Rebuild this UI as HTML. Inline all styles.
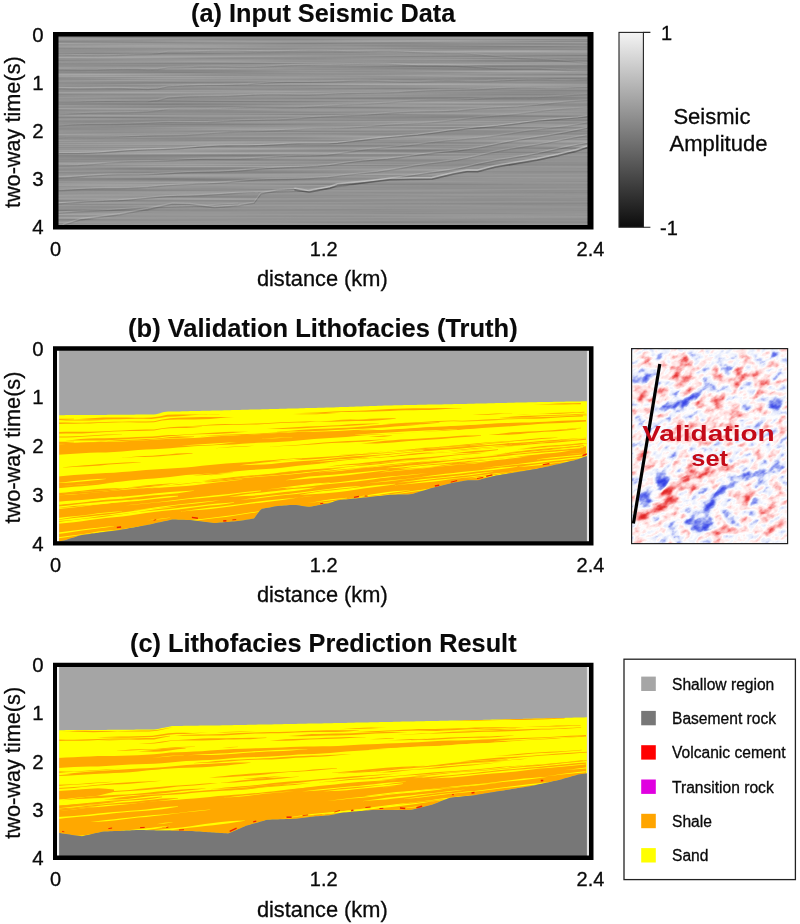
<!DOCTYPE html>
<html lang="en"><head><meta charset="utf-8"><title>Lithofacies prediction figure</title>
<style>html,body{margin:0;padding:0;background:#fff}svg{display:block}text{font-family:"Liberation Sans", Arial, Helvetica, sans-serif;fill:#0a0a0a;stroke:#0a0a0a;stroke-width:0.3px}</style></head><body>
<svg width="800" height="924" viewBox="0 0 800 924">
<rect width="800" height="924" fill="#fff"/>
<defs>
<filter id="seis" x="0" y="0" width="100%" height="100%" color-interpolation-filters="sRGB"><feTurbulence type="fractalNoise" baseFrequency="0.003 0.42" numOctaves="3" seed="7" result="n"/><feColorMatrix in="n" type="matrix" values="0.26 0 0 0 0.445  0.26 0 0 0 0.445  0.26 0 0 0 0.445  0 0 0 0 1"/></filter>
<linearGradient id="cb" x1="0" y1="0" x2="0" y2="1"><stop offset="0" stop-color="#f4f4f4"/><stop offset="1" stop-color="#0c0c0c"/></linearGradient>
<filter id="vmap" x="0" y="0" width="100%" height="100%" color-interpolation-filters="sRGB"><feGaussianBlur in="SourceGraphic" stdDeviation="2" result="sig"/><feTurbulence type="fractalNoise" baseFrequency="0.09 0.15" numOctaves="3" seed="4" result="n"/><feColorMatrix in="n" type="matrix" values="0.85 0 0 0 0.075  0.85 0 0 0 0.075  0.85 0 0 0 0.075  0 0 0 0 1" result="ng"/><feComposite in="sig" in2="ng" operator="arithmetic" k1="0" k2="1" k3="1" k4="-0.5" result="sum"/><feComponentTransfer in="sum"><feFuncR type="table" tableValues="0.2 0.35 0.6 0.9 1 1 0.98 0.93 0.88"/><feFuncG type="table" tableValues="0.25 0.4 0.65 0.92 1 0.87 0.62 0.32 0.15"/><feFuncB type="table" tableValues="0.9 0.92 0.95 0.99 1 0.87 0.62 0.32 0.15"/><feFuncA type="linear" slope="0" intercept="1"/></feComponentTransfer></filter>
<filter id="blur4" x="-30%" y="-30%" width="160%" height="160%"><feGaussianBlur stdDeviation="2.6"/></filter>
</defs>
<rect x="58.5" y="36.5" width="529.0" height="188.5" fill="#949494"/>
<rect x="58.5" y="36.5" width="529.0" height="188.5" fill="#949494" filter="url(#seis)"/>
<clipPath id="clipa"><rect x="58.5" y="36.5" width="529" height="188.5"/></clipPath>
<g clip-path="url(#clipa)" fill="none" stroke-linecap="round" stroke-linejoin="round">
<polygon points="58.0,233.7 64.0,226.3 81.5,220.9 120.0,215.9 148.0,210.8 172.5,205.5 190.0,206.0 214.5,209.0 239.0,207.0 254.0,204.6 261.0,195.2 277.5,192.2 295.0,191.0 309.0,193.2 330.0,189.2 337.5,186.6 362.0,184.1 390.0,181.1 411.0,180.6 432.0,180.3 453.0,175.2 467.0,172.7 477.5,172.7 495.0,168.3 516.0,164.8 537.0,161.3 558.0,156.8 575.5,152.6 588.0,148.5 588,226 58,226" fill="#929292" opacity="0.55"/>
<path d="M58.0 54.0 L68.0 54.1 L78.0 54.4 L88.0 54.6 L98.0 54.8 L108.0 54.6 L118.0 54.3 L128.0 53.9 L138.0 53.5 L148.0 53.4 L158.0 52.8 L168.0 51.0 L178.0 51.0 L188.0 50.9 L198.0 50.6 L208.0 50.2 L218.0 49.9 L228.0 49.9 L238.0 50.0 L248.0 50.3 L258.0 50.6 L268.0 50.7 L278.0 50.5 L288.0 50.2 L298.0 49.9 L308.0 49.8 L318.0 49.8 L328.0 49.9 L338.0 50.3 L348.0 50.6 L358.0 50.6 L368.0 50.4 L378.0 50.2 L388.0 50.2 L398.0 50.5 L408.0 51.1 L418.0 51.6 L428.0 52.0 L438.0 52.3 L448.0 52.4 L458.0 52.5 L468.0 53.0 L478.0 53.7 L488.0 54.7 L498.0 55.7 L508.0 56.6 L518.0 57.3 L528.0 57.8 L538.0 58.3 L548.0 58.8 L558.0 59.6 L568.0 60.5 L578.0 61.5 L588.0 62.3" stroke="#e2e2e2" stroke-width="1.1" opacity="0.1"/>
<path d="M58.0 55.3 L68.0 55.4 L78.0 55.7 L88.0 55.9 L98.0 56.1 L108.0 55.9 L118.0 55.6 L128.0 55.2 L138.0 54.8 L148.0 54.7 L158.0 54.1 L168.0 52.3 L178.0 52.3 L188.0 52.2 L198.0 51.9 L208.0 51.5 L218.0 51.2 L228.0 51.2 L238.0 51.3 L248.0 51.6 L258.0 51.9 L268.0 52.0 L278.0 51.8 L288.0 51.5 L298.0 51.2 L308.0 51.1 L318.0 51.1 L328.0 51.2 L338.0 51.6 L348.0 51.9 L358.0 51.9 L368.0 51.7 L378.0 51.5 L388.0 51.5 L398.0 51.8 L408.0 52.4 L418.0 52.9 L428.0 53.3 L438.0 53.6 L448.0 53.7 L458.0 53.8 L468.0 54.3 L478.0 55.0 L488.0 56.0 L498.0 57.0 L508.0 57.9 L518.0 58.6 L528.0 59.1 L538.0 59.6 L548.0 60.1 L558.0 60.9 L568.0 61.8 L578.0 62.8 L588.0 63.6" stroke="#383838" stroke-width="1.1" opacity="0.1"/>
<path d="M58.0 69.0 L68.0 69.1 L78.0 69.3 L88.0 69.2 L98.0 69.1 L108.0 68.7 L118.0 68.4 L128.0 68.2 L138.0 68.3 L148.0 68.7 L158.0 68.3 L168.0 66.7 L178.0 66.6 L188.0 66.4 L198.0 66.1 L208.0 65.9 L218.0 65.9 L228.0 66.1 L238.0 66.3 L248.0 66.3 L258.0 66.1 L268.0 65.7 L278.0 65.1 L288.0 64.6 L298.0 64.2 L308.0 64.1 L318.0 64.0 L328.0 63.9 L338.0 63.8 L348.0 63.5 L358.0 63.2 L368.0 62.9 L378.0 62.9 L388.0 63.1 L398.0 63.6 L408.0 64.2 L418.0 64.6 L428.0 64.7 L438.0 64.8 L448.0 64.9 L458.0 65.2 L468.0 65.8 L478.0 66.5 L488.0 67.2 L498.0 67.7 L508.0 67.9 L518.0 67.9 L528.0 67.9 L538.0 68.0 L548.0 68.4 L558.0 68.9 L568.0 69.3 L578.0 69.7 L588.0 69.8" stroke="#e2e2e2" stroke-width="1.1" opacity="0.12"/>
<path d="M58.0 70.3 L68.0 70.4 L78.0 70.6 L88.0 70.5 L98.0 70.4 L108.0 70.0 L118.0 69.7 L128.0 69.5 L138.0 69.6 L148.0 70.0 L158.0 69.6 L168.0 68.0 L178.0 67.9 L188.0 67.7 L198.0 67.4 L208.0 67.2 L218.0 67.2 L228.0 67.4 L238.0 67.6 L248.0 67.6 L258.0 67.4 L268.0 67.0 L278.0 66.4 L288.0 65.9 L298.0 65.5 L308.0 65.4 L318.0 65.3 L328.0 65.2 L338.0 65.1 L348.0 64.8 L358.0 64.5 L368.0 64.2 L378.0 64.2 L388.0 64.4 L398.0 64.9 L408.0 65.5 L418.0 65.9 L428.0 66.0 L438.0 66.1 L448.0 66.2 L458.0 66.5 L468.0 67.1 L478.0 67.8 L488.0 68.5 L498.0 69.0 L508.0 69.2 L518.0 69.2 L528.0 69.2 L538.0 69.3 L548.0 69.7 L558.0 70.2 L568.0 70.6 L578.0 71.0 L588.0 71.1" stroke="#383838" stroke-width="1.1" opacity="0.12"/>
<path d="M58.0 87.3 L68.0 87.6 L78.0 87.7 L88.0 87.6 L98.0 87.4 L108.0 87.3 L118.0 87.3 L128.0 87.6 L138.0 88.0 L148.0 88.3 L158.0 87.7 L168.0 85.7 L178.0 85.2 L188.0 84.8 L198.0 84.4 L208.0 84.2 L218.0 84.2 L228.0 84.1 L238.0 83.8 L248.0 83.4 L258.0 82.7 L268.0 82.0 L278.0 81.5 L288.0 81.2 L298.0 81.2 L308.0 81.2 L318.0 81.1 L328.0 80.9 L338.0 80.6 L348.0 80.2 L358.0 80.0 L368.0 80.0 L378.0 80.2 L388.0 80.4 L398.0 80.7 L408.0 80.8 L418.0 80.7 L428.0 80.4 L438.0 80.2 L448.0 80.1 L458.0 80.2 L468.0 80.4 L478.0 80.5 L488.0 80.4 L498.0 80.0 L508.0 79.5 L518.0 79.1 L528.0 78.9 L538.0 78.9 L548.0 79.1 L558.0 79.4 L568.0 79.4 L578.0 79.3 L588.0 79.1" stroke="#e2e2e2" stroke-width="1.1" opacity="0.16"/>
<path d="M58.0 88.6 L68.0 88.9 L78.0 89.0 L88.0 88.9 L98.0 88.7 L108.0 88.6 L118.0 88.6 L128.0 88.9 L138.0 89.3 L148.0 89.6 L158.0 89.0 L168.0 87.0 L178.0 86.5 L188.0 86.1 L198.0 85.7 L208.0 85.5 L218.0 85.5 L228.0 85.4 L238.0 85.1 L248.0 84.7 L258.0 84.0 L268.0 83.3 L278.0 82.8 L288.0 82.5 L298.0 82.5 L308.0 82.5 L318.0 82.4 L328.0 82.2 L338.0 81.9 L348.0 81.5 L358.0 81.3 L368.0 81.3 L378.0 81.5 L388.0 81.7 L398.0 82.0 L408.0 82.1 L418.0 82.0 L428.0 81.7 L438.0 81.5 L448.0 81.4 L458.0 81.5 L468.0 81.7 L478.0 81.8 L488.0 81.7 L498.0 81.3 L508.0 80.8 L518.0 80.4 L528.0 80.2 L538.0 80.2 L548.0 80.4 L558.0 80.7 L568.0 80.7 L578.0 80.6 L588.0 80.4" stroke="#383838" stroke-width="1.1" opacity="0.16"/>
<path d="M58.0 100.9 L68.0 101.0 L78.0 100.9 L88.0 100.6 L98.0 100.4 L108.0 100.3 L118.0 100.5 L128.0 100.6 L138.0 100.7 L148.0 100.6 L158.0 99.4 L168.0 96.9 L178.0 96.3 L188.0 95.8 L198.0 95.6 L208.0 95.5 L218.0 95.4 L228.0 95.2 L238.0 94.8 L248.0 94.2 L258.0 93.7 L268.0 93.5 L278.0 93.4 L288.0 93.6 L298.0 93.8 L308.0 93.8 L318.0 93.6 L328.0 93.2 L338.0 92.7 L348.0 92.3 L358.0 92.2 L368.0 92.1 L378.0 92.0 L388.0 91.8 L398.0 91.4 L408.0 90.8 L418.0 90.2 L428.0 89.7 L438.0 89.4 L448.0 89.2 L458.0 89.2 L468.0 89.0 L478.0 88.6 L488.0 88.1 L498.0 87.5 L508.0 87.1 L518.0 86.9 L528.0 87.0 L538.0 87.2 L548.0 87.4 L558.0 87.4 L568.0 87.2 L578.0 86.8 L588.0 86.6" stroke="#e2e2e2" stroke-width="1.1" opacity="0.14"/>
<path d="M58.0 102.2 L68.0 102.3 L78.0 102.2 L88.0 101.9 L98.0 101.7 L108.0 101.6 L118.0 101.8 L128.0 101.9 L138.0 102.0 L148.0 101.9 L158.0 100.7 L168.0 98.2 L178.0 97.6 L188.0 97.1 L198.0 96.9 L208.0 96.8 L218.0 96.7 L228.0 96.5 L238.0 96.1 L248.0 95.5 L258.0 95.0 L268.0 94.8 L278.0 94.7 L288.0 94.9 L298.0 95.1 L308.0 95.1 L318.0 94.9 L328.0 94.5 L338.0 94.0 L348.0 93.6 L358.0 93.5 L368.0 93.4 L378.0 93.3 L388.0 93.1 L398.0 92.7 L408.0 92.1 L418.0 91.5 L428.0 91.0 L438.0 90.7 L448.0 90.5 L458.0 90.5 L468.0 90.3 L478.0 89.9 L488.0 89.4 L498.0 88.8 L508.0 88.4 L518.0 88.2 L528.0 88.3 L538.0 88.5 L548.0 88.7 L558.0 88.7 L568.0 88.5 L578.0 88.1 L588.0 87.9" stroke="#383838" stroke-width="1.1" opacity="0.14"/>
<path d="M58.0 113.8 L68.0 113.3 L78.0 112.7 L88.0 112.2 L98.0 111.9 L108.0 111.8 L118.0 111.8 L128.0 111.6 L138.0 111.3 L148.0 110.8 L158.0 109.8 L168.0 108.2 L178.0 107.9 L188.0 107.9 L198.0 108.0 L208.0 108.1 L218.0 107.9 L228.0 107.6 L238.0 107.2 L248.0 106.8 L258.0 106.7 L268.0 106.7 L278.0 106.8 L288.0 106.8 L298.0 106.6 L308.0 106.1 L318.0 105.5 L328.0 104.9 L338.0 104.3 L348.0 103.8 L358.0 103.5 L368.0 103.1 L378.0 102.5 L388.0 101.8 L398.0 100.9 L408.0 100.2 L418.0 99.6 L428.0 99.3 L438.0 99.2 L448.0 99.2 L458.0 99.0 L468.0 98.6 L478.0 98.0 L488.0 97.4 L498.0 97.0 L508.0 96.8 L518.0 96.7 L528.0 96.7 L538.0 96.5 L548.0 96.0 L558.0 95.4 L568.0 94.6 L578.0 93.9 L588.0 93.5" stroke="#e2e2e2" stroke-width="1.1" opacity="0.1"/>
<path d="M58.0 115.1 L68.0 114.6 L78.0 114.0 L88.0 113.5 L98.0 113.2 L108.0 113.1 L118.0 113.1 L128.0 112.9 L138.0 112.6 L148.0 112.1 L158.0 111.1 L168.0 109.5 L178.0 109.2 L188.0 109.2 L198.0 109.3 L208.0 109.4 L218.0 109.2 L228.0 108.9 L238.0 108.5 L248.0 108.1 L258.0 108.0 L268.0 108.0 L278.0 108.1 L288.0 108.1 L298.0 107.9 L308.0 107.4 L318.0 106.8 L328.0 106.2 L338.0 105.6 L348.0 105.1 L358.0 104.8 L368.0 104.4 L378.0 103.8 L388.0 103.1 L398.0 102.2 L408.0 101.5 L418.0 100.9 L428.0 100.6 L438.0 100.5 L448.0 100.5 L458.0 100.3 L468.0 99.9 L478.0 99.3 L488.0 98.7 L498.0 98.3 L508.0 98.1 L518.0 98.0 L528.0 98.0 L538.0 97.8 L548.0 97.3 L558.0 96.7 L568.0 95.9 L578.0 95.2 L588.0 94.8" stroke="#383838" stroke-width="1.1" opacity="0.1"/>
<path d="M58.0 124.9 L68.0 124.2 L78.0 123.7 L88.0 123.5 L98.0 123.4 L108.0 123.4 L118.0 123.3 L128.0 123.0 L138.0 122.6 L148.0 122.2 L158.0 121.7 L168.0 121.3 L178.0 121.4 L188.0 121.5 L198.0 121.5 L208.0 121.3 L218.0 120.8 L228.0 120.2 L238.0 119.7 L248.0 119.4 L258.0 119.2 L268.0 119.0 L278.0 118.8 L288.0 118.3 L298.0 117.6 L308.0 116.8 L318.0 116.1 L328.0 115.6 L338.0 115.2 L348.0 114.8 L358.0 114.4 L368.0 113.9 L378.0 113.1 L388.0 112.3 L398.0 111.6 L408.0 111.2 L418.0 110.9 L428.0 110.8 L438.0 110.7 L448.0 110.3 L458.0 109.7 L468.0 108.8 L478.0 108.0 L488.0 107.2 L498.0 106.6 L508.0 106.2 L518.0 105.7 L528.0 104.9 L538.0 104.0 L548.0 102.8 L558.0 101.7 L568.0 100.8 L578.0 100.0 L588.0 99.5" stroke="#e2e2e2" stroke-width="1.1" opacity="0.14"/>
<path d="M58.0 126.2 L68.0 125.5 L78.0 125.0 L88.0 124.8 L98.0 124.7 L108.0 124.7 L118.0 124.6 L128.0 124.3 L138.0 123.9 L148.0 123.5 L158.0 123.0 L168.0 122.6 L178.0 122.7 L188.0 122.8 L198.0 122.8 L208.0 122.6 L218.0 122.1 L228.0 121.5 L238.0 121.0 L248.0 120.7 L258.0 120.5 L268.0 120.3 L278.0 120.1 L288.0 119.6 L298.0 118.9 L308.0 118.1 L318.0 117.4 L328.0 116.9 L338.0 116.5 L348.0 116.1 L358.0 115.7 L368.0 115.2 L378.0 114.4 L388.0 113.6 L398.0 112.9 L408.0 112.5 L418.0 112.2 L428.0 112.1 L438.0 112.0 L448.0 111.6 L458.0 111.0 L468.0 110.1 L478.0 109.3 L488.0 108.5 L498.0 107.9 L508.0 107.5 L518.0 107.0 L528.0 106.2 L538.0 105.3 L548.0 104.1 L558.0 103.0 L568.0 102.1 L578.0 101.3 L588.0 100.8" stroke="#383838" stroke-width="1.1" opacity="0.14"/>
<path d="M58.0 136.8 L68.0 136.5 L78.0 136.5 L88.0 136.6 L98.0 136.6 L108.0 136.5 L118.0 136.2 L128.0 135.7 L138.0 135.2 L148.0 134.8 L158.0 134.6 L168.0 134.6 L178.0 134.4 L188.0 134.1 L198.0 133.5 L208.0 132.7 L218.0 131.9 L228.0 131.3 L238.0 130.9 L248.0 130.7 L258.0 130.5 L268.0 130.1 L278.0 129.6 L288.0 129.0 L298.0 128.4 L308.0 127.9 L318.0 127.7 L328.0 127.7 L338.0 127.5 L348.0 127.1 L358.0 126.5 L368.0 125.7 L378.0 124.8 L388.0 124.0 L398.0 123.4 L408.0 122.9 L418.0 122.5 L428.0 121.9 L438.0 121.1 L448.0 120.1 L458.0 118.9 L468.0 117.7 L478.0 116.6 L488.0 115.7 L498.0 114.9 L508.0 114.1 L518.0 113.1 L528.0 111.9 L538.0 110.6 L548.0 109.4 L558.0 108.5 L568.0 107.8 L578.0 107.2 L588.0 106.7" stroke="#e2e2e2" stroke-width="1.1" opacity="0.12"/>
<path d="M58.0 138.1 L68.0 137.8 L78.0 137.8 L88.0 137.9 L98.0 137.9 L108.0 137.8 L118.0 137.5 L128.0 137.0 L138.0 136.5 L148.0 136.1 L158.0 135.9 L168.0 135.9 L178.0 135.7 L188.0 135.4 L198.0 134.8 L208.0 134.0 L218.0 133.2 L228.0 132.6 L238.0 132.2 L248.0 132.0 L258.0 131.8 L268.0 131.4 L278.0 130.9 L288.0 130.3 L298.0 129.7 L308.0 129.2 L318.0 129.0 L328.0 129.0 L338.0 128.8 L348.0 128.4 L358.0 127.8 L368.0 127.0 L378.0 126.1 L388.0 125.3 L398.0 124.7 L408.0 124.2 L418.0 123.8 L428.0 123.2 L438.0 122.4 L448.0 121.4 L458.0 120.2 L468.0 119.0 L478.0 117.9 L488.0 117.0 L498.0 116.2 L508.0 115.4 L518.0 114.4 L528.0 113.2 L538.0 111.9 L548.0 110.7 L558.0 109.8 L568.0 109.1 L578.0 108.5 L588.0 108.0" stroke="#383838" stroke-width="1.1" opacity="0.12"/>
<path d="M58.0 152.3 L68.0 152.3 L78.0 152.3 L88.0 152.1 L98.0 151.7 L108.0 151.1 L118.0 150.3 L128.0 149.6 L138.0 149.1 L148.0 148.7 L158.0 148.4 L168.0 148.1 L178.0 147.6 L188.0 146.9 L198.0 146.1 L208.0 145.4 L218.0 145.0 L228.0 144.8 L238.0 144.7 L248.0 144.7 L258.0 144.5 L268.0 144.1 L278.0 143.6 L288.0 143.1 L298.0 142.8 L308.0 142.7 L318.0 142.7 L328.0 142.7 L338.0 142.1 L348.0 141.0 L358.0 139.8 L368.0 138.6 L378.0 137.4 L388.0 136.5 L398.0 135.6 L408.0 134.8 L418.0 133.9 L428.0 132.7 L438.0 131.4 L448.0 130.0 L458.0 128.8 L468.0 127.7 L478.0 126.8 L488.0 125.9 L498.0 125.0 L508.0 123.8 L518.0 122.6 L528.0 121.2 L538.0 120.0 L548.0 119.1 L558.0 118.3 L568.0 117.5 L578.0 116.7 L588.0 115.6" stroke="#e2e2e2" stroke-width="1.1" opacity="0.3"/>
<path d="M58.0 153.6 L68.0 153.6 L78.0 153.6 L88.0 153.4 L98.0 153.0 L108.0 152.4 L118.0 151.6 L128.0 150.9 L138.0 150.4 L148.0 150.0 L158.0 149.7 L168.0 149.4 L178.0 148.9 L188.0 148.2 L198.0 147.4 L208.0 146.7 L218.0 146.3 L228.0 146.1 L238.0 146.0 L248.0 146.0 L258.0 145.8 L268.0 145.4 L278.0 144.9 L288.0 144.4 L298.0 144.1 L308.0 144.0 L318.0 144.0 L328.0 144.0 L338.0 143.4 L348.0 142.3 L358.0 141.1 L368.0 139.9 L378.0 138.7 L388.0 137.8 L398.0 136.9 L408.0 136.1 L418.0 135.2 L428.0 134.0 L438.0 132.7 L448.0 131.3 L458.0 130.1 L468.0 129.0 L478.0 128.1 L488.0 127.2 L498.0 126.3 L508.0 125.1 L518.0 123.9 L528.0 122.5 L538.0 121.3 L548.0 120.4 L558.0 119.6 L568.0 118.8 L578.0 118.0 L588.0 116.9" stroke="#383838" stroke-width="1.1" opacity="0.3"/>
<path d="M58.0 165.0 L68.0 164.8 L78.0 164.4 L88.0 163.7 L98.0 162.9 L108.0 162.0 L118.0 161.3 L128.0 160.8 L138.0 160.6 L148.0 160.4 L158.0 160.2 L168.0 159.8 L178.0 159.2 L188.0 158.6 L198.0 158.2 L208.0 157.9 L218.0 157.9 L228.0 158.0 L238.0 157.9 L248.0 157.6 L258.0 157.1 L268.0 156.5 L278.0 155.9 L288.0 155.4 L298.0 155.1 L308.0 154.9 L318.0 154.6 L328.0 154.1 L338.0 152.8 L348.0 151.3 L358.0 149.8 L368.0 148.5 L378.0 147.4 L388.0 146.5 L398.0 145.6 L408.0 144.6 L418.0 143.4 L428.0 142.0 L438.0 140.8 L448.0 139.7 L458.0 138.9 L468.0 138.0 L478.0 137.1 L488.0 135.9 L498.0 134.6 L508.0 133.1 L518.0 131.5 L528.0 130.0 L538.0 128.7 L548.0 127.6 L558.0 126.4 L568.0 125.1 L578.0 123.5 L588.0 121.7" stroke="#e2e2e2" stroke-width="1.1" opacity="0.14"/>
<path d="M58.0 166.3 L68.0 166.1 L78.0 165.7 L88.0 165.0 L98.0 164.2 L108.0 163.3 L118.0 162.6 L128.0 162.1 L138.0 161.9 L148.0 161.7 L158.0 161.5 L168.0 161.1 L178.0 160.5 L188.0 159.9 L198.0 159.5 L208.0 159.2 L218.0 159.2 L228.0 159.3 L238.0 159.2 L248.0 158.9 L258.0 158.4 L268.0 157.8 L278.0 157.2 L288.0 156.7 L298.0 156.4 L308.0 156.2 L318.0 155.9 L328.0 155.4 L338.0 154.1 L348.0 152.6 L358.0 151.1 L368.0 149.8 L378.0 148.7 L388.0 147.8 L398.0 146.9 L408.0 145.9 L418.0 144.7 L428.0 143.3 L438.0 142.1 L448.0 141.0 L458.0 140.2 L468.0 139.3 L478.0 138.4 L488.0 137.2 L498.0 135.9 L508.0 134.4 L518.0 132.8 L528.0 131.3 L538.0 130.0 L548.0 128.9 L558.0 127.7 L568.0 126.4 L578.0 124.8 L588.0 123.0" stroke="#383838" stroke-width="1.1" opacity="0.14"/>
<path d="M58.0 176.8 L68.0 176.4 L78.0 175.8 L88.0 175.0 L98.0 174.4 L108.0 173.9 L118.0 173.7 L128.0 173.7 L138.0 173.7 L148.0 173.5 L158.0 173.1 L168.0 172.6 L178.0 172.0 L188.0 171.5 L198.0 171.2 L208.0 171.1 L218.0 170.9 L228.0 170.5 L238.0 169.9 L248.0 169.1 L258.0 168.2 L268.0 167.5 L278.0 166.9 L288.0 166.5 L298.0 166.2 L308.0 165.8 L318.0 165.3 L328.0 164.5 L338.0 163.1 L348.0 161.7 L358.0 160.5 L368.0 159.6 L378.0 158.7 L388.0 157.9 L398.0 156.8 L408.0 155.5 L418.0 154.1 L428.0 152.8 L438.0 151.6 L448.0 150.7 L458.0 149.8 L468.0 148.5 L478.0 146.9 L488.0 145.1 L498.0 143.1 L508.0 141.1 L518.0 139.2 L528.0 137.6 L538.0 136.1 L548.0 134.6 L558.0 132.9 L568.0 131.1 L578.0 129.1 L588.0 127.1" stroke="#e2e2e2" stroke-width="1.1" opacity="0.22"/>
<path d="M58.0 178.1 L68.0 177.7 L78.0 177.1 L88.0 176.3 L98.0 175.7 L108.0 175.2 L118.0 175.0 L128.0 175.0 L138.0 175.0 L148.0 174.8 L158.0 174.4 L168.0 173.9 L178.0 173.3 L188.0 172.8 L198.0 172.5 L208.0 172.4 L218.0 172.2 L228.0 171.8 L238.0 171.2 L248.0 170.4 L258.0 169.5 L268.0 168.8 L278.0 168.2 L288.0 167.8 L298.0 167.5 L308.0 167.1 L318.0 166.6 L328.0 165.8 L338.0 164.4 L348.0 163.0 L358.0 161.8 L368.0 160.9 L378.0 160.0 L388.0 159.2 L398.0 158.1 L408.0 156.8 L418.0 155.4 L428.0 154.1 L438.0 152.9 L448.0 152.0 L458.0 151.1 L468.0 149.8 L478.0 148.2 L488.0 146.4 L498.0 144.4 L508.0 142.4 L518.0 140.5 L528.0 138.9 L538.0 137.4 L548.0 135.9 L558.0 134.2 L568.0 132.4 L578.0 130.4 L588.0 128.4" stroke="#383838" stroke-width="1.1" opacity="0.22"/>
<path d="M58.0 189.6 L68.0 189.1 L78.0 188.5 L88.0 188.0 L98.0 187.6 L108.0 187.4 L118.0 187.4 L128.0 187.2 L138.0 186.8 L148.0 186.2 L158.0 185.3 L168.0 184.5 L178.0 183.9 L188.0 183.4 L198.0 183.0 L208.0 182.7 L218.0 182.1 L228.0 181.4 L238.0 180.5 L248.0 179.6 L258.0 179.0 L268.0 178.6 L278.0 178.4 L288.0 178.3 L298.0 178.0 L308.0 177.6 L318.0 177.0 L328.0 176.4 L338.0 175.2 L348.0 174.0 L358.0 173.0 L368.0 172.0 L378.0 170.9 L388.0 169.4 L398.0 167.8 L408.0 166.1 L418.0 164.4 L428.0 163.0 L438.0 161.7 L448.0 160.4 L458.0 159.0 L468.0 157.1 L478.0 154.9 L488.0 152.6 L498.0 150.4 L508.0 148.5 L518.0 146.8 L528.0 145.3 L538.0 143.7 L548.0 142.0 L558.0 140.0 L568.0 138.0 L578.0 136.1 L588.0 134.4" stroke="#e2e2e2" stroke-width="1.1" opacity="0.18"/>
<path d="M58.0 190.9 L68.0 190.4 L78.0 189.8 L88.0 189.3 L98.0 188.9 L108.0 188.7 L118.0 188.7 L128.0 188.5 L138.0 188.1 L148.0 187.5 L158.0 186.6 L168.0 185.8 L178.0 185.2 L188.0 184.7 L198.0 184.3 L208.0 184.0 L218.0 183.4 L228.0 182.7 L238.0 181.8 L248.0 180.9 L258.0 180.3 L268.0 179.9 L278.0 179.7 L288.0 179.6 L298.0 179.3 L308.0 178.9 L318.0 178.3 L328.0 177.7 L338.0 176.5 L348.0 175.3 L358.0 174.3 L368.0 173.3 L378.0 172.2 L388.0 170.7 L398.0 169.1 L408.0 167.4 L418.0 165.7 L428.0 164.3 L438.0 163.0 L448.0 161.7 L458.0 160.3 L468.0 158.4 L478.0 156.2 L488.0 153.9 L498.0 151.7 L508.0 149.8 L518.0 148.1 L528.0 146.6 L538.0 145.0 L548.0 143.3 L558.0 141.3 L568.0 139.3 L578.0 137.4 L588.0 135.7" stroke="#383838" stroke-width="1.1" opacity="0.18"/>
<path d="M58.0 202.7 L68.0 202.0 L78.0 201.3 L88.0 200.7 L98.0 200.4 L108.0 200.0 L118.0 199.6 L128.0 198.9 L138.0 198.0 L148.0 197.1 L158.0 196.2 L168.0 195.5 L178.0 195.1 L188.0 194.9 L198.0 194.6 L208.0 194.1 L218.0 193.5 L228.0 192.8 L238.0 192.1 L248.0 191.7 L258.0 191.6 L308.0 189.9 L408.0 175.3 L418.0 173.7 L428.0 172.3 L438.0 170.9 L448.0 169.4 L458.0 167.8 L468.0 165.6 L478.0 163.3 L488.0 161.2 L498.0 159.3 L508.0 157.7 L518.0 156.1 L528.0 154.4 L538.0 152.5 L548.0 150.3 L558.0 148.1 L568.0 145.9 L578.0 144.0 L588.0 142.2" stroke="#e2e2e2" stroke-width="1.1" opacity="0.22"/>
<path d="M58.0 204.0 L68.0 203.3 L78.0 202.6 L88.0 202.0 L98.0 201.7 L108.0 201.3 L118.0 200.9 L128.0 200.2 L138.0 199.3 L148.0 198.4 L158.0 197.5 L168.0 196.8 L178.0 196.4 L188.0 196.2 L198.0 195.9 L208.0 195.4 L218.0 194.8 L228.0 194.1 L238.0 193.4 L248.0 193.0 L258.0 192.9 L308.0 191.2 L408.0 176.6 L418.0 175.0 L428.0 173.6 L438.0 172.2 L448.0 170.7 L458.0 169.1 L468.0 166.9 L478.0 164.6 L488.0 162.5 L498.0 160.6 L508.0 159.0 L518.0 157.4 L528.0 155.7 L538.0 153.8 L548.0 151.6 L558.0 149.4 L568.0 147.2 L578.0 145.3 L588.0 143.5" stroke="#383838" stroke-width="1.1" opacity="0.22"/>
<path d="M58.0 212.2 L68.0 211.4 L78.0 210.8 L88.0 210.3 L98.0 210.0 L108.0 209.5 L118.0 208.8 L128.0 208.0 L138.0 207.2 L208.0 204.7 L218.0 204.1 L228.0 203.5 L238.0 203.1" stroke="#e2e2e2" stroke-width="1.1" opacity="0.16"/>
<path d="M58.0 213.5 L68.0 212.7 L78.0 212.1 L88.0 211.6 L98.0 211.3 L108.0 210.8 L118.0 210.1 L128.0 209.3 L138.0 208.5 L208.0 206.0 L218.0 205.4 L228.0 204.8 L238.0 204.4" stroke="#383838" stroke-width="1.1" opacity="0.16"/>
<path d="M58.0 231.1 L64.0 223.7 L81.5 218.3 L120.0 213.3 L148.0 208.2 L172.5 202.9 L190.0 203.4 L214.5 206.4 L239.0 204.4 L254.0 202.0 L261.0 192.6 L277.5 189.6 L295.0 188.4" stroke="#e6e6e6" stroke-width="1.2" opacity="0.2"/>
<path d="M58.0 232.6 L64.0 225.2 L81.5 219.8 L120.0 214.8 L148.0 209.7 L172.5 204.4 L190.0 204.9 L214.5 207.9 L239.0 205.9 L254.0 203.5 L261.0 194.1 L277.5 191.1 L295.0 189.9" stroke="#303030" stroke-width="1.2" opacity="0.2"/>
<path d="M295.0 188.2 L309.0 190.4 L330.0 186.4 L337.5 183.8 L362.0 181.3 L390.0 178.3 L411.0 177.8 L432.0 177.5 L453.0 172.4 L467.0 169.9 L477.5 169.9 L495.0 165.5 L516.0 162.0 L537.0 158.5 L558.0 154.0 L575.5 149.8 L588.0 145.7" stroke="#ececec" stroke-width="1.5" opacity="0.4"/>
<path d="M295.0 190.0 L309.0 192.2 L330.0 188.2 L337.5 185.6 L362.0 183.1 L390.0 180.1 L411.0 179.6 L432.0 179.3 L453.0 174.2 L467.0 171.7 L477.5 171.7 L495.0 167.3 L516.0 163.8 L537.0 160.3 L558.0 155.8 L575.5 151.6 L588.0 147.5" stroke="#262626" stroke-width="1.5" opacity="0.42"/>
</g>
<path fill="#000" fill-rule="evenodd" d="M53.0 32.0H593.5V229.5H53.0Z M58.5 36.5V225.0H587.5V36.5Z"/>
<text x="43.6" y="41.5" font-size="20.4" text-anchor="end">0</text>
<text x="43.6" y="89.7" font-size="20.4" text-anchor="end">1</text>
<text x="43.6" y="137.9" font-size="20.4" text-anchor="end">2</text>
<text x="43.6" y="186.2" font-size="20.4" text-anchor="end">3</text>
<text x="43.6" y="234.4" font-size="20.4" text-anchor="end">4</text>
<text x="55.6" y="255.5" font-size="20" text-anchor="middle">0</text>
<text x="323.7" y="255.5" font-size="20" text-anchor="middle">1.2</text>
<text x="590.5" y="255.5" font-size="20" text-anchor="middle">2.4</text>
<text x="322.3" y="285.5" font-size="21.8" text-anchor="middle">distance (km)</text>
<text transform="translate(19.6 132.2) rotate(-90)" font-size="21.7" text-anchor="middle">two-way time(s)</text>
<text x="323.2" y="22.1" font-size="25.3" font-weight="bold" text-anchor="middle" style="stroke-width:0.12px">(a) Input Seismic Data</text>
<rect x="619" y="32.4" width="24.4" height="194.8" fill="url(#cb)" stroke="#222" stroke-width="1.1"/>
<path d="M643.4 32.4H650.4M643.4 227.2H650.4" stroke="#222" stroke-width="1.1" fill="none"/>
<text x="661" y="40.2" font-size="20">1</text>
<text x="660" y="235.2" font-size="20">-1</text>
<text x="673.4" y="124.2" font-size="22">Seismic</text>
<text x="669.6" y="150.6" font-size="22">Amplitude</text>
<g>
<rect x="56.5" y="350.2" width="533.0" height="191.50000000000006" fill="#a5a5a5"/>
<clipPath id="sedb"><polygon points="58.0,415.2 60.0,415.2 62.0,415.2 64.0,415.2 66.0,415.1 68.0,415.1 70.0,415.1 72.0,415.1 74.0,415.1 76.0,415.1 78.0,415.1 80.0,415.0 82.0,415.0 84.0,415.0 86.0,415.0 88.0,415.0 90.0,415.0 92.0,415.0 94.0,414.9 96.0,414.9 98.0,414.9 100.0,414.9 102.0,414.9 104.0,414.9 106.0,414.9 108.0,414.8 110.0,414.8 112.0,414.8 114.0,414.8 116.0,414.8 118.0,414.8 120.0,414.8 122.0,414.7 124.0,414.7 126.0,414.7 128.0,414.7 130.0,414.7 132.0,414.7 134.0,414.7 136.0,414.6 138.0,414.6 140.0,414.6 142.0,414.6 144.0,414.6 146.0,414.6 148.0,414.6 150.0,414.5 152.0,414.5 154.0,414.5 156.0,414.2 158.0,413.7 160.0,413.2 162.0,412.6 164.0,412.1 166.0,411.7 168.0,411.6 170.0,411.6 172.0,411.5 174.0,411.5 176.0,411.5 178.0,411.4 180.0,411.4 182.0,411.3 184.0,411.3 186.0,411.2 188.0,411.2 190.0,411.1 192.0,411.1 194.0,411.0 196.0,411.0 198.0,410.9 200.0,410.9 202.0,410.8 204.0,410.8 206.0,410.7 208.0,410.7 210.0,410.7 212.0,410.6 214.0,410.6 216.0,410.5 218.0,410.5 220.0,410.4 222.0,410.4 224.0,410.3 226.0,410.3 228.0,410.2 230.0,410.2 232.0,410.1 234.0,410.1 236.0,410.0 238.0,410.0 240.0,409.9 242.0,409.8 244.0,409.8 246.0,409.7 248.0,409.7 250.0,409.6 252.0,409.6 254.0,409.5 256.0,409.5 258.0,409.4 260.0,409.4 262.0,409.3 264.0,409.3 266.0,409.2 268.0,409.2 270.0,409.1 272.0,409.0 274.0,409.0 276.0,408.9 278.0,408.9 280.0,408.8 282.0,408.8 284.0,408.7 286.0,408.7 288.0,408.6 290.0,408.6 292.0,408.5 294.0,408.5 296.0,408.4 298.0,408.4 300.0,408.3 302.0,408.2 304.0,408.2 306.0,408.1 308.0,408.1 310.0,408.0 312.0,408.0 314.0,407.9 316.0,407.9 318.0,407.8 320.0,407.8 322.0,407.7 324.0,407.7 326.0,407.6 328.0,407.6 330.0,407.5 332.0,407.4 334.0,407.4 336.0,407.3 338.0,407.2 340.0,407.1 342.0,407.1 344.0,407.0 346.0,406.9 348.0,406.9 350.0,406.8 352.0,406.7 354.0,406.7 356.0,406.6 358.0,406.5 360.0,406.4 362.0,406.4 364.0,406.3 366.0,406.2 368.0,406.2 370.0,406.1 372.0,406.0 374.0,406.0 376.0,405.9 378.0,405.8 380.0,405.8 382.0,405.7 384.0,405.6 386.0,405.5 388.0,405.5 390.0,405.4 392.0,405.4 394.0,405.3 396.0,405.3 398.0,405.2 400.0,405.2 402.0,405.2 404.0,405.1 406.0,405.1 408.0,405.0 410.0,405.0 412.0,405.0 414.0,404.9 416.0,404.9 418.0,404.8 420.0,404.8 422.0,404.8 424.0,404.7 426.0,404.7 428.0,404.6 430.0,404.6 432.0,404.6 434.0,404.5 436.0,404.5 438.0,404.4 440.0,404.4 442.0,404.4 444.0,404.3 446.0,404.3 448.0,404.2 450.0,404.2 452.0,404.2 454.0,404.1 456.0,404.1 458.0,404.0 460.0,404.0 462.0,404.0 464.0,403.9 466.0,403.9 468.0,403.8 470.0,403.8 472.0,403.7 474.0,403.7 476.0,403.6 478.0,403.6 480.0,403.5 482.0,403.5 484.0,403.4 486.0,403.4 488.0,403.3 490.0,403.3 492.0,403.2 494.0,403.2 496.0,403.1 498.0,403.1 500.0,403.0 502.0,403.0 504.0,402.9 506.0,402.9 508.0,402.8 510.0,402.8 512.0,402.7 514.0,402.7 516.0,402.6 518.0,402.6 520.0,402.5 522.0,402.5 524.0,402.4 526.0,402.4 528.0,402.3 530.0,402.3 532.0,402.3 534.0,402.2 536.0,402.2 538.0,402.1 540.0,402.1 542.0,402.1 544.0,402.0 546.0,402.0 548.0,402.0 550.0,401.9 552.0,401.9 554.0,401.8 556.0,401.8 558.0,401.8 560.0,401.7 562.0,401.7 564.0,401.7 566.0,401.6 568.0,401.6 570.0,401.5 572.0,401.5 574.0,401.5 576.0,401.4 578.0,401.4 580.0,401.4 582.0,401.3 584.0,401.3 586.0,401.2 588.0,401.2 588.0,455.8 586.0,456.5 584.0,457.1 582.0,457.8 580.0,458.5 578.0,459.2 576.0,459.8 574.0,460.4 572.0,460.8 570.0,461.3 568.0,461.8 566.0,462.3 564.0,462.8 562.0,463.2 560.0,463.7 558.0,464.2 556.0,464.6 554.0,465.1 552.0,465.5 550.0,466.0 548.0,466.4 546.0,466.8 544.0,467.3 542.0,467.7 540.0,468.1 538.0,468.6 536.0,469.0 534.0,469.3 532.0,469.6 530.0,470.0 528.0,470.3 526.0,470.6 524.0,471.0 522.0,471.3 520.0,471.6 518.0,472.0 516.0,472.3 514.0,472.6 512.0,473.0 510.0,473.3 508.0,473.6 506.0,474.0 504.0,474.3 502.0,474.6 500.0,475.0 498.0,475.3 496.0,475.6 494.0,476.1 492.0,476.6 490.0,477.1 488.0,477.6 486.0,478.1 484.0,478.6 482.0,479.1 480.0,479.7 478.0,480.2 476.0,480.3 474.0,480.3 472.0,480.3 470.0,480.3 468.0,480.3 466.0,480.5 464.0,480.8 462.0,481.2 460.0,481.6 458.0,481.9 456.0,482.3 454.0,482.6 452.0,483.0 450.0,483.5 448.0,484.0 446.0,484.5 444.0,485.0 442.0,485.5 440.0,486.0 438.0,486.5 436.0,487.0 434.0,487.5 432.0,488.0 430.0,488.6 428.0,489.2 426.0,489.8 424.0,490.4 422.0,491.0 420.0,491.6 418.0,492.2 416.0,492.8 414.0,493.4 412.0,494.0 410.0,494.3 408.0,494.4 406.0,494.4 404.0,494.5 402.0,494.5 400.0,494.6 398.0,494.6 396.0,494.7 394.0,494.7 392.0,494.8 390.0,494.8 388.0,495.0 386.0,495.2 384.0,495.4 382.0,495.7 380.0,495.9 378.0,496.1 376.0,496.3 374.0,496.5 372.0,496.7 370.0,496.9 368.0,497.2 366.0,497.4 364.0,497.6 362.0,497.8 360.0,498.0 358.0,498.2 356.0,498.4 354.0,498.6 352.0,498.8 350.0,499.0 348.0,499.2 346.0,499.4 344.0,499.6 342.0,499.8 340.0,500.0 338.0,500.2 336.0,500.8 334.0,501.6 332.0,502.3 330.0,503.0 328.0,503.4 326.0,503.8 324.0,504.1 322.0,504.5 320.0,504.9 318.0,505.3 316.0,505.7 314.0,506.0 312.0,506.4 310.0,506.8 308.0,506.8 306.0,506.5 304.0,506.2 302.0,505.9 300.0,505.6 298.0,505.3 296.0,505.0 294.0,504.9 292.0,505.0 290.0,505.1 288.0,505.3 286.0,505.4 284.0,505.6 282.0,505.7 280.0,505.8 278.0,506.0 276.0,506.3 274.0,506.6 272.0,507.0 270.0,507.4 268.0,507.7 266.0,508.1 264.0,508.5 262.0,508.8 260.0,510.4 258.0,513.1 256.0,515.8 254.0,518.5 252.0,518.8 250.0,519.2 248.0,519.5 246.0,519.8 244.0,520.2 242.0,520.5 240.0,520.8 238.0,521.1 236.0,521.2 234.0,521.4 232.0,521.6 230.0,521.7 228.0,521.9 226.0,522.1 224.0,522.2 222.0,522.4 220.0,522.6 218.0,522.7 216.0,522.9 214.0,522.9 212.0,522.7 210.0,522.4 208.0,522.2 206.0,522.0 204.0,521.7 202.0,521.5 200.0,521.2 198.0,521.0 196.0,520.7 194.0,520.5 192.0,520.2 190.0,520.0 188.0,519.9 186.0,519.9 184.0,519.8 182.0,519.8 180.0,519.7 178.0,519.7 176.0,519.6 174.0,519.5 172.0,519.6 170.0,520.0 168.0,520.5 166.0,520.9 164.0,521.3 162.0,521.8 160.0,522.2 158.0,522.6 156.0,523.1 154.0,523.5 152.0,523.9 150.0,524.4 148.0,524.8 146.0,525.2 144.0,525.5 142.0,525.9 140.0,526.3 138.0,526.7 136.0,527.0 134.0,527.4 132.0,527.8 130.0,528.1 128.0,528.5 126.0,528.9 124.0,529.3 122.0,529.6 120.0,530.0 118.0,530.3 116.0,530.5 114.0,530.8 112.0,531.0 110.0,531.3 108.0,531.6 106.0,531.8 104.0,532.1 102.0,532.3 100.0,532.6 98.0,532.9 96.0,533.1 94.0,533.4 92.0,533.6 90.0,533.9 88.0,534.2 86.0,534.4 84.0,534.7 82.0,534.9 80.0,535.5 78.0,536.1 76.0,536.7 74.0,537.4 72.0,538.0 70.0,538.6 68.0,539.2 66.0,539.9 64.0,540.5 62.0,540.8 60.0,541.2 58.0,541.5"/></clipPath>
<polygon points="58.0,415.2 60.0,415.2 62.0,415.2 64.0,415.2 66.0,415.1 68.0,415.1 70.0,415.1 72.0,415.1 74.0,415.1 76.0,415.1 78.0,415.1 80.0,415.0 82.0,415.0 84.0,415.0 86.0,415.0 88.0,415.0 90.0,415.0 92.0,415.0 94.0,414.9 96.0,414.9 98.0,414.9 100.0,414.9 102.0,414.9 104.0,414.9 106.0,414.9 108.0,414.8 110.0,414.8 112.0,414.8 114.0,414.8 116.0,414.8 118.0,414.8 120.0,414.8 122.0,414.7 124.0,414.7 126.0,414.7 128.0,414.7 130.0,414.7 132.0,414.7 134.0,414.7 136.0,414.6 138.0,414.6 140.0,414.6 142.0,414.6 144.0,414.6 146.0,414.6 148.0,414.6 150.0,414.5 152.0,414.5 154.0,414.5 156.0,414.2 158.0,413.7 160.0,413.2 162.0,412.6 164.0,412.1 166.0,411.7 168.0,411.6 170.0,411.6 172.0,411.5 174.0,411.5 176.0,411.5 178.0,411.4 180.0,411.4 182.0,411.3 184.0,411.3 186.0,411.2 188.0,411.2 190.0,411.1 192.0,411.1 194.0,411.0 196.0,411.0 198.0,410.9 200.0,410.9 202.0,410.8 204.0,410.8 206.0,410.7 208.0,410.7 210.0,410.7 212.0,410.6 214.0,410.6 216.0,410.5 218.0,410.5 220.0,410.4 222.0,410.4 224.0,410.3 226.0,410.3 228.0,410.2 230.0,410.2 232.0,410.1 234.0,410.1 236.0,410.0 238.0,410.0 240.0,409.9 242.0,409.8 244.0,409.8 246.0,409.7 248.0,409.7 250.0,409.6 252.0,409.6 254.0,409.5 256.0,409.5 258.0,409.4 260.0,409.4 262.0,409.3 264.0,409.3 266.0,409.2 268.0,409.2 270.0,409.1 272.0,409.0 274.0,409.0 276.0,408.9 278.0,408.9 280.0,408.8 282.0,408.8 284.0,408.7 286.0,408.7 288.0,408.6 290.0,408.6 292.0,408.5 294.0,408.5 296.0,408.4 298.0,408.4 300.0,408.3 302.0,408.2 304.0,408.2 306.0,408.1 308.0,408.1 310.0,408.0 312.0,408.0 314.0,407.9 316.0,407.9 318.0,407.8 320.0,407.8 322.0,407.7 324.0,407.7 326.0,407.6 328.0,407.6 330.0,407.5 332.0,407.4 334.0,407.4 336.0,407.3 338.0,407.2 340.0,407.1 342.0,407.1 344.0,407.0 346.0,406.9 348.0,406.9 350.0,406.8 352.0,406.7 354.0,406.7 356.0,406.6 358.0,406.5 360.0,406.4 362.0,406.4 364.0,406.3 366.0,406.2 368.0,406.2 370.0,406.1 372.0,406.0 374.0,406.0 376.0,405.9 378.0,405.8 380.0,405.8 382.0,405.7 384.0,405.6 386.0,405.5 388.0,405.5 390.0,405.4 392.0,405.4 394.0,405.3 396.0,405.3 398.0,405.2 400.0,405.2 402.0,405.2 404.0,405.1 406.0,405.1 408.0,405.0 410.0,405.0 412.0,405.0 414.0,404.9 416.0,404.9 418.0,404.8 420.0,404.8 422.0,404.8 424.0,404.7 426.0,404.7 428.0,404.6 430.0,404.6 432.0,404.6 434.0,404.5 436.0,404.5 438.0,404.4 440.0,404.4 442.0,404.4 444.0,404.3 446.0,404.3 448.0,404.2 450.0,404.2 452.0,404.2 454.0,404.1 456.0,404.1 458.0,404.0 460.0,404.0 462.0,404.0 464.0,403.9 466.0,403.9 468.0,403.8 470.0,403.8 472.0,403.7 474.0,403.7 476.0,403.6 478.0,403.6 480.0,403.5 482.0,403.5 484.0,403.4 486.0,403.4 488.0,403.3 490.0,403.3 492.0,403.2 494.0,403.2 496.0,403.1 498.0,403.1 500.0,403.0 502.0,403.0 504.0,402.9 506.0,402.9 508.0,402.8 510.0,402.8 512.0,402.7 514.0,402.7 516.0,402.6 518.0,402.6 520.0,402.5 522.0,402.5 524.0,402.4 526.0,402.4 528.0,402.3 530.0,402.3 532.0,402.3 534.0,402.2 536.0,402.2 538.0,402.1 540.0,402.1 542.0,402.1 544.0,402.0 546.0,402.0 548.0,402.0 550.0,401.9 552.0,401.9 554.0,401.8 556.0,401.8 558.0,401.8 560.0,401.7 562.0,401.7 564.0,401.7 566.0,401.6 568.0,401.6 570.0,401.5 572.0,401.5 574.0,401.5 576.0,401.4 578.0,401.4 580.0,401.4 582.0,401.3 584.0,401.3 586.0,401.2 588.0,401.2 588.0,455.8 586.0,456.5 584.0,457.1 582.0,457.8 580.0,458.5 578.0,459.2 576.0,459.8 574.0,460.4 572.0,460.8 570.0,461.3 568.0,461.8 566.0,462.3 564.0,462.8 562.0,463.2 560.0,463.7 558.0,464.2 556.0,464.6 554.0,465.1 552.0,465.5 550.0,466.0 548.0,466.4 546.0,466.8 544.0,467.3 542.0,467.7 540.0,468.1 538.0,468.6 536.0,469.0 534.0,469.3 532.0,469.6 530.0,470.0 528.0,470.3 526.0,470.6 524.0,471.0 522.0,471.3 520.0,471.6 518.0,472.0 516.0,472.3 514.0,472.6 512.0,473.0 510.0,473.3 508.0,473.6 506.0,474.0 504.0,474.3 502.0,474.6 500.0,475.0 498.0,475.3 496.0,475.6 494.0,476.1 492.0,476.6 490.0,477.1 488.0,477.6 486.0,478.1 484.0,478.6 482.0,479.1 480.0,479.7 478.0,480.2 476.0,480.3 474.0,480.3 472.0,480.3 470.0,480.3 468.0,480.3 466.0,480.5 464.0,480.8 462.0,481.2 460.0,481.6 458.0,481.9 456.0,482.3 454.0,482.6 452.0,483.0 450.0,483.5 448.0,484.0 446.0,484.5 444.0,485.0 442.0,485.5 440.0,486.0 438.0,486.5 436.0,487.0 434.0,487.5 432.0,488.0 430.0,488.6 428.0,489.2 426.0,489.8 424.0,490.4 422.0,491.0 420.0,491.6 418.0,492.2 416.0,492.8 414.0,493.4 412.0,494.0 410.0,494.3 408.0,494.4 406.0,494.4 404.0,494.5 402.0,494.5 400.0,494.6 398.0,494.6 396.0,494.7 394.0,494.7 392.0,494.8 390.0,494.8 388.0,495.0 386.0,495.2 384.0,495.4 382.0,495.7 380.0,495.9 378.0,496.1 376.0,496.3 374.0,496.5 372.0,496.7 370.0,496.9 368.0,497.2 366.0,497.4 364.0,497.6 362.0,497.8 360.0,498.0 358.0,498.2 356.0,498.4 354.0,498.6 352.0,498.8 350.0,499.0 348.0,499.2 346.0,499.4 344.0,499.6 342.0,499.8 340.0,500.0 338.0,500.2 336.0,500.8 334.0,501.6 332.0,502.3 330.0,503.0 328.0,503.4 326.0,503.8 324.0,504.1 322.0,504.5 320.0,504.9 318.0,505.3 316.0,505.7 314.0,506.0 312.0,506.4 310.0,506.8 308.0,506.8 306.0,506.5 304.0,506.2 302.0,505.9 300.0,505.6 298.0,505.3 296.0,505.0 294.0,504.9 292.0,505.0 290.0,505.1 288.0,505.3 286.0,505.4 284.0,505.6 282.0,505.7 280.0,505.8 278.0,506.0 276.0,506.3 274.0,506.6 272.0,507.0 270.0,507.4 268.0,507.7 266.0,508.1 264.0,508.5 262.0,508.8 260.0,510.4 258.0,513.1 256.0,515.8 254.0,518.5 252.0,518.8 250.0,519.2 248.0,519.5 246.0,519.8 244.0,520.2 242.0,520.5 240.0,520.8 238.0,521.1 236.0,521.2 234.0,521.4 232.0,521.6 230.0,521.7 228.0,521.9 226.0,522.1 224.0,522.2 222.0,522.4 220.0,522.6 218.0,522.7 216.0,522.9 214.0,522.9 212.0,522.7 210.0,522.4 208.0,522.2 206.0,522.0 204.0,521.7 202.0,521.5 200.0,521.2 198.0,521.0 196.0,520.7 194.0,520.5 192.0,520.2 190.0,520.0 188.0,519.9 186.0,519.9 184.0,519.8 182.0,519.8 180.0,519.7 178.0,519.7 176.0,519.6 174.0,519.5 172.0,519.6 170.0,520.0 168.0,520.5 166.0,520.9 164.0,521.3 162.0,521.8 160.0,522.2 158.0,522.6 156.0,523.1 154.0,523.5 152.0,523.9 150.0,524.4 148.0,524.8 146.0,525.2 144.0,525.5 142.0,525.9 140.0,526.3 138.0,526.7 136.0,527.0 134.0,527.4 132.0,527.8 130.0,528.1 128.0,528.5 126.0,528.9 124.0,529.3 122.0,529.6 120.0,530.0 118.0,530.3 116.0,530.5 114.0,530.8 112.0,531.0 110.0,531.3 108.0,531.6 106.0,531.8 104.0,532.1 102.0,532.3 100.0,532.6 98.0,532.9 96.0,533.1 94.0,533.4 92.0,533.6 90.0,533.9 88.0,534.2 86.0,534.4 84.0,534.7 82.0,534.9 80.0,535.5 78.0,536.1 76.0,536.7 74.0,537.4 72.0,538.0 70.0,538.6 68.0,539.2 66.0,539.9 64.0,540.5 62.0,540.8 60.0,541.2 58.0,541.5" fill="#ffff00"/>
<g clip-path="url(#sedb)">
<polygon points="58.0,444.5 66.0,443.9 74.0,443.2 82.0,442.7 90.0,442.4 98.0,442.1 106.0,442.0 114.0,441.7 122.0,441.4 130.0,441.0 138.0,440.6 146.0,440.2 154.0,439.8 162.0,439.2 170.0,438.8 178.0,438.6 186.0,438.3 194.0,437.9 202.0,437.4 210.0,436.8 218.0,436.2 226.0,435.8 234.0,435.4 242.0,435.1 250.0,434.7 258.0,434.3 266.0,433.8 274.0,433.3 282.0,432.8 290.0,432.4 298.0,432.1 306.0,431.9 314.0,431.7 322.0,431.5 330.0,431.2 338.0,430.9 346.0,430.4 354.0,430.0 362.0,429.7 370.0,429.5 378.0,429.3 386.0,429.1 394.0,428.8 402.0,428.4 410.0,427.9 418.0,427.4 426.0,426.9 434.0,426.5 442.0,426.2 450.0,425.9 458.0,425.6 466.0,425.2 474.0,424.7 482.0,424.2 490.0,423.7 498.0,423.3 506.0,423.0 514.0,422.8 522.0,422.6 530.0,422.4 538.0,422.1 546.0,421.7 554.0,421.2 562.0,420.8 570.0,420.5 578.0,420.2 586.0,420.0 586.0,421.4 578.0,422.0 570.0,422.5 562.0,422.9 554.0,423.3 546.0,423.6 538.0,424.1 530.0,424.7 522.0,425.3 514.0,426.0 506.0,426.6 498.0,427.1 490.0,427.5 482.0,428.0 474.0,428.7 466.0,429.3 458.0,430.0 450.0,430.5 442.0,430.9 434.0,431.2 426.0,431.6 418.0,432.1 410.0,432.6 402.0,433.2 394.0,433.7 386.0,434.1 378.0,434.4 370.0,434.9 362.0,435.5 354.0,436.2 346.0,436.9 338.0,437.6 330.0,438.1 322.0,438.6 314.0,439.1 306.0,439.7 298.0,440.4 290.0,441.2 282.0,441.8 274.0,442.2 266.0,442.5 258.0,442.8 250.0,443.3 242.0,443.8 234.0,444.4 226.0,444.8 218.0,445.1 210.0,445.4 202.0,445.7 194.0,446.2 186.0,446.9 178.0,447.6 170.0,448.3 162.0,448.8 154.0,449.2 146.0,449.6 138.0,450.1 130.0,450.8 122.0,451.5 114.0,452.1 106.0,452.4 98.0,452.6 90.0,452.8 82.0,453.2 74.0,453.7 66.0,454.3 58.0,454.8" fill="#ffa800"/>
<polygon points="58.0,476.6 66.0,475.8 74.0,475.0 82.0,474.4 90.0,473.9 98.0,473.5 106.0,473.1 114.0,472.7 122.0,472.1 130.0,471.4 138.0,470.7 146.0,470.0 154.0,469.5 162.0,469.1 170.0,468.6 178.0,468.1 186.0,467.5 194.0,466.7 202.0,465.8 210.0,465.0 218.0,464.3 226.0,463.6 234.0,463.1 242.0,462.5 250.0,461.9 258.0,461.3 266.0,460.6 274.0,459.9 282.0,459.2 290.0,458.7 298.0,458.3 306.0,457.9 314.0,457.5 322.0,457.1 330.0,456.5 338.0,455.9 346.0,455.2 354.0,454.6 362.0,454.1 370.0,453.6 378.0,453.1 386.0,452.6 394.0,452.0 402.0,451.3 410.0,450.5 418.0,449.7 426.0,449.0 434.0,448.4 442.0,447.9 450.0,447.4 458.0,446.9 466.0,446.3 474.0,445.6 482.0,444.9 490.0,444.3 498.0,443.7 506.0,443.3 514.0,442.9 522.0,442.4 530.0,441.9 538.0,441.3 546.0,440.6 554.0,440.0 562.0,439.3 570.0,438.7 578.0,438.2 586.0,437.7 586.0,439.8 578.0,440.6 570.0,441.3 562.0,442.1 554.0,442.7 546.0,443.3 538.0,443.8 530.0,444.5 522.0,445.2 514.0,446.1 506.0,447.0 498.0,447.8 490.0,448.5 482.0,449.1 474.0,449.8 466.0,450.6 458.0,451.5 450.0,452.4 442.0,453.1 434.0,453.7 426.0,454.2 418.0,454.8 410.0,455.5 402.0,456.3 394.0,457.1 386.0,457.7 378.0,458.3 370.0,458.8 362.0,459.4 354.0,460.2 346.0,461.2 338.0,462.1 330.0,462.9 322.0,463.6 314.0,464.3 306.0,465.0 298.0,465.8 290.0,466.8 282.0,467.7 274.0,468.5 266.0,469.1 258.0,469.6 250.0,470.1 242.0,470.7 234.0,471.5 226.0,472.2 218.0,472.9 210.0,473.4 202.0,473.9 194.0,474.4 186.0,475.1 178.0,476.0 170.0,477.0 162.0,477.8 154.0,478.5 146.0,479.1 138.0,479.7 130.0,480.5 122.0,481.4 114.0,482.3 106.0,483.1 98.0,483.7 90.0,484.1 82.0,484.5 74.0,485.1 66.0,485.8 58.0,486.6" fill="#ffa800"/>
<polygon points="58.0,495.3 66.0,494.9 74.0,494.4 82.0,493.8 90.0,493.1 98.0,492.3 106.0,491.4 114.0,490.6 122.0,489.9 130.0,489.2 138.0,488.6 146.0,488.0 154.0,487.1 162.0,486.2 170.0,485.2 178.0,484.2 186.0,483.4 194.0,482.6 202.0,482.0 210.0,481.3 218.0,480.7 226.0,479.9 234.0,479.1 242.0,478.2 250.0,477.4 258.0,476.8 266.0,476.2 274.0,475.7 282.0,475.1 290.0,474.5 298.0,473.7 306.0,472.9 314.0,472.0 322.0,471.2 330.0,470.5 338.0,469.8 346.0,469.1 354.0,468.4 362.0,467.6 370.0,466.7 378.0,465.7 386.0,464.8 394.0,464.0 402.0,463.3 410.0,462.6 418.0,462.0 426.0,461.3 434.0,460.6 442.0,459.8 450.0,459.0 458.0,458.2 466.0,457.6 474.0,457.0 482.0,456.4 490.0,455.8 498.0,455.1 506.0,454.3 514.0,453.5 522.0,452.6 530.0,451.8 538.0,451.0 546.0,450.3 554.0,449.6 562.0,448.9 570.0,448.1 578.0,447.2 586.0,446.3 586.0,496.1 578.0,497.4 570.0,498.8 562.0,500.3 554.0,501.8 546.0,503.2 538.0,504.5 530.0,505.7 522.0,506.9 514.0,508.1 506.0,509.5 498.0,510.9 490.0,512.2 482.0,513.5 474.0,514.6 466.0,515.8 458.0,517.0 450.0,518.4 442.0,519.9 434.0,521.4 426.0,522.8 418.0,524.1 410.0,525.3 402.0,526.7 394.0,528.2 386.0,529.7 378.0,531.2 370.0,532.5 362.0,533.7 354.0,534.8 346.0,536.1 338.0,537.4 330.0,538.8 322.0,540.2 314.0,541.4 306.0,542.5 298.0,543.6 290.0,544.9 282.0,546.3 274.0,547.8 266.0,549.3 258.0,550.7 250.0,552.0 242.0,553.2 234.0,554.6 226.0,556.1 218.0,557.6 210.0,559.2 202.0,560.6 194.0,561.7 186.0,562.8 178.0,564.0 170.0,565.3 162.0,566.7 154.0,568.1 146.0,569.4 138.0,570.5 130.0,571.5 122.0,572.7 114.0,574.1 106.0,575.6 98.0,577.2 90.0,578.7 82.0,580.0 74.0,581.2 66.0,582.5 58.0,583.9" fill="#ffa800"/>
<polygon points="58.0,418.7 66.0,418.7 74.0,418.8 74.0,419.2 66.0,419.7 58.0,420.1" fill="#ffa800"/>
<polygon points="79.3,419.0 87.3,418.5 95.3,417.9 103.3,417.4 111.3,417.4 119.3,417.5 127.3,417.6 135.3,417.8 143.3,417.7 151.3,417.6 159.3,416.4 167.3,414.8 175.3,414.6 183.3,414.5 191.3,414.5 199.3,414.5 207.3,414.3 207.3,414.4 199.3,414.8 191.3,415.3 183.3,416.0 175.3,416.4 167.3,416.7 159.3,418.1 151.3,418.9 143.3,418.8 135.3,418.8 127.3,419.0 119.3,419.2 111.3,419.3 103.3,419.2 95.3,419.0 87.3,418.9 79.3,419.0" fill="#ffa800"/>
<polygon points="532.9,404.8 540.9,404.4 548.9,404.0 556.9,403.6 564.9,403.3 572.9,403.2 580.9,403.1 580.9,404.2 572.9,404.3 564.9,404.4 556.9,404.4 548.9,404.6 540.9,404.8 532.9,404.8" fill="#ffa800"/>
<polygon points="58.0,420.2 66.0,420.0 74.0,419.7 82.0,419.5 90.0,419.3 98.0,419.3 106.0,419.4 114.0,419.4 114.0,419.5 106.0,419.8 98.0,420.2 90.0,420.4 82.0,420.6 74.0,420.5 66.0,420.4 58.0,420.2" fill="#ffa800"/>
<polygon points="203.5,415.1 211.5,414.7 219.5,414.5 219.5,414.8 211.5,415.1 203.5,415.1" fill="#ffa800"/>
<polygon points="293.6,413.5 301.6,413.1 309.6,412.8 317.6,412.4 325.6,412.0 333.6,411.5 341.6,411.2 349.6,410.9 357.6,410.7 365.6,410.4 373.6,410.1 381.6,409.6 389.6,409.1 397.6,408.8 405.6,408.5 413.6,408.3 421.6,408.2 429.6,408.2 437.6,408.1 445.6,408.0 453.6,407.9 461.6,407.9 461.6,408.2 453.6,408.6 445.6,409.1 437.6,409.6 429.6,409.9 421.6,410.1 413.6,410.2 405.6,410.3 397.6,410.5 389.6,410.9 381.6,411.3 373.6,411.6 365.6,411.7 357.6,411.8 349.6,411.9 341.6,412.1 333.6,412.5 325.6,412.9 317.6,413.3 309.6,413.3 301.6,413.3 293.6,413.5" fill="#ffa800"/>
<polygon points="292.6,414.4 300.6,414.0 308.6,413.7 316.6,413.4 324.6,413.1 332.6,412.9 340.6,412.7 340.6,412.8 332.6,413.3 324.6,413.8 316.6,414.2 308.6,414.3 300.6,414.3 292.6,414.4" fill="#ffa800"/>
<polygon points="58.0,422.4 66.0,422.5 74.0,422.7 82.0,422.7 90.0,422.5 98.0,422.3 106.0,422.0 114.0,421.8 122.0,421.7 130.0,421.6 138.0,421.6 146.0,421.5 154.0,421.3 162.0,419.5 170.0,418.3 178.0,417.8 186.0,417.5 194.0,417.3 202.0,417.1 210.0,417.0 218.0,417.1 226.0,417.1 234.0,417.1 234.0,417.1 226.0,417.6 218.0,418.3 210.0,419.0 202.0,419.3 194.0,419.5 186.0,419.5 178.0,419.5 170.0,419.7 162.0,420.6 154.0,422.3 146.0,422.4 138.0,422.4 130.0,422.3 122.0,422.2 114.0,422.4 106.0,422.7 98.0,423.1 90.0,423.4 82.0,423.6 74.0,423.7 66.0,423.8 58.0,424.0" fill="#ffa800"/>
<polygon points="192.8,426.1 200.8,425.5 208.8,424.8 216.8,424.3 224.8,424.1 232.8,424.0 240.8,423.9 248.8,423.8 256.8,423.5 264.8,423.2 272.8,422.7 280.8,422.3 288.8,422.0 296.8,421.7 304.8,421.5 312.8,421.3 320.8,421.0 320.8,421.1 312.8,421.7 304.8,422.4 296.8,422.6 288.8,422.8 280.8,423.1 272.8,423.5 264.8,424.0 256.8,424.4 248.8,424.6 240.8,424.7 232.8,424.7 224.8,424.9 216.8,425.2 208.8,425.6 200.8,425.9 192.8,426.1" fill="#ffa800"/>
<polygon points="326.4,420.7 334.4,420.2 342.4,419.8 350.4,419.6 358.4,419.4 366.4,419.0 374.4,418.6 382.4,418.2 382.4,418.3 374.4,418.8 366.4,419.2 358.4,419.6 350.4,420.1 342.4,420.4 334.4,420.5 326.4,420.7" fill="#ffa800"/>
<polygon points="464.2,415.2 472.2,414.9 480.2,414.6 488.2,414.1 496.2,413.6 504.2,413.4 512.2,413.2 512.2,413.4 504.2,413.8 496.2,414.3 488.2,414.8 480.2,415.1 472.2,415.1 464.2,415.2" fill="#ffa800"/>
<polygon points="58.0,432.0 66.0,431.8 74.0,431.8 82.0,431.8 90.0,431.8 98.0,431.6 106.0,431.2 114.0,430.8 122.0,430.4 130.0,430.0 138.0,429.8 146.0,429.6 154.0,429.4 162.0,428.2 170.0,427.3 178.0,426.8 186.0,426.4 194.0,426.4 202.0,426.5 202.0,426.8 194.0,427.5 186.0,427.9 178.0,428.0 170.0,428.2 162.0,429.0 154.0,430.4 146.0,430.7 138.0,431.0 130.0,431.1 122.0,431.3 114.0,431.5 106.0,432.0 98.0,432.6 90.0,433.1 82.0,433.4 74.0,433.5 66.0,433.6 58.0,433.8" fill="#ffa800"/>
<polygon points="315.7,422.1 323.7,421.6 331.7,420.9 339.7,420.3 347.7,420.0 355.7,419.7 363.7,419.4 371.7,419.0 379.7,418.5 387.7,418.2 395.7,418.2 395.7,418.8 387.7,419.5 379.7,420.2 371.7,420.7 363.7,420.9 355.7,421.1 347.7,421.2 339.7,421.4 331.7,421.7 323.7,422.0 315.7,422.1" fill="#ffa800"/>
<polygon points="516.2,414.7 524.2,414.2 532.2,414.0 532.2,414.0 524.2,414.4 516.2,414.7" fill="#ffa800"/>
<polygon points="536.4,413.9 544.4,413.4 552.4,413.0 560.4,412.7 568.4,412.5 576.4,412.2 584.4,411.8 584.4,412.5 576.4,412.8 568.4,413.3 560.4,413.7 552.4,413.8 544.4,413.8 536.4,413.9" fill="#ffa800"/>
<polygon points="58.0,436.5 66.0,436.4 74.0,436.3 82.0,436.0 90.0,435.6 98.0,435.1 106.0,434.6 114.0,434.5 122.0,434.5 122.0,434.7 114.0,435.0 106.0,435.2 98.0,435.7 90.0,436.2 82.0,436.8 74.0,437.2 66.0,437.4 58.0,437.6" fill="#ffa800"/>
<polygon points="498.3,417.9 506.3,417.2 514.3,416.5 522.3,416.0 530.3,415.7 538.3,415.5 546.3,415.3 554.3,415.1 562.3,414.8 570.3,414.4 578.3,414.1 586.3,413.7 586.3,414.3 578.3,414.8 570.3,415.2 562.3,415.5 554.3,415.8 546.3,416.1 538.3,416.6 530.3,417.1 522.3,417.6 514.3,417.8 506.3,417.8 498.3,417.9" fill="#ffa800"/>
<polygon points="258.8,429.4 266.8,429.1 274.8,428.6 282.8,428.0 290.8,427.4 298.8,426.9 306.8,426.5 314.8,426.2 322.8,426.0 330.8,425.6 338.8,425.2 346.8,424.6 354.8,424.1 362.8,423.7 370.8,423.6 378.8,423.5 378.8,423.7 370.8,424.2 362.8,424.9 354.8,425.5 346.8,425.9 338.8,426.2 330.8,426.5 322.8,427.0 314.8,427.5 306.8,428.1 298.8,428.5 290.8,428.8 282.8,428.9 274.8,428.9 266.8,429.1 258.8,429.4" fill="#ffa800"/>
<polygon points="381.8,424.3 389.8,423.7 397.8,423.2 405.8,422.8 413.8,422.4 421.8,422.0 429.8,421.5 437.8,421.1 445.8,420.8 453.8,420.6 461.8,420.4 469.8,420.2 477.8,420.0 485.8,419.6 493.8,419.2 501.8,418.8 509.8,418.3 517.8,417.9 525.8,417.6 533.8,417.3 541.8,417.0 549.8,416.7 549.8,416.7 541.8,417.3 533.8,417.8 525.8,418.1 517.8,418.4 509.8,418.8 501.8,419.4 493.8,419.9 485.8,420.2 477.8,420.5 469.8,420.6 461.8,420.8 453.8,421.1 445.8,421.6 437.8,422.0 429.8,422.3 421.8,422.6 413.8,422.8 405.8,423.0 397.8,423.5 389.8,423.9 381.8,424.3" fill="#ffa800"/>
<polygon points="555.2,416.5 563.2,416.1 571.2,415.6 579.2,415.0 587.2,414.7 587.2,415.2 579.2,415.4 571.2,415.8 563.2,416.2 555.2,416.5" fill="#ffa800"/>
<polygon points="64.6,440.7 72.6,439.9 80.6,439.0 88.6,438.4 96.6,438.3 104.6,438.2 112.6,438.0 120.6,437.8 128.6,437.4 136.6,437.0 144.6,436.7 152.6,436.4 160.6,435.7 168.6,435.1 176.6,434.9 184.6,434.6 192.6,434.1 200.6,433.5 208.6,432.9 216.6,432.4 224.6,431.9 232.6,431.8 240.6,431.8 248.6,431.7 248.6,431.7 240.6,432.3 232.6,433.0 224.6,433.6 216.6,433.9 208.6,434.1 200.6,434.3 192.6,434.5 184.6,435.0 176.6,435.7 168.6,436.3 160.6,437.2 152.6,437.9 144.6,438.2 136.6,438.5 128.6,439.0 120.6,439.5 112.6,440.1 104.6,440.4 96.6,440.6 88.6,440.6 80.6,440.6 72.6,440.6 64.6,440.7" fill="#ffa800"/>
<polygon points="367.4,426.0 375.4,425.4 383.4,424.7 391.4,423.9 399.4,423.3 407.4,422.9 415.4,422.6 423.4,422.4 431.4,422.4 439.4,422.3 439.4,422.8 431.4,423.6 423.4,424.2 415.4,424.5 407.4,424.8 399.4,425.2 391.4,425.7 383.4,425.9 375.4,426.0 367.4,426.0" fill="#ffa800"/>
<polygon points="446.9,422.1 454.9,421.6 462.9,421.0 470.9,420.5 478.9,420.2 486.9,420.0 494.9,419.7 502.9,419.4 510.9,419.0 518.9,418.6 526.9,418.0 534.9,417.5 542.9,417.1 550.9,416.7 558.9,416.4 566.9,416.1 574.9,415.8 582.9,415.3 582.9,416.4 574.9,416.7 566.9,417.0 558.9,417.5 550.9,418.0 542.9,418.4 534.9,418.7 526.9,418.8 518.9,419.0 510.9,419.3 502.9,419.7 494.9,420.2 486.9,420.6 478.9,421.0 470.9,421.2 462.9,421.4 454.9,421.8 446.9,422.1" fill="#ffa800"/>
<polygon points="58.0,441.7 66.0,441.8 74.0,441.8 74.0,442.2 66.0,443.1 58.0,443.8" fill="#ffa800"/>
<polygon points="274.8,431.9 282.8,431.3 290.8,430.7 298.8,430.1 306.8,429.6 314.8,429.1 322.8,428.7 330.8,428.4 338.8,428.1 346.8,427.7 354.8,427.2 362.8,426.6 370.8,426.0 378.8,425.4 386.8,424.9 394.8,424.6 402.8,424.5 410.8,424.6 418.8,424.6 418.8,424.8 410.8,425.4 402.8,425.9 394.8,426.5 386.8,427.2 378.8,427.8 370.8,428.3 362.8,428.7 354.8,429.0 346.8,429.3 338.8,429.7 330.8,430.2 322.8,430.7 314.8,431.1 306.8,431.3 298.8,431.4 290.8,431.5 282.8,431.7 274.8,431.9" fill="#ffa800"/>
<polygon points="58.0,443.2 66.0,443.0 74.0,442.8 82.0,442.6 90.0,442.3 98.0,441.8 106.0,441.2 114.0,440.6 122.0,440.1 130.0,439.7 138.0,439.4 146.0,439.1 154.0,438.8 162.0,437.9 170.0,437.1 178.0,436.6 186.0,436.5 194.0,436.5 194.0,437.0 186.0,437.6 178.0,438.1 170.0,438.2 162.0,438.7 154.0,439.5 146.0,440.0 138.0,440.5 130.0,440.8 122.0,441.0 114.0,441.3 106.0,441.6 98.0,442.2 90.0,442.9 82.0,443.5 74.0,444.0 66.0,444.2 58.0,444.5" fill="#ffa800"/>
<polygon points="199.4,436.5 207.4,435.8 215.4,435.2 223.4,434.7 231.4,434.4 239.4,434.3 247.4,434.1 255.4,433.7 263.4,433.3 271.4,432.7 279.4,432.2 287.4,431.9 287.4,432.3 279.4,432.9 271.4,433.4 263.4,433.9 255.4,434.4 247.4,434.9 239.4,435.1 231.4,435.2 223.4,435.4 215.4,435.7 207.4,436.1 199.4,436.5" fill="#ffa800"/>
<polygon points="293.9,431.7 301.9,431.2 309.9,430.7 317.9,430.4 317.9,430.6 309.9,431.2 301.9,431.4 293.9,431.7" fill="#ffa800"/>
<polygon points="321.7,430.3 329.7,429.8 337.7,429.2 345.7,428.8 353.7,428.7 353.7,428.7 345.7,429.2 337.7,429.6 329.7,430.0 321.7,430.3" fill="#ffa800"/>
<polygon points="358.2,430.3 366.2,429.8 374.2,429.2 382.2,428.6 390.2,428.0 398.2,427.6 406.2,427.3 414.2,427.0 422.2,426.6 430.2,426.2 438.2,425.6 446.2,425.0 454.2,424.5 462.2,424.0 470.2,423.6 478.2,423.4 486.2,423.4 494.2,423.2 494.2,423.3 486.2,423.9 478.2,424.3 470.2,424.8 462.2,425.3 454.2,425.8 446.2,426.3 438.2,426.6 430.2,426.9 422.2,427.3 414.2,427.9 406.2,428.5 398.2,429.1 390.2,429.6 382.2,430.0 374.2,430.1 366.2,430.2 358.2,430.3" fill="#ffff00"/>
<polygon points="260.3,438.9 268.3,438.3 276.3,437.8 284.3,437.5 292.3,437.1 292.3,437.2 284.3,437.7 276.3,438.2 268.3,438.6 260.3,438.9" fill="#ffff00"/>
<polygon points="353.2,435.1 361.2,434.3 369.2,433.7 377.2,433.3 385.2,432.8 393.2,432.3 401.2,431.8 409.2,431.3 417.2,430.9 425.2,430.6 433.2,430.2 441.2,429.9 449.2,429.5 457.2,429.1 457.2,429.3 449.2,430.0 441.2,430.6 433.2,431.2 425.2,431.8 417.2,432.4 409.2,433.0 401.2,433.4 393.2,433.7 385.2,433.9 377.2,434.2 369.2,434.5 361.2,434.8 353.2,435.1" fill="#ffff00"/>
<polygon points="181.1,445.6 189.1,445.0 197.1,444.5 205.1,444.0 213.1,443.5 221.1,443.0 229.1,442.6 237.1,442.4 237.1,442.4 229.1,443.1 221.1,444.0 213.1,444.7 205.1,445.1 197.1,445.2 189.1,445.4 181.1,445.6" fill="#ffff00"/>
<polygon points="383.6,435.2 391.6,434.6 399.6,434.1 399.6,434.5 391.6,435.1 383.6,435.2" fill="#ffff00"/>
<polygon points="404.7,433.9 412.7,433.2 420.7,432.6 428.7,432.1 436.7,431.7 444.7,431.1 452.7,430.6 460.7,430.1 468.7,429.6 476.7,429.2 484.7,429.0 492.7,428.6 492.7,428.8 484.7,429.5 476.7,430.2 468.7,430.6 460.7,430.9 452.7,431.3 444.7,431.7 436.7,432.3 428.7,433.0 420.7,433.5 412.7,433.7 404.7,433.9" fill="#ffff00"/>
<polygon points="368.1,437.1 376.1,436.3 384.1,435.6 392.1,435.4 392.1,435.8 384.1,436.7 376.1,437.0 368.1,437.1" fill="#ffa800"/>
<polygon points="214.5,448.3 222.5,447.5 230.5,446.7 238.5,446.2 246.5,446.0 254.5,445.7 254.5,445.8 246.5,446.4 238.5,446.7 230.5,447.2 222.5,447.7 214.5,448.3" fill="#ffa800"/>
<polygon points="267.7,446.9 275.7,446.3 283.7,445.8 291.7,445.3 299.7,444.7 307.7,444.0 315.7,443.3 323.7,442.6 331.7,442.0 339.7,441.5 347.7,441.1 355.7,440.7 363.7,440.2 371.7,439.9 379.7,439.5 387.7,439.3 387.7,439.3 379.7,440.0 371.7,440.9 363.7,441.7 355.7,442.1 347.7,442.4 339.7,442.7 331.7,443.0 323.7,443.5 315.7,444.2 307.7,444.8 299.7,445.3 291.7,445.7 283.7,446.0 275.7,446.5 267.7,446.9" fill="#ffa800"/>
<polygon points="120.5,458.0 128.5,457.2 136.5,456.6 144.5,456.1 152.5,455.7 160.5,455.1 168.5,454.4 176.5,453.6 184.5,453.2 192.5,452.9 192.5,453.6 184.5,454.3 176.5,455.0 168.5,455.6 160.5,456.2 152.5,456.7 144.5,457.0 136.5,457.1 128.5,457.5 120.5,458.0" fill="#ffa800"/>
<polygon points="557.1,429.4 565.1,428.9 573.1,428.3 581.1,427.7 581.1,428.2 573.1,428.7 565.1,429.1 557.1,429.4" fill="#ffa800"/>
<polygon points="361.0,443.5 369.0,442.7 377.0,441.8 385.0,440.8 393.0,440.2 401.0,439.6 409.0,439.2 417.0,438.8 425.0,438.3 433.0,437.8 441.0,437.3 449.0,436.7 457.0,436.1 465.0,435.6 473.0,435.5 481.0,435.3 481.0,435.7 473.0,436.4 465.0,436.9 457.0,437.5 449.0,438.2 441.0,438.9 433.0,439.6 425.0,440.1 417.0,440.6 409.0,441.1 401.0,441.7 393.0,442.4 385.0,443.1 377.0,443.4 369.0,443.4 361.0,443.5" fill="#ffa800"/>
<polygon points="488.3,435.1 496.3,434.2 504.3,433.2 512.3,432.3 520.3,431.9 528.3,431.6 536.3,431.2 544.3,430.7 552.3,430.2 560.3,429.6 568.3,429.3 576.3,429.0 576.3,429.4 568.3,430.2 560.3,430.9 552.3,431.4 544.3,431.8 536.3,432.4 528.3,433.1 520.3,433.9 512.3,434.6 504.3,434.8 496.3,434.9 488.3,435.1" fill="#ffa800"/>
<polygon points="60.7,467.6 68.7,466.7 76.7,466.0 84.7,465.3 92.7,464.7 100.7,464.0 108.7,463.5 116.7,463.0 124.7,462.6 132.7,462.3 140.7,461.9 140.7,462.3 132.7,462.9 124.7,463.4 116.7,463.9 108.7,464.6 100.7,465.4 92.7,466.0 84.7,466.5 76.7,466.8 68.7,467.2 60.7,467.6" fill="#ffa800"/>
<polygon points="413.5,448.7 421.5,448.0 429.5,447.4 437.5,446.9 445.5,446.2 453.5,445.5 461.5,444.7 469.5,443.9 477.5,443.2 485.5,442.6 493.5,442.0 501.5,441.5 509.5,440.9 517.5,440.2 525.5,439.5 533.5,438.8 541.5,438.1 549.5,437.8 557.5,437.4 557.5,437.7 549.5,438.4 541.5,439.1 533.5,439.8 525.5,440.5 517.5,441.1 509.5,441.5 501.5,441.9 493.5,442.5 485.5,443.1 477.5,443.9 469.5,444.7 461.5,445.4 453.5,446.0 445.5,446.5 437.5,447.1 429.5,447.7 421.5,448.3 413.5,448.7" fill="#ffa800"/>
<polygon points="337.3,455.2 345.3,454.4 353.3,453.9 361.3,453.4 369.3,452.8 377.3,452.1 385.3,451.5 385.3,451.5 377.3,452.3 369.3,453.0 361.3,453.6 353.3,454.2 345.3,454.7 337.3,455.2" fill="#ffa800"/>
<polygon points="385.5,451.6 393.5,450.8 401.5,450.1 409.5,449.4 417.5,448.8 425.5,448.1 433.5,447.4 441.5,446.8 449.5,446.3 457.5,445.8 465.5,445.3 473.5,444.7 481.5,444.0 489.5,443.2 497.5,442.5 505.5,442.0 513.5,441.6 513.5,441.8 505.5,442.6 497.5,443.4 489.5,444.2 481.5,445.0 473.5,445.7 465.5,446.2 457.5,446.6 449.5,447.1 441.5,447.6 433.5,448.2 425.5,448.9 417.5,449.6 409.5,450.2 401.5,450.6 393.5,451.1 385.5,451.6" fill="#ffa800"/>
<polygon points="269.9,461.4 277.9,460.5 285.9,459.5 293.9,459.0 301.9,458.7 301.9,459.1 293.9,459.9 285.9,460.7 277.9,461.1 269.9,461.4" fill="#ffff00"/>
<polygon points="468.2,446.0 476.2,445.2 484.2,444.4 492.2,443.6 500.2,443.0 508.2,442.5 516.2,442.0 524.2,441.4 532.2,440.7 540.2,440.0 548.2,439.2 556.2,438.4 564.2,437.7 572.2,437.1 580.2,436.5 580.2,437.6 572.2,438.1 564.2,438.7 556.2,439.4 548.2,440.1 540.2,440.7 532.2,441.3 524.2,441.8 516.2,442.4 508.2,443.1 500.2,443.9 492.2,444.8 484.2,445.3 476.2,445.6 468.2,446.0" fill="#ffff00"/>
<polygon points="239.5,465.3 247.5,464.3 255.5,463.4 263.5,462.5 271.5,461.8 279.5,461.2 287.5,460.6 295.5,460.1 303.5,459.7 311.5,459.2 319.5,458.7 327.5,458.0 335.5,457.2 343.5,456.4 351.5,455.7 359.5,455.0 367.5,454.4 375.5,453.8 383.5,453.2 391.5,452.5 399.5,451.8 407.5,451.0 415.5,450.6 423.5,450.3 423.5,450.8 415.5,451.6 407.5,452.3 399.5,453.0 391.5,453.7 383.5,454.4 375.5,455.0 367.5,455.5 359.5,456.0 351.5,456.5 343.5,457.3 335.5,458.1 327.5,459.0 319.5,459.8 311.5,460.4 303.5,461.0 295.5,461.6 287.5,462.3 279.5,463.1 271.5,463.9 263.5,464.6 255.5,464.8 247.5,464.9 239.5,465.3" fill="#ffff00"/>
<polygon points="554.7,440.7 562.7,439.8 570.7,438.9 578.7,438.2 586.7,437.7 586.7,438.5 578.7,439.1 570.7,439.5 562.7,440.0 554.7,440.7" fill="#ffff00"/>
<polygon points="351.9,457.9 359.9,457.2 367.9,456.5 375.9,455.8 383.9,455.2 391.9,454.4 399.9,453.5 407.9,452.7 415.9,451.9 423.9,451.3 431.9,450.7 439.9,450.1 447.9,449.5 455.9,448.9 463.9,448.2 471.9,447.4 479.9,446.7 487.9,446.1 495.9,445.6 503.9,445.3 511.9,444.8 511.9,444.9 503.9,445.7 495.9,446.6 487.9,447.2 479.9,447.8 471.9,448.4 463.9,449.2 455.9,450.1 447.9,450.9 439.9,451.7 431.9,452.2 423.9,452.7 415.9,453.3 407.9,453.9 399.9,454.7 391.9,455.4 383.9,456.0 375.9,456.5 367.9,456.8 359.9,457.3 351.9,457.9" fill="#ffff00"/>
<polygon points="517.8,444.3 525.8,443.4 533.8,442.7 541.8,442.1 549.8,441.6 557.8,440.9 565.8,440.2 573.8,439.5 581.8,438.8 581.8,439.1 573.8,439.9 565.8,440.6 557.8,441.3 549.8,441.8 541.8,442.5 533.8,443.1 525.8,443.8 517.8,444.3" fill="#ffff00"/>
<polygon points="58.0,482.8 66.0,482.0 74.0,481.1 82.0,480.3 90.0,479.5 98.0,479.1 106.0,478.7 106.0,479.1 98.0,479.9 90.0,480.8 82.0,481.6 74.0,482.2 66.0,482.8 58.0,483.1" fill="#ffff00"/>
<polygon points="309.0,462.2 317.0,461.4 325.0,460.6 333.0,459.8 341.0,459.3 349.0,458.7 357.0,458.1 365.0,457.4 373.0,456.6 381.0,455.7 389.0,454.9 397.0,454.3 405.0,453.9 413.0,453.6 413.0,453.6 405.0,454.4 397.0,455.4 389.0,456.4 381.0,457.1 373.0,457.8 365.0,458.3 357.0,458.7 349.0,459.3 341.0,459.9 333.0,460.7 325.0,461.2 317.0,461.7 309.0,462.2" fill="#ffff00"/>
<polygon points="421.4,453.7 429.4,452.7 437.4,451.8 445.4,451.1 453.4,450.5 461.4,449.9 469.4,449.2 477.4,448.5 485.4,447.8 493.4,447.1 501.4,446.5 509.4,446.0 517.4,445.5 525.4,445.0 533.4,444.4 541.4,443.6 549.4,443.0 549.4,443.0 541.4,443.7 533.4,444.3 525.4,444.9 517.4,445.7 509.4,446.6 501.4,447.4 493.4,448.1 485.4,448.7 477.4,449.3 469.4,450.0 461.4,450.8 453.4,451.7 445.4,452.4 437.4,452.8 429.4,453.2 421.4,453.7" fill="#ffff00"/>
<polygon points="318.7,463.7 326.7,462.6 334.7,461.5 342.7,460.4 350.7,459.7 358.7,459.0 366.7,458.5 374.7,458.0 382.7,457.5 390.7,457.0 398.7,456.3 406.7,455.6 414.7,454.8 422.7,454.1 430.7,453.5 438.7,452.9 446.7,452.4 454.7,451.7 462.7,451.0 470.7,450.2 478.7,449.4 486.7,448.9 494.7,448.5 494.7,448.8 486.7,449.8 478.7,450.9 470.7,451.8 462.7,452.6 454.7,453.2 446.7,453.7 438.7,454.3 430.7,455.0 422.7,455.8 414.7,456.6 406.7,457.2 398.7,457.7 390.7,458.1 382.7,458.7 374.7,459.3 366.7,460.1 358.7,461.0 350.7,461.7 342.7,462.4 334.7,462.8 326.7,463.2 318.7,463.7" fill="#ffff00"/>
<polygon points="58.0,485.9 66.0,485.5 74.0,485.1 82.0,484.6 90.0,483.9 98.0,483.2 106.0,482.6 114.0,482.2 114.0,482.6 106.0,483.5 98.0,484.7 90.0,485.5 82.0,486.2 74.0,486.8 66.0,487.4 58.0,488.2" fill="#ffa800"/>
<polygon points="192.9,475.6 200.9,474.6 208.9,473.4 216.9,472.5 224.9,472.2 232.9,472.0 232.9,472.2 224.9,473.0 216.9,474.0 208.9,474.8 200.9,475.2 192.9,475.6" fill="#ffa800"/>
<polygon points="450.0,453.7 458.0,452.7 466.0,451.8 474.0,451.1 482.0,450.5 490.0,449.9 498.0,449.3 498.0,449.9 490.0,451.0 482.0,452.1 474.0,452.7 466.0,452.9 458.0,453.2 450.0,453.7" fill="#ffa800"/>
<polygon points="208.1,475.4 216.1,474.3 224.1,473.7 232.1,473.3 232.1,473.3 224.1,474.1 216.1,474.8 208.1,475.4" fill="#ffa800"/>
<polygon points="519.0,448.9 527.0,447.9 535.0,446.9 543.0,446.1 551.0,445.6 559.0,445.0 567.0,444.4 575.0,443.7 583.0,443.0 583.0,443.7 575.0,444.4 567.0,445.1 559.0,445.7 551.0,446.4 543.0,447.2 535.0,447.9 527.0,448.4 519.0,448.9" fill="#ffa800"/>
<polygon points="326.3,466.7 334.3,465.8 342.3,464.8 350.3,464.0 358.3,463.4 366.3,462.6 374.3,461.8 382.3,460.9 390.3,460.0 398.3,459.2 406.3,458.6 414.3,458.0 422.3,457.4 430.3,456.9 438.3,456.2 446.3,455.5 454.3,454.7 462.3,454.0 470.3,453.4 478.3,453.0 486.3,452.5 486.3,452.6 478.3,453.4 470.3,454.2 462.3,454.8 454.3,455.5 446.3,456.4 438.3,457.4 430.3,458.2 422.3,459.0 414.3,459.7 406.3,460.3 398.3,461.0 390.3,461.8 382.3,462.7 374.3,463.5 366.3,464.2 358.3,464.7 350.3,465.1 342.3,465.6 334.3,466.2 326.3,466.7" fill="#ffa800"/>
<polygon points="515.9,449.8 523.9,448.9 531.9,448.1 539.9,447.4 547.9,446.7 555.9,446.0 563.9,445.2 571.9,444.5 579.9,443.8 587.9,443.2 587.9,443.6 579.9,444.4 571.9,445.2 563.9,445.9 555.9,446.5 547.9,447.1 539.9,447.8 531.9,448.5 523.9,449.2 515.9,449.8" fill="#ffa800"/>
<polygon points="268.5,473.7 276.5,472.9 284.5,472.1 292.5,471.2 300.5,470.5 308.5,469.8 316.5,469.2 324.5,468.6 332.5,468.0 340.5,467.3 348.5,466.4 356.5,465.5 364.5,464.6 372.5,463.7 380.5,462.9 388.5,462.3 396.5,461.6 404.5,460.9 412.5,460.2 420.5,459.5 428.5,458.9 436.5,458.4 436.5,458.5 428.5,459.3 420.5,460.0 412.5,460.6 404.5,461.3 396.5,462.1 388.5,463.1 380.5,464.0 372.5,464.8 364.5,465.5 356.5,466.1 348.5,466.9 340.5,467.7 332.5,468.6 324.5,469.5 316.5,470.2 308.5,470.8 300.5,471.3 292.5,471.8 284.5,472.5 276.5,473.1 268.5,473.7" fill="#ffa800"/>
<polygon points="58.0,493.1 66.0,492.4 74.0,491.6 82.0,490.7 90.0,489.8 98.0,489.1 106.0,488.5 114.0,488.3 122.0,487.9 122.0,488.2 114.0,489.2 106.0,490.2 98.0,490.8 90.0,491.2 82.0,491.7 74.0,492.5 66.0,493.4 58.0,494.4" fill="#ffa800"/>
<polygon points="126.4,487.6 134.4,486.7 142.4,485.7 150.4,484.9 158.4,484.3 166.4,483.7 174.4,483.2 182.4,482.5 190.4,481.7 190.4,481.7 182.4,482.5 174.4,483.5 166.4,484.5 158.4,485.3 150.4,486.0 142.4,486.5 134.4,487.0 126.4,487.6" fill="#ffa800"/>
<polygon points="193.8,481.4 201.8,480.7 209.8,479.8 217.8,478.8 225.8,477.9 233.8,477.0 241.8,476.3 249.8,475.6 257.8,475.0 265.8,474.3 273.8,473.5 281.8,472.6 289.8,471.7 297.8,470.9 305.8,470.3 313.8,469.7 321.8,469.2 329.8,468.7 337.8,468.1 345.8,467.5 345.8,467.5 337.8,468.6 329.8,469.7 321.8,470.5 313.8,471.0 305.8,471.7 297.8,472.5 289.8,473.4 281.8,474.1 273.8,474.7 265.8,475.2 257.8,475.7 249.8,476.3 241.8,477.1 233.8,478.0 225.8,478.9 217.8,479.6 209.8,480.2 201.8,480.8 193.8,481.4" fill="#ffa800"/>
<polygon points="479.8,455.1 487.8,454.4 495.8,453.7 503.8,453.0 511.8,452.1 519.8,451.2 527.8,450.3 535.8,449.5 543.8,448.8 551.8,448.1 559.8,447.5 567.8,446.8 575.8,446.0 583.8,445.2 583.8,446.0 575.8,446.6 567.8,447.3 559.8,448.1 551.8,449.0 543.8,449.8 535.8,450.6 527.8,451.2 519.8,451.8 511.8,452.4 503.8,453.0 495.8,453.7 487.8,454.5 479.8,455.1" fill="#ffa800"/>
<polygon points="58.0,493.7 66.0,492.9 74.0,492.2 82.0,491.7 90.0,491.3 98.0,490.8 106.0,490.2 114.0,489.4 122.0,488.6 130.0,487.7 138.0,486.9 146.0,486.1 154.0,485.5 162.0,485.0 170.0,484.4 170.0,484.5 162.0,485.4 154.0,486.5 146.0,487.3 138.0,488.0 130.0,488.6 122.0,489.4 114.0,490.4 106.0,491.4 98.0,492.4 90.0,493.1 82.0,493.7 74.0,494.2 66.0,494.8 58.0,495.5" fill="#ffa800"/>
<polygon points="203.1,481.3 211.1,480.6 219.1,479.7 227.1,478.6 235.1,477.6 243.1,476.8 251.1,476.0 259.1,475.3 267.1,474.7 275.1,474.0 283.1,473.3 291.1,472.5 299.1,471.6 307.1,471.0 315.1,470.7 323.1,470.2 323.1,470.3 315.1,471.2 307.1,472.0 299.1,472.9 291.1,473.7 283.1,474.5 275.1,475.2 267.1,475.7 259.1,476.3 251.1,476.9 243.1,477.8 235.1,478.8 227.1,479.8 219.1,480.4 211.1,480.9 203.1,481.3" fill="#ffa800"/>
<polygon points="492.4,454.9 500.4,454.0 508.4,452.9 516.4,451.9 524.4,451.1 532.4,450.4 540.4,449.8 548.4,449.1 556.4,448.3 564.4,447.5 572.4,446.6 580.4,445.8 580.4,447.1 572.4,447.8 564.4,448.5 556.4,449.4 548.4,450.3 540.4,451.2 532.4,452.1 524.4,452.8 516.4,453.4 508.4,453.9 500.4,454.4 492.4,454.9" fill="#ffa800"/>
<polygon points="139.7,488.6 147.7,487.6 155.7,486.5 163.7,485.8 171.7,485.4 179.7,484.9 179.7,484.9 171.7,485.9 163.7,487.0 155.7,487.6 147.7,488.1 139.7,488.6" fill="#ffff00"/>
<polygon points="179.7,484.8 187.7,483.7 195.7,482.7 203.7,482.1 211.7,481.7 211.7,482.0 203.7,483.1 195.7,484.0 187.7,484.3 179.7,484.8" fill="#ffff00"/>
<polygon points="353.2,468.6 361.2,467.8 369.2,466.9 377.2,466.0 385.2,465.4 393.2,464.7 401.2,464.0 409.2,463.3 417.2,462.4 425.2,461.5 433.2,460.5 441.2,459.7 449.2,458.9 457.2,458.2 465.2,457.6 473.2,456.9 481.2,456.2 489.2,455.6 497.2,455.0 497.2,455.3 489.2,456.3 481.2,457.1 473.2,457.8 465.2,458.6 457.2,459.4 449.2,460.2 441.2,460.8 433.2,461.3 425.2,461.9 417.2,462.6 409.2,463.4 401.2,464.4 393.2,465.2 385.2,466.0 377.2,466.7 369.2,467.3 361.2,468.0 353.2,468.6" fill="#ffff00"/>
<polygon points="503.0,454.6 511.0,453.7 519.0,452.8 527.0,452.0 535.0,451.3 543.0,450.5 551.0,449.7 559.0,448.8 567.0,447.9 575.0,447.2 583.0,446.5 583.0,447.5 575.0,448.1 567.0,448.7 559.0,449.4 551.0,450.2 543.0,451.1 535.0,452.0 527.0,452.8 519.0,453.4 511.0,454.0 503.0,454.6" fill="#ffff00"/>
<polygon points="146.3,488.7 154.3,487.7 162.3,486.6 170.3,485.5 178.3,484.7 186.3,484.0 194.3,483.4 202.3,482.9 210.3,482.3 218.3,481.6 226.3,480.9 234.3,480.1 242.3,479.5 242.3,479.8 234.3,480.6 226.3,481.4 218.3,482.2 210.3,483.2 202.3,484.2 194.3,485.2 186.3,485.9 178.3,486.5 170.3,487.0 162.3,487.5 154.3,488.1 146.3,488.7" fill="#ffff00"/>
<polygon points="317.5,472.6 325.5,471.8 333.5,470.9 341.5,470.0 349.5,469.2 357.5,468.6 365.5,468.0 373.5,467.3 373.5,467.4 365.5,468.1 357.5,468.8 349.5,469.7 341.5,470.7 333.5,471.4 325.5,472.0 317.5,472.6" fill="#ffff00"/>
<polygon points="540.6,451.6 548.6,450.7 556.6,449.7 564.6,448.7 572.6,447.9 580.6,447.2 580.6,448.2 572.6,448.8 564.6,449.4 556.6,450.1 548.6,450.9 540.6,451.6" fill="#ffff00"/>
<polygon points="385.5,468.3 393.5,467.3 401.5,466.4 409.5,465.6 417.5,464.9 425.5,464.1 433.5,463.2 441.5,462.2 449.5,461.3 457.5,460.4 465.5,459.6 473.5,458.9 481.5,458.2 489.5,457.5 497.5,456.7 505.5,455.9 513.5,455.1 521.5,454.3 529.5,453.5 537.5,452.9 545.5,452.3 553.5,451.7 561.5,451.1 569.5,450.4 577.5,449.8 577.5,449.8 569.5,450.8 561.5,451.9 553.5,452.9 545.5,453.6 537.5,454.4 529.5,455.2 521.5,456.1 513.5,457.0 505.5,457.7 497.5,458.3 489.5,458.9 481.5,459.5 473.5,460.3 465.5,461.2 457.5,462.0 449.5,462.8 441.5,463.4 433.5,464.1 425.5,464.8 417.5,465.7 409.5,466.7 401.5,467.5 393.5,467.9 385.5,468.3" fill="#ffff00"/>
<polygon points="452.6,462.5 460.6,461.5 468.6,460.6 476.6,459.9 484.6,459.2 492.6,458.5 500.6,457.7 508.6,456.9 516.6,456.1 524.6,455.4 524.6,455.7 516.6,456.6 508.6,457.6 500.6,458.5 492.6,459.3 484.6,460.0 476.6,460.5 468.6,461.1 460.6,461.8 452.6,462.5" fill="#ffff00"/>
<polygon points="58.0,501.8 66.0,501.1 74.0,500.4 82.0,499.9 90.0,499.2 98.0,498.5 106.0,497.7 114.0,497.1 122.0,496.6 122.0,496.7 114.0,497.8 106.0,499.1 98.0,500.4 90.0,501.5 82.0,502.4 74.0,503.2 66.0,503.8 58.0,504.4" fill="#ffff00"/>
<polygon points="285.1,480.2 293.1,479.1 301.1,477.8 309.1,476.6 317.1,475.9 325.1,475.3 333.1,474.7 341.1,474.1 349.1,473.3 357.1,472.5 365.1,471.7 373.1,470.9 381.1,470.3 389.1,469.8 389.1,470.1 381.1,471.1 373.1,472.0 365.1,472.9 357.1,474.0 349.1,475.0 341.1,475.8 333.1,476.6 325.1,477.2 317.1,477.8 309.1,478.6 301.1,479.2 293.1,479.8 285.1,480.2" fill="#ffff00"/>
<polygon points="396.3,469.3 404.3,468.2 412.3,467.0 420.3,466.0 428.3,465.3 436.3,464.7 444.3,464.3 452.3,463.7 452.3,463.9 444.3,465.0 436.3,466.2 428.3,467.2 420.3,468.0 412.3,468.4 404.3,468.8 396.3,469.3" fill="#ffff00"/>
<polygon points="457.0,463.3 465.0,462.4 473.0,461.5 481.0,460.7 489.0,459.8 497.0,458.9 505.0,457.9 513.0,457.2 521.0,456.7 529.0,456.1 529.0,456.1 521.0,457.2 513.0,458.2 505.0,459.2 497.0,460.1 489.0,461.0 481.0,461.9 473.0,462.4 465.0,462.8 457.0,463.3" fill="#ffff00"/>
<polygon points="58.0,503.7 66.0,502.9 74.0,502.0 82.0,500.9 90.0,499.8 98.0,498.9 106.0,498.0 114.0,497.3 122.0,496.7 130.0,496.1 138.0,495.3 146.0,494.5 154.0,493.6 162.0,492.8 170.0,492.0 178.0,491.4 186.0,491.0 194.0,490.4 194.0,490.7 186.0,492.0 178.0,493.3 170.0,494.1 162.0,494.7 154.0,495.3 146.0,496.1 138.0,496.9 130.0,497.8 122.0,498.7 114.0,499.3 106.0,499.8 98.0,500.4 90.0,501.0 82.0,501.9 74.0,503.0 66.0,503.9 58.0,504.8" fill="#ffff00"/>
<polygon points="378.8,472.6 386.8,471.6 394.8,470.6 402.8,469.8 410.8,469.1 418.8,468.4 426.8,467.6 434.8,466.7 442.8,465.9 450.8,465.1 458.8,464.4 466.8,463.8 474.8,463.1 482.8,462.2 490.8,461.4 490.8,461.4 482.8,462.5 474.8,463.4 466.8,464.1 458.8,464.7 450.8,465.4 442.8,466.2 434.8,467.1 426.8,468.0 418.8,468.8 410.8,469.5 402.8,470.2 394.8,471.0 386.8,471.9 378.8,472.6" fill="#ffff00"/>
<polygon points="565.2,454.5 573.2,453.6 581.2,452.7 581.2,452.9 573.2,453.7 565.2,454.5" fill="#ffff00"/>
<polygon points="58.0,506.6 66.0,505.7 74.0,504.8 82.0,503.8 90.0,502.9 98.0,502.2 106.0,501.6 114.0,501.1 122.0,500.6 130.0,500.0 138.0,499.3 138.0,499.4 130.0,500.5 122.0,501.7 114.0,502.8 106.0,503.7 98.0,504.4 90.0,504.9 82.0,505.4 74.0,506.1 66.0,507.0 58.0,508.0" fill="#ffff00"/>
<polygon points="58.0,508.3 66.0,507.6 74.0,506.9 82.0,506.0 90.0,504.9 98.0,503.8 106.0,502.8 114.0,501.9 122.0,501.1 130.0,500.3 138.0,499.6 146.0,498.7 154.0,497.8 162.0,496.8 170.0,496.1 178.0,495.7 178.0,496.4 170.0,497.4 162.0,498.2 154.0,499.0 146.0,499.9 138.0,500.9 130.0,501.6 122.0,502.3 114.0,502.8 106.0,503.5 98.0,504.3 90.0,505.4 82.0,506.5 74.0,507.5 66.0,508.3 58.0,509.0" fill="#ffff00"/>
<polygon points="534.9,459.8 542.9,458.6 550.9,457.6 558.9,456.7 566.9,456.0 574.9,455.2 582.9,454.4 582.9,455.4 574.9,456.3 566.9,457.1 558.9,457.8 550.9,458.4 542.9,459.1 534.9,459.8" fill="#ffff00"/>
<polygon points="266.2,489.5 274.2,488.4 282.2,487.4 290.2,486.4 298.2,485.5 306.2,484.5 314.2,483.5 322.2,482.9 330.2,482.4 330.2,482.8 322.2,483.8 314.2,485.0 306.2,486.0 298.2,486.8 290.2,487.5 282.2,488.1 274.2,488.8 266.2,489.5" fill="#ffff00"/>
<polygon points="124.9,505.5 132.9,504.5 140.9,503.7 148.9,502.9 156.9,502.2 164.9,501.3 172.9,500.3 180.9,499.2 188.9,498.2 196.9,497.2 204.9,496.4 212.9,495.6 220.9,494.8 228.9,493.9 236.9,492.9 244.9,491.9 252.9,491.2 260.9,490.6 260.9,491.2 252.9,492.2 244.9,493.1 236.9,494.1 228.9,495.2 220.9,496.3 212.9,497.1 204.9,497.8 196.9,498.4 188.9,499.1 180.9,499.9 172.9,500.9 164.9,501.8 156.9,502.6 148.9,503.3 140.9,503.9 132.9,504.7 124.9,505.5" fill="#ffff00"/>
<polygon points="268.4,490.1 276.4,489.3 284.4,488.4 292.4,487.3 300.4,486.3 308.4,485.2 316.4,484.3 324.4,483.4 332.4,482.7 340.4,481.9 348.4,481.1 356.4,480.1 364.4,479.2 372.4,478.2 380.4,477.4 388.4,476.6 396.4,475.9 404.4,475.3 412.4,474.6 420.4,473.8 428.4,472.9 436.4,472.1 436.4,472.1 428.4,473.0 420.4,474.0 412.4,474.9 404.4,475.8 396.4,476.5 388.4,477.4 380.4,478.3 372.4,479.4 364.4,480.5 356.4,481.5 348.4,482.3 340.4,483.0 332.4,483.7 324.4,484.5 316.4,485.4 308.4,486.4 300.4,487.2 292.4,487.9 284.4,488.5 276.4,489.2 268.4,490.1" fill="#ffff00"/>
<polygon points="481.5,468.3 489.5,467.2 497.5,466.3 505.5,465.4 513.5,464.5 521.5,463.6 529.5,462.6 537.5,461.5 545.5,460.6 553.5,459.7 561.5,458.9 569.5,458.1 577.5,457.3 585.5,456.4 585.5,457.8 577.5,458.6 569.5,459.3 561.5,460.2 553.5,461.1 545.5,462.0 537.5,462.9 529.5,463.7 521.5,464.3 513.5,465.0 505.5,465.9 497.5,466.7 489.5,467.6 481.5,468.3" fill="#ffff00"/>
<polygon points="228.4,497.1 236.4,495.7 244.4,494.5 252.4,493.5 260.4,492.7 268.4,491.8 276.4,490.9 284.4,489.9 292.4,489.1 300.4,488.4 308.4,488.0 316.4,487.4 316.4,487.6 308.4,489.0 300.4,490.3 292.4,491.3 284.4,492.1 276.4,493.1 268.4,494.1 260.4,495.0 252.4,495.7 244.4,496.1 236.4,496.5 228.4,497.1" fill="#ffff00"/>
<polygon points="365.4,483.5 373.4,482.4 381.4,481.4 389.4,480.5 397.4,479.7 405.4,478.9 413.4,477.9 421.4,476.9 429.4,475.8 437.4,474.7 445.4,473.8 453.4,472.9 461.4,472.1 469.4,471.3 477.4,470.4 485.4,469.5 493.4,468.5 501.4,467.6 509.4,466.9 517.4,466.3 517.4,466.7 509.4,468.0 501.4,469.1 493.4,469.9 485.4,470.7 477.4,471.5 469.4,472.4 461.4,473.4 453.4,474.3 445.4,475.1 437.4,475.8 429.4,476.5 421.4,477.3 413.4,478.2 405.4,479.3 397.4,480.3 389.4,481.2 381.4,482.0 373.4,482.7 365.4,483.5" fill="#ffff00"/>
<polygon points="58.0,517.9 66.0,517.1 74.0,516.3 82.0,515.4 90.0,514.4 98.0,513.3 106.0,512.4 114.0,511.8 122.0,511.3 122.0,511.4 114.0,512.4 106.0,513.3 98.0,514.1 90.0,514.9 82.0,515.9 74.0,517.0 66.0,518.3 58.0,519.4" fill="#ffff00"/>
<polygon points="124.2,511.0 132.2,510.2 140.2,509.4 148.2,508.4 156.2,507.3 164.2,506.2 172.2,505.2 180.2,504.3 188.2,503.5 196.2,502.6 204.2,501.8 212.2,501.0 220.2,500.3 220.2,500.3 212.2,501.4 204.2,502.5 196.2,503.5 188.2,504.3 180.2,505.1 172.2,506.1 164.2,507.2 156.2,508.3 148.2,509.2 140.2,509.7 132.2,510.3 124.2,511.0" fill="#ffff00"/>
<polygon points="509.9,467.9 517.9,466.9 525.9,465.8 533.9,464.7 541.9,463.8 549.9,463.0 557.9,462.2 565.9,461.3 573.9,460.4 581.9,459.4 581.9,460.2 573.9,461.0 565.9,461.9 557.9,462.8 549.9,463.8 541.9,464.9 533.9,465.8 525.9,466.5 517.9,467.1 509.9,467.9" fill="#ffff00"/>
<polygon points="58.0,520.1 66.0,519.0 74.0,518.1 82.0,517.2 90.0,516.4 98.0,515.6 106.0,514.7 114.0,513.7 122.0,512.5 130.0,511.4 138.0,510.3 146.0,509.3 154.0,508.5 162.0,507.8 170.0,507.3 178.0,506.7 178.0,506.8 170.0,507.7 162.0,508.6 154.0,509.6 146.0,510.8 138.0,512.0 130.0,513.1 122.0,514.0 114.0,514.7 106.0,515.6 98.0,516.6 90.0,517.7 82.0,518.8 74.0,519.7 66.0,520.4 58.0,521.0" fill="#ffff00"/>
<polygon points="240.3,499.7 248.3,498.7 256.3,497.6 264.3,496.5 272.3,495.6 280.3,494.8 288.3,494.0 296.3,493.1 304.3,492.1 312.3,491.1 320.3,489.9 328.3,488.9 336.3,487.9 344.3,487.0 352.3,486.4 360.3,485.9 360.3,486.3 352.3,487.4 344.3,488.3 336.3,489.0 328.3,489.8 320.3,490.8 312.3,491.9 304.3,492.9 296.3,493.9 288.3,494.7 280.3,495.5 272.3,496.4 264.3,497.5 256.3,498.5 248.3,499.2 240.3,499.7" fill="#ffff00"/>
<polygon points="397.3,482.6 405.3,481.5 413.3,480.4 421.3,479.3 429.3,478.5 437.3,477.7 445.3,476.9 453.3,476.1 461.3,475.3 469.3,474.3 477.3,473.2 485.3,472.3 493.3,471.5 493.3,471.7 485.3,472.9 477.3,474.2 469.3,475.2 461.3,476.1 453.3,476.9 445.3,477.7 437.3,478.6 429.3,479.6 421.3,480.6 413.3,481.3 405.3,481.9 397.3,482.6" fill="#ffff00"/>
<polygon points="58.0,522.0 66.0,521.0 74.0,520.0 82.0,519.1 90.0,518.3 98.0,517.4 106.0,516.4 114.0,515.3 122.0,514.2 130.0,513.0 138.0,512.0 146.0,511.2 154.0,510.4 162.0,509.7 170.0,509.0 178.0,508.1 186.0,507.1 194.0,506.2 202.0,505.2 210.0,504.3 218.0,503.6 226.0,503.0 234.0,502.3 234.0,502.8 226.0,503.9 218.0,504.9 210.0,505.6 202.0,506.6 194.0,507.6 186.0,508.6 178.0,509.5 170.0,510.2 162.0,511.0 154.0,511.9 146.0,513.0 138.0,514.2 130.0,515.4 122.0,516.4 114.0,517.3 106.0,518.1 98.0,519.0 90.0,520.1 82.0,521.2 74.0,522.3 66.0,523.1 58.0,523.8" fill="#ffff00"/>
<polygon points="299.2,495.1 307.2,493.6 315.2,492.2 323.2,491.1 331.2,490.4 339.2,489.6 347.2,488.7 355.2,487.8 363.2,486.8 371.2,485.8 379.2,485.0 387.2,484.4 395.2,483.8 395.2,484.3 387.2,485.4 379.2,486.5 371.2,487.5 363.2,488.6 355.2,489.8 347.2,490.9 339.2,491.9 331.2,492.7 323.2,493.4 315.2,494.0 307.2,494.5 299.2,495.1" fill="#ffff00"/>
<polygon points="392.5,485.7 400.5,484.6 408.5,483.4 416.5,482.2 424.5,481.2 432.5,480.3 440.5,479.5 448.5,478.8 456.5,478.0 464.5,477.2 472.5,476.3 480.5,475.3 488.5,474.3 496.5,473.3 504.5,472.4 512.5,471.5 520.5,470.6 528.5,469.8 536.5,468.8 544.5,467.9 544.5,467.9 536.5,468.9 528.5,469.9 520.5,470.8 512.5,471.7 504.5,472.8 496.5,474.0 488.5,475.1 480.5,476.1 472.5,476.9 464.5,477.8 456.5,478.6 448.5,479.6 440.5,480.7 432.5,481.7 424.5,482.5 416.5,483.3 408.5,483.9 400.5,484.8 392.5,485.7" fill="#ffff00"/>
<polygon points="178.6,511.9 186.6,510.8 194.6,509.6 202.6,508.5 210.6,507.6 218.6,506.8 226.6,505.8 234.6,504.8 242.6,503.7 250.6,502.5 258.6,501.5 266.6,500.5 274.6,499.7 282.6,499.0 290.6,498.2 298.6,497.4 306.6,496.6 314.6,495.7 314.6,495.8 306.6,496.7 298.6,497.6 290.6,498.7 282.6,499.9 274.6,501.0 266.6,502.0 258.6,502.9 250.6,503.7 242.6,504.7 234.6,505.9 226.6,507.0 218.6,508.1 210.6,509.0 202.6,509.7 194.6,510.3 186.6,511.0 178.6,511.9" fill="#ffff00"/>
<polygon points="467.0,478.6 475.0,477.5 483.0,476.4 491.0,475.4 499.0,474.3 507.0,473.3 515.0,472.4 523.0,471.5 531.0,470.6 539.0,469.7 547.0,468.7 555.0,467.7 563.0,466.6 571.0,465.5 579.0,464.4 587.0,463.5 587.0,464.6 579.0,465.4 571.0,466.3 563.0,467.4 555.0,468.6 547.0,469.7 539.0,470.7 531.0,471.6 523.0,472.5 515.0,473.5 507.0,474.5 499.0,475.7 491.0,476.7 483.0,477.4 475.0,477.9 467.0,478.6" fill="#ffff00"/>
<polygon points="507.8,474.6 515.8,473.4 523.8,472.2 531.8,471.0 539.8,470.0 547.8,469.1 555.8,468.3 563.8,467.6 571.8,466.8 571.8,467.2 563.8,468.6 555.8,469.7 547.8,470.5 539.8,471.3 531.8,472.2 523.8,473.1 515.8,473.9 507.8,474.6" fill="#ffff00"/>
<polygon points="146.1,520.5 154.1,519.4 162.1,518.4 170.1,517.5 170.1,517.7 162.1,518.9 154.1,519.7 146.1,520.5" fill="#ffff00"/>
<polygon points="501.5,476.7 509.5,475.6 517.5,474.4 525.5,473.4 533.5,472.6 541.5,471.7 549.5,470.9 557.5,469.9 565.5,468.9 565.5,468.9 557.5,470.1 549.5,471.2 541.5,472.2 533.5,473.2 525.5,474.2 517.5,475.2 509.5,476.0 501.5,476.7" fill="#ffff00"/>
<polygon points="567.4,468.8 575.4,467.7 583.4,466.6 583.4,467.2 575.4,468.0 567.4,468.8" fill="#ffff00"/>
<polygon points="58.0,532.6 66.0,531.4 74.0,530.4 82.0,529.5 90.0,528.6 98.0,527.7 106.0,526.8 114.0,525.9 114.0,526.3 106.0,527.5 98.0,528.6 90.0,529.5 82.0,530.6 74.0,531.8 66.0,533.0 58.0,533.9" fill="#ffff00"/>
<polygon points="306.9,503.1 314.9,501.9 322.9,500.6 330.9,499.2 338.9,498.4 346.9,497.8 346.9,498.2 338.9,499.2 330.9,500.2 322.9,501.2 314.9,502.2 306.9,503.1" fill="#ffff00"/>
<polygon points="353.8,497.1 361.8,496.0 369.8,494.7 377.8,493.5 385.8,492.3 393.8,491.3 401.8,490.7 409.8,490.0 409.8,490.3 401.8,491.5 393.8,492.6 385.8,493.7 377.8,494.9 369.8,495.8 361.8,496.5 353.8,497.1" fill="#ffff00"/>
<polygon points="434.8,487.8 442.8,486.7 450.8,485.5 458.8,484.6 466.8,483.7 466.8,483.8 458.8,484.9 450.8,486.0 442.8,487.0 434.8,487.8" fill="#ffff00"/>
<polygon points="469.0,483.6 477.0,482.5 485.0,481.3 493.0,480.1 501.0,478.9 509.0,477.8 517.0,476.7 525.0,475.7 533.0,474.8 541.0,474.0 549.0,473.1 557.0,472.1 565.0,471.1 573.0,470.0 581.0,469.0 581.0,469.8 573.0,470.9 565.0,471.8 557.0,472.8 549.0,473.8 541.0,474.9 533.0,476.1 525.0,477.3 517.0,478.4 509.0,479.3 501.0,480.2 493.0,481.1 485.0,482.0 477.0,482.8 469.0,483.6" fill="#ffff00"/>
<polygon points="316.4,503.6 324.4,502.4 332.4,501.3 340.4,500.1 348.4,499.0 356.4,498.0 364.4,497.0 372.4,496.2 380.4,495.3 388.4,494.4 396.4,493.4 404.4,492.3 412.4,491.1 420.4,489.9 428.4,488.8 436.4,487.9 444.4,487.2 452.4,486.4 452.4,486.4 444.4,487.7 436.4,488.9 428.4,489.9 420.4,490.8 412.4,491.8 404.4,492.9 396.4,494.0 388.4,494.9 380.4,495.8 372.4,496.6 364.4,497.6 356.4,498.8 348.4,500.1 340.4,501.3 332.4,502.1 324.4,502.9 316.4,503.6" fill="#ffff00"/>
<polygon points="452.5,486.3 460.5,485.1 468.5,483.9 476.5,482.8 484.5,481.7 492.5,480.7 500.5,479.7 508.5,478.7 516.5,477.9 524.5,477.0 532.5,476.1 540.5,475.1 548.5,474.1 556.5,473.0 564.5,472.0 572.5,471.0 572.5,471.1 564.5,472.1 556.5,473.3 548.5,474.3 540.5,475.2 532.5,476.2 524.5,477.2 516.5,478.4 508.5,479.6 500.5,480.8 492.5,481.8 484.5,482.8 476.5,483.7 468.5,484.6 460.5,485.4 452.5,486.3" fill="#ffff00"/>
<polygon points="573.3,471.1 581.3,469.8 581.3,470.3 573.3,471.1" fill="#ffff00"/>
<polygon points="58.0,537.2 66.0,536.3 74.0,535.3 82.0,534.2 90.0,532.9 98.0,531.6 106.0,530.7 114.0,530.0 122.0,529.3 122.0,529.3 114.0,530.5 106.0,531.4 98.0,532.4 90.0,533.5 82.0,534.8 74.0,536.1 66.0,537.3 58.0,538.3" fill="#ffff00"/>
<polygon points="121.9,529.3 129.9,528.0 137.9,526.7 145.9,525.7 153.9,524.8 161.9,523.7 169.9,522.6 177.9,521.6 185.9,520.6 193.9,519.7 201.9,518.9 209.9,518.1 217.9,517.1 225.9,516.1 233.9,514.9 241.9,513.7 249.9,512.5 257.9,511.4 265.9,510.4 273.9,509.4 281.9,508.5 289.9,507.5 297.9,506.7 297.9,507.0 289.9,508.1 281.9,509.2 273.9,510.0 265.9,511.0 257.9,512.1 249.9,513.3 241.9,514.6 233.9,515.8 225.9,516.9 217.9,517.8 209.9,518.7 201.9,519.7 193.9,520.9 185.9,522.1 177.9,523.2 169.9,524.0 161.9,524.8 153.9,525.5 145.9,526.4 137.9,527.4 129.9,528.4 121.9,529.3" fill="#ffff00"/>
<polygon points="322.4,507.6 330.4,506.1 338.4,504.5 346.4,503.2 354.4,502.3 362.4,501.4 370.4,500.5 378.4,499.5 386.4,498.4 394.4,497.3 402.4,496.2 410.4,495.2 418.4,494.3 426.4,493.4 434.4,492.5 442.4,491.5 450.4,490.4 458.4,489.2 466.4,488.0 474.4,486.9 482.4,486.0 490.4,485.2 490.4,485.5 482.4,486.7 474.4,488.1 466.4,489.2 458.4,490.3 450.4,491.3 442.4,492.3 434.4,493.5 426.4,494.7 418.4,496.0 410.4,497.1 402.4,498.1 394.4,499.0 386.4,499.9 378.4,500.9 370.4,502.0 362.4,503.1 354.4,504.2 346.4,505.1 338.4,505.8 330.4,506.6 322.4,507.6" fill="#ffff00"/>
<polygon points="58.0,543.6 66.0,542.3 74.0,540.9 82.0,539.6 90.0,538.8 98.0,538.2 106.0,537.6 106.0,537.7 98.0,539.0 90.0,540.3 82.0,541.7 74.0,542.8 66.0,543.9 58.0,544.8" fill="#ffff00"/>
<polygon points="441.6,494.2 449.6,492.7 457.6,491.3 465.6,490.0 473.6,489.0 481.6,488.0 489.6,486.9 497.6,485.7 505.6,484.6 513.6,483.6 521.6,482.6 529.6,481.7 537.6,480.8 545.6,479.9 553.6,479.0 561.6,478.0 561.6,478.0 553.6,479.3 545.6,480.6 537.6,481.8 529.6,482.9 521.6,484.2 513.6,485.4 505.6,486.6 497.6,487.7 489.6,488.6 481.6,489.5 473.6,490.6 465.6,491.7 457.6,492.6 449.6,493.4 441.6,494.2" fill="#ffff00"/>
<polygon points="401.7,500.7 409.7,499.5 417.7,498.1 425.7,496.8 433.7,495.8 441.7,494.8 449.7,493.7 457.7,492.7 465.7,491.5 473.7,490.3 481.7,489.2 489.7,488.2 497.7,487.4 505.7,486.5 505.7,486.6 497.7,487.8 489.7,488.9 481.7,490.0 473.7,491.1 465.7,492.4 457.7,493.7 449.7,494.9 441.7,496.0 433.7,496.9 425.7,497.8 417.7,498.7 409.7,499.7 401.7,500.7" fill="#ffff00"/>
<polygon points="507.9,486.3 515.9,485.1 523.9,484.0 531.9,483.0 539.9,481.9 547.9,480.8 555.9,479.6 563.9,478.5 571.9,477.5 571.9,477.6 563.9,478.7 555.9,480.0 547.9,481.2 539.9,482.3 531.9,483.4 523.9,484.3 515.9,485.3 507.9,486.3" fill="#ffff00"/>
<polygon points="153.8,535.7 161.8,534.2 169.8,532.7 177.8,531.5 185.8,530.6 193.8,529.7 201.8,528.7 209.8,527.5 217.8,526.3 225.8,525.0 233.8,523.8 241.8,522.6 249.8,521.6 257.8,520.5 265.8,519.5 273.8,518.3 281.8,517.1 289.8,515.8 297.8,514.6 305.8,513.4 313.8,512.4 321.8,511.5 329.8,510.9 337.8,510.2 337.8,510.8 329.8,512.3 321.8,513.7 313.8,514.7 305.8,515.8 297.8,517.0 289.8,518.2 281.8,519.2 273.8,520.1 265.8,520.9 257.8,521.9 249.8,523.0 241.8,524.3 233.8,525.5 225.8,526.7 217.8,527.7 209.8,528.7 201.8,529.8 193.8,531.1 185.8,532.5 177.8,533.8 169.8,534.6 161.8,535.1 153.8,535.7" fill="#ffff00"/>
<polygon points="344.2,509.3 352.2,507.9 360.2,506.5 368.2,505.4 376.2,504.5 384.2,503.6 392.2,502.6 400.2,501.5 408.2,500.3 416.2,499.1 424.2,498.0 432.2,497.1 440.2,496.2 440.2,496.2 432.2,497.4 424.2,498.7 416.2,500.0 408.2,501.2 400.2,502.2 392.2,503.1 384.2,504.0 376.2,505.0 368.2,506.1 360.2,507.3 352.2,508.4 344.2,509.3" fill="#ffff00"/>
<polygon points="61.3,549.9 69.3,548.5 77.3,547.0 85.3,545.6 93.3,544.4 101.3,543.4 109.3,542.4 117.3,541.5 125.3,540.4 133.3,539.3 141.3,538.0 149.3,536.6 157.3,535.3 165.3,534.1 173.3,533.0 181.3,532.0 189.3,531.0 197.3,529.9 205.3,528.8 213.3,527.6 221.3,526.4 229.3,525.6 237.3,525.1 237.3,525.7 229.3,526.9 221.3,528.3 213.3,529.6 205.3,531.0 197.3,532.2 189.3,533.3 181.3,534.3 173.3,535.4 165.3,536.6 157.3,538.0 149.3,539.3 141.3,540.5 133.3,541.4 125.3,542.3 117.3,543.1 109.3,544.2 101.3,545.4 93.3,546.6 85.3,547.7 77.3,548.3 69.3,549.0 61.3,549.9" fill="#ffff00"/>
<polygon points="58.0,550.9 66.0,549.9 74.0,548.8 82.0,547.5 90.0,546.1 98.0,544.9 106.0,544.1 114.0,543.4 114.0,543.7 106.0,544.8 98.0,545.9 90.0,547.0 82.0,548.4 74.0,549.8 66.0,551.1 58.0,552.2" fill="#ffff00"/>
<polygon points="572.2,479.7 580.2,478.5 580.2,478.7 572.2,479.7" fill="#ffff00"/>
<polygon points="233.9,527.8 241.9,526.6 249.9,525.5 257.9,524.5 265.9,523.5 273.9,522.4 281.9,521.2 289.9,519.9 297.9,518.7 305.9,517.5 313.9,516.4 321.9,515.4 329.9,514.3 337.9,513.2 337.9,513.3 329.9,514.6 321.9,516.1 313.9,517.4 305.9,518.5 297.9,519.5 289.9,520.4 281.9,521.3 273.9,522.4 265.9,523.6 257.9,524.8 249.9,525.8 241.9,526.8 233.9,527.8" fill="#ffff00"/>
<polygon points="120.2,547.0 128.2,545.6 136.2,544.1 144.2,542.5 152.2,541.3 160.2,540.2 168.2,539.2 176.2,538.1 184.2,537.0 192.2,535.8 200.2,534.5 208.2,533.3 216.2,532.1 224.2,531.1 232.2,530.2 240.2,529.3 248.2,528.5 256.2,527.5 256.2,527.9 248.2,529.5 240.2,530.8 232.2,531.6 224.2,532.6 216.2,533.7 208.2,535.0 200.2,536.2 192.2,537.4 184.2,538.4 176.2,539.4 168.2,540.5 160.2,541.8 152.2,543.2 144.2,544.7 136.2,545.6 128.2,546.3 120.2,547.0" fill="#ffff00"/>
<polygon points="262.7,526.6 270.7,525.2 278.7,523.7 286.7,522.3 294.7,521.1 302.7,520.0 310.7,519.0 318.7,518.1 326.7,517.2 334.7,516.2 342.7,515.1 342.7,515.2 334.7,516.8 326.7,518.3 318.7,519.6 310.7,520.6 302.7,521.6 294.7,522.7 286.7,523.9 278.7,524.9 270.7,525.7 262.7,526.6" fill="#ffff00"/>
<polygon points="469.5,498.3 477.5,496.8 485.5,495.3 493.5,494.2 501.5,493.4 509.5,492.5 509.5,492.5 501.5,493.9 493.5,495.4 485.5,496.5 477.5,497.4 469.5,498.3" fill="#ffff00"/>
</g>
<polygon points="58.0,541.5 60.0,541.2 62.0,540.8 64.0,540.5 66.0,539.9 68.0,539.2 70.0,538.6 72.0,538.0 74.0,537.4 76.0,536.7 78.0,536.1 80.0,535.5 82.0,534.9 84.0,534.7 86.0,534.4 88.0,534.2 90.0,533.9 92.0,533.6 94.0,533.4 96.0,533.1 98.0,532.9 100.0,532.6 102.0,532.3 104.0,532.1 106.0,531.8 108.0,531.6 110.0,531.3 112.0,531.0 114.0,530.8 116.0,530.5 118.0,530.3 120.0,530.0 122.0,529.6 124.0,529.3 126.0,528.9 128.0,528.5 130.0,528.1 132.0,527.8 134.0,527.4 136.0,527.0 138.0,526.7 140.0,526.3 142.0,525.9 144.0,525.5 146.0,525.2 148.0,524.8 150.0,524.4 152.0,523.9 154.0,523.5 156.0,523.1 158.0,522.6 160.0,522.2 162.0,521.8 164.0,521.3 166.0,520.9 168.0,520.5 170.0,520.0 172.0,519.6 174.0,519.5 176.0,519.6 178.0,519.7 180.0,519.7 182.0,519.8 184.0,519.8 186.0,519.9 188.0,519.9 190.0,520.0 192.0,520.2 194.0,520.5 196.0,520.7 198.0,521.0 200.0,521.2 202.0,521.5 204.0,521.7 206.0,522.0 208.0,522.2 210.0,522.4 212.0,522.7 214.0,522.9 216.0,522.9 218.0,522.7 220.0,522.6 222.0,522.4 224.0,522.2 226.0,522.1 228.0,521.9 230.0,521.7 232.0,521.6 234.0,521.4 236.0,521.2 238.0,521.1 240.0,520.8 242.0,520.5 244.0,520.2 246.0,519.8 248.0,519.5 250.0,519.2 252.0,518.8 254.0,518.5 256.0,515.8 258.0,513.1 260.0,510.4 262.0,508.8 264.0,508.5 266.0,508.1 268.0,507.7 270.0,507.4 272.0,507.0 274.0,506.6 276.0,506.3 278.0,506.0 280.0,505.8 282.0,505.7 284.0,505.6 286.0,505.4 288.0,505.3 290.0,505.1 292.0,505.0 294.0,504.9 296.0,505.0 298.0,505.3 300.0,505.6 302.0,505.9 304.0,506.2 306.0,506.5 308.0,506.8 310.0,506.8 312.0,506.4 314.0,506.0 316.0,505.7 318.0,505.3 320.0,504.9 322.0,504.5 324.0,504.1 326.0,503.8 328.0,503.4 330.0,503.0 332.0,502.3 334.0,501.6 336.0,500.8 338.0,500.2 340.0,500.0 342.0,499.8 344.0,499.6 346.0,499.4 348.0,499.2 350.0,499.0 352.0,498.8 354.0,498.6 356.0,498.4 358.0,498.2 360.0,498.0 362.0,497.8 364.0,497.6 366.0,497.4 368.0,497.2 370.0,496.9 372.0,496.7 374.0,496.5 376.0,496.3 378.0,496.1 380.0,495.9 382.0,495.7 384.0,495.4 386.0,495.2 388.0,495.0 390.0,494.8 392.0,494.8 394.0,494.7 396.0,494.7 398.0,494.6 400.0,494.6 402.0,494.5 404.0,494.5 406.0,494.4 408.0,494.4 410.0,494.3 412.0,494.0 414.0,493.4 416.0,492.8 418.0,492.2 420.0,491.6 422.0,491.0 424.0,490.4 426.0,489.8 428.0,489.2 430.0,488.6 432.0,488.0 434.0,487.5 436.0,487.0 438.0,486.5 440.0,486.0 442.0,485.5 444.0,485.0 446.0,484.5 448.0,484.0 450.0,483.5 452.0,483.0 454.0,482.6 456.0,482.3 458.0,481.9 460.0,481.6 462.0,481.2 464.0,480.8 466.0,480.5 468.0,480.3 470.0,480.3 472.0,480.3 474.0,480.3 476.0,480.3 478.0,480.2 480.0,479.7 482.0,479.1 484.0,478.6 486.0,478.1 488.0,477.6 490.0,477.1 492.0,476.6 494.0,476.1 496.0,475.6 498.0,475.3 500.0,475.0 502.0,474.6 504.0,474.3 506.0,474.0 508.0,473.6 510.0,473.3 512.0,473.0 514.0,472.6 516.0,472.3 518.0,472.0 520.0,471.6 522.0,471.3 524.0,471.0 526.0,470.6 528.0,470.3 530.0,470.0 532.0,469.6 534.0,469.3 536.0,469.0 538.0,468.6 540.0,468.1 542.0,467.7 544.0,467.3 546.0,466.8 548.0,466.4 550.0,466.0 552.0,465.5 554.0,465.1 556.0,464.6 558.0,464.2 560.0,463.7 562.0,463.2 564.0,462.8 566.0,462.3 568.0,461.8 570.0,461.3 572.0,460.8 574.0,460.4 576.0,459.8 578.0,459.2 580.0,458.5 582.0,457.8 584.0,457.1 586.0,456.5 588.0,455.8 589.5,541.7 56.5,541.7" fill="#777777"/>
<path d="M116.8 527.5L121.1 527.0" stroke="#ee2200" stroke-width="1.6" fill="none"/>
<path d="M153.7 520.4L156.2 519.5" stroke="#ee2200" stroke-width="0.8" fill="none"/>
<path d="M191.9 517.4L197.9 518.2" stroke="#ee2200" stroke-width="1.4" fill="none"/>
<path d="M223.2 521.0L226.4 520.8" stroke="#ee2200" stroke-width="1.5" fill="none"/>
<path d="M232.4 519.9L236.2 519.5" stroke="#ee2200" stroke-width="0.9" fill="none"/>
<path d="M320.2 503.7L323.2 503.2" stroke="#ee2200" stroke-width="1.1" fill="none"/>
<path d="M354.0 497.4L358.9 496.3" stroke="#ee2200" stroke-width="1.2" fill="none"/>
<path d="M364.7 496.0L367.6 496.0" stroke="#ee2200" stroke-width="0.9" fill="none"/>
<path d="M434.9 486.0L439.2 485.2" stroke="#ee2200" stroke-width="1.4" fill="none"/>
<path d="M450.8 482.2L457.1 480.6" stroke="#ee2200" stroke-width="1.0" fill="none"/>
<path d="M477.0 478.5L483.3 477.3" stroke="#ee2200" stroke-width="0.9" fill="none"/>
<path d="M486.2 476.4L492.4 474.9" stroke="#ee2200" stroke-width="1.4" fill="none"/>
<path d="M542.7 464.7L549.4 463.6" stroke="#ee2200" stroke-width="1.1" fill="none"/>
<path d="M582.5 455.6L587.2 453.9" stroke="#ee2200" stroke-width="1.4" fill="none"/>
<rect x="56.5" y="350.2" width="2.6" height="191.50000000000006" fill="#f6f6f6"/>
<rect x="586.9" y="350.2" width="2.6" height="191.50000000000006" fill="#e2e2e2"/>
</g>
<path fill="#000" fill-rule="evenodd" d="M53.0 346.3H593.5V545.6H53.0Z M57.0 350.7V541.2H589.0V350.7Z"/>
<text x="43.6" y="355.7" font-size="20.4" text-anchor="end">0</text>
<text x="43.6" y="404.4" font-size="20.4" text-anchor="end">1</text>
<text x="43.6" y="453.2" font-size="20.4" text-anchor="end">2</text>
<text x="43.6" y="501.9" font-size="20.4" text-anchor="end">3</text>
<text x="43.6" y="550.6" font-size="20.4" text-anchor="end">4</text>
<text x="55.6" y="571.6" font-size="20" text-anchor="middle">0</text>
<text x="323.7" y="571.6" font-size="20" text-anchor="middle">1.2</text>
<text x="590.5" y="571.6" font-size="20" text-anchor="middle">2.4</text>
<text x="322.3" y="602.3" font-size="21.8" text-anchor="middle">distance (km)</text>
<text transform="translate(19.6 447.5) rotate(-90)" font-size="21.7" text-anchor="middle">two-way time(s)</text>
<text x="322.9" y="336.7" font-size="25.5" font-weight="bold" text-anchor="middle" style="stroke-width:0.12px">(b) Validation Lithofacies (Truth)</text>
<g>
<clipPath id="insc"><rect x="631.6" y="348.6" width="156" height="195"/></clipPath>
<g clip-path="url(#insc)">
<rect x="631.6" y="348.6" width="156" height="195" fill="#fff"/>
<g transform="rotate(-28 709 446)" filter="url(#vmap)">
<rect x="570" y="310" width="280" height="280" fill="#808080"/>
<g transform="rotate(28 709 446)">
<ellipse cx="642" cy="376" rx="9" ry="7" transform="rotate(0 642 376)" fill="#454545"/>
<ellipse cx="688" cy="399" rx="32" ry="5.5" transform="rotate(-25 688 399)" fill="#303030"/>
<ellipse cx="777" cy="404" rx="8" ry="7" transform="rotate(0 777 404)" fill="#363636"/>
<ellipse cx="774" cy="354" rx="5" ry="4" transform="rotate(0 774 354)" fill="#454545"/>
<ellipse cx="728" cy="367" rx="7" ry="5" transform="rotate(0 728 367)" fill="#4b4b4b"/>
<ellipse cx="683" cy="375" rx="14" ry="21" transform="rotate(-10 683 375)" fill="#a9a9a9"/>
<ellipse cx="710" cy="401" rx="15" ry="9" transform="rotate(-20 710 401)" fill="#b1b1b1"/>
<ellipse cx="738" cy="376" rx="12" ry="10" transform="rotate(-20 738 376)" fill="#a9a9a9"/>
<ellipse cx="762" cy="381" rx="8" ry="15" transform="rotate(0 762 381)" fill="#a9a9a9"/>
<ellipse cx="736" cy="414" rx="6" ry="4" transform="rotate(0 736 414)" fill="#e9e9e9"/>
<ellipse cx="647" cy="396" rx="13" ry="10" transform="rotate(0 647 396)" fill="#a9a9a9"/>
<ellipse cx="700" cy="430" rx="40" ry="10" transform="rotate(-10 700 430)" fill="#9d9d9d"/>
<ellipse cx="663" cy="482" rx="7" ry="11" transform="rotate(0 663 482)" fill="#333333"/>
<ellipse cx="645" cy="498" rx="7" ry="8" transform="rotate(0 645 498)" fill="#222222"/>
<ellipse cx="669" cy="491" rx="13" ry="4" transform="rotate(-33 669 491)" fill="#f5f5f5"/>
<ellipse cx="659" cy="508" rx="26" ry="4" transform="rotate(-28 659 508)" fill="#e0e0e0"/>
<ellipse cx="688" cy="484" rx="9" ry="9" transform="rotate(0 688 484)" fill="#bababa"/>
<ellipse cx="707" cy="471" rx="28" ry="5" transform="rotate(-10 707 471)" fill="#c0c0c0"/>
<ellipse cx="709" cy="504" rx="10" ry="5" transform="rotate(-50 709 504)" fill="#101010"/>
<ellipse cx="726" cy="489" rx="12" ry="4" transform="rotate(-38 726 489)" fill="#222222"/>
<ellipse cx="762" cy="472" rx="27" ry="3.5" transform="rotate(-12 762 472)" fill="#2d2d2d"/>
<ellipse cx="700" cy="523" rx="14" ry="11" transform="rotate(0 700 523)" fill="#393939"/>
<ellipse cx="665" cy="538" rx="5" ry="4" transform="rotate(0 665 538)" fill="#303030"/>
<ellipse cx="744" cy="496" rx="10" ry="10" transform="rotate(0 744 496)" fill="#b1b1b1"/>
<ellipse cx="724" cy="531" rx="10" ry="4" transform="rotate(-15 724 531)" fill="#d7d7d7"/>
<ellipse cx="755" cy="501" rx="5" ry="5" transform="rotate(0 755 501)" fill="#595959"/>
<ellipse cx="770" cy="520" rx="14" ry="16" transform="rotate(0 770 520)" fill="#9d9d9d"/>
<ellipse cx="640" cy="460" rx="8" ry="10" transform="rotate(0 640 460)" fill="#a6a6a6"/>
</g></g>
</g>
<rect x="631.6" y="348.6" width="156" height="195" fill="none" stroke="#222" stroke-width="1.2"/>
<path d="M659.8 364L633.4 523.6" stroke="#000" stroke-width="3.2" fill="none"/>
<text x="708.5" y="441.3" font-size="21.5" font-weight="bold" text-anchor="middle" style="fill:#c40a18;stroke:none" textLength="132.6" lengthAdjust="spacingAndGlyphs">Validation</text>
<text x="709.6" y="465.6" font-size="21.5" font-weight="bold" text-anchor="middle" style="fill:#c40a18;stroke:none" textLength="36.6" lengthAdjust="spacingAndGlyphs">set</text>
</g>
<g>
<rect x="56.5" y="666.5" width="533.0" height="189.60000000000002" fill="#a5a5a5"/>
<clipPath id="sedc"><polygon points="58.0,730.2 60.0,730.2 62.0,730.2 64.0,730.2 66.0,730.1 68.0,730.1 70.0,730.1 72.0,730.1 74.0,730.1 76.0,730.1 78.0,730.1 80.0,730.0 82.0,730.0 84.0,730.0 86.0,730.0 88.0,730.0 90.0,730.0 92.0,730.0 94.0,729.9 96.0,729.9 98.0,729.9 100.0,729.9 102.0,729.9 104.0,729.9 106.0,729.9 108.0,729.8 110.0,729.8 112.0,729.8 114.0,729.8 116.0,729.8 118.0,729.8 120.0,729.8 122.0,729.7 124.0,729.7 126.0,729.7 128.0,729.7 130.0,729.7 132.0,729.7 134.0,729.7 136.0,729.6 138.0,729.6 140.0,729.6 142.0,729.6 144.0,729.6 146.0,729.6 148.0,729.6 150.0,729.5 152.0,729.5 154.0,729.5 156.0,729.3 158.0,728.9 160.0,728.5 162.0,728.1 164.0,727.7 166.0,727.3 168.0,726.9 170.0,726.5 172.0,726.1 174.0,726.0 176.0,726.0 178.0,725.9 180.0,725.9 182.0,725.9 184.0,725.8 186.0,725.8 188.0,725.8 190.0,725.8 192.0,725.7 194.0,725.7 196.0,725.7 198.0,725.7 200.0,725.6 202.0,725.6 204.0,725.6 206.0,725.6 208.0,725.5 210.0,725.5 212.0,725.5 214.0,725.4 216.0,725.4 218.0,725.4 220.0,725.4 222.0,725.3 224.0,725.3 226.0,725.3 228.0,725.2 230.0,725.2 232.0,725.2 234.0,725.1 236.0,725.1 238.0,725.0 240.0,725.0 242.0,725.0 244.0,724.9 246.0,724.9 248.0,724.8 250.0,724.8 252.0,724.8 254.0,724.7 256.0,724.7 258.0,724.6 260.0,724.6 262.0,724.6 264.0,724.5 266.0,724.5 268.0,724.4 270.0,724.4 272.0,724.4 274.0,724.3 276.0,724.3 278.0,724.2 280.0,724.2 282.0,724.2 284.0,724.1 286.0,724.1 288.0,724.0 290.0,724.0 292.0,724.0 294.0,723.9 296.0,723.9 298.0,723.8 300.0,723.8 302.0,723.8 304.0,723.7 306.0,723.7 308.0,723.6 310.0,723.6 312.0,723.6 314.0,723.5 316.0,723.5 318.0,723.4 320.0,723.4 322.0,723.4 324.0,723.3 326.0,723.3 328.0,723.2 330.0,723.2 332.0,723.2 334.0,723.1 336.0,723.1 338.0,723.0 340.0,723.0 342.0,722.9 344.0,722.9 346.0,722.9 348.0,722.8 350.0,722.8 352.0,722.7 354.0,722.7 356.0,722.6 358.0,722.6 360.0,722.6 362.0,722.5 364.0,722.5 366.0,722.4 368.0,722.4 370.0,722.3 372.0,722.3 374.0,722.3 376.0,722.2 378.0,722.2 380.0,722.1 382.0,722.1 384.0,722.0 386.0,722.0 388.0,722.0 390.0,721.9 392.0,721.9 394.0,721.8 396.0,721.8 398.0,721.7 400.0,721.7 402.0,721.6 404.0,721.6 406.0,721.6 408.0,721.5 410.0,721.5 412.0,721.4 414.0,721.4 416.0,721.3 418.0,721.3 420.0,721.3 422.0,721.2 424.0,721.2 426.0,721.1 428.0,721.1 430.0,721.0 432.0,721.0 434.0,721.0 436.0,720.9 438.0,720.9 440.0,720.8 442.0,720.8 444.0,720.7 446.0,720.7 448.0,720.7 450.0,720.6 452.0,720.6 454.0,720.5 456.0,720.5 458.0,720.4 460.0,720.4 462.0,720.4 464.0,720.3 466.0,720.3 468.0,720.2 470.0,720.2 472.0,720.1 474.0,720.1 476.0,720.0 478.0,720.0 480.0,719.9 482.0,719.9 484.0,719.8 486.0,719.8 488.0,719.7 490.0,719.7 492.0,719.6 494.0,719.6 496.0,719.5 498.0,719.5 500.0,719.4 502.0,719.4 504.0,719.3 506.0,719.3 508.0,719.2 510.0,719.2 512.0,719.1 514.0,719.1 516.0,719.0 518.0,719.0 520.0,718.9 522.0,718.9 524.0,718.8 526.0,718.8 528.0,718.8 530.0,718.7 532.0,718.7 534.0,718.6 536.0,718.6 538.0,718.5 540.0,718.5 542.0,718.4 544.0,718.4 546.0,718.3 548.0,718.3 550.0,718.2 552.0,718.2 554.0,718.1 556.0,718.1 558.0,718.0 560.0,718.0 562.0,717.9 564.0,717.9 566.0,717.8 568.0,717.8 570.0,717.7 572.0,717.7 574.0,717.6 576.0,717.6 578.0,717.5 580.0,717.5 582.0,717.4 584.0,717.4 586.0,717.3 588.0,717.3 588.0,773.3 586.0,773.5 584.0,773.7 582.0,774.0 580.0,774.2 578.0,774.6 576.0,775.2 574.0,775.7 572.0,776.3 570.0,776.9 568.0,777.4 566.0,778.0 564.0,778.6 562.0,779.2 560.0,779.7 558.0,780.3 556.0,780.7 554.0,781.1 552.0,781.6 550.0,782.0 548.0,782.4 546.0,782.8 544.0,783.2 542.0,783.7 540.0,784.1 538.0,784.5 536.0,784.9 534.0,785.4 532.0,785.8 530.0,786.2 528.0,786.5 526.0,786.8 524.0,787.2 522.0,787.5 520.0,787.8 518.0,788.1 516.0,788.4 514.0,788.8 512.0,789.1 510.0,789.4 508.0,789.7 506.0,790.0 504.0,790.4 502.0,790.7 500.0,791.0 498.0,791.3 496.0,791.6 494.0,792.0 492.0,792.3 490.0,792.6 488.0,793.0 486.0,793.3 484.0,793.6 482.0,794.0 480.0,794.3 478.0,794.6 476.0,795.0 474.0,795.3 472.0,795.5 470.0,795.7 468.0,795.9 466.0,796.1 464.0,796.3 462.0,796.5 460.0,796.7 458.0,796.9 456.0,797.1 454.0,797.3 452.0,797.5 450.0,797.7 448.0,798.4 446.0,799.2 444.0,800.0 442.0,800.8 440.0,801.6 438.0,802.4 436.0,803.2 434.0,804.0 432.0,804.8 430.0,805.3 428.0,805.8 426.0,806.3 424.0,806.8 422.0,807.3 420.0,807.8 418.0,808.3 416.0,808.8 414.0,809.3 412.0,809.8 410.0,810.0 408.0,810.0 406.0,810.0 404.0,810.0 402.0,810.0 400.0,810.0 398.0,810.0 396.0,810.0 394.0,810.0 392.0,810.0 390.0,810.0 388.0,810.0 386.0,810.0 384.0,810.0 382.0,810.0 380.0,810.0 378.0,810.0 376.0,810.0 374.0,810.0 372.0,810.0 370.0,810.2 368.0,810.4 366.0,810.6 364.0,810.8 362.0,810.9 360.0,811.1 358.0,811.3 356.0,811.5 354.0,811.6 352.0,811.8 350.0,812.0 348.0,812.2 346.0,812.4 344.0,812.5 342.0,812.7 340.0,813.0 338.0,813.5 336.0,813.9 334.0,814.4 332.0,814.8 330.0,815.3 328.0,815.4 326.0,815.6 324.0,815.7 322.0,815.9 320.0,816.0 318.0,816.2 316.0,816.3 314.0,816.5 312.0,816.8 310.0,817.0 308.0,817.3 306.0,817.5 304.0,817.7 302.0,818.0 300.0,818.2 298.0,818.4 296.0,818.7 294.0,818.8 292.0,818.9 290.0,819.0 288.0,819.0 286.0,819.1 284.0,819.2 282.0,819.3 280.0,819.3 278.0,819.4 276.0,819.5 274.0,819.5 272.0,819.6 270.0,819.7 268.0,819.8 266.0,820.1 264.0,820.7 262.0,821.2 260.0,821.8 258.0,822.4 256.0,822.9 254.0,823.5 252.0,824.1 250.0,824.7 248.0,825.2 246.0,825.8 244.0,826.7 242.0,827.6 240.0,828.4 238.0,829.3 236.0,830.2 234.0,831.1 232.0,832.0 230.0,832.8 228.0,833.5 226.0,833.3 224.0,833.2 222.0,833.1 220.0,832.9 218.0,832.8 216.0,832.7 214.0,832.6 212.0,832.4 210.0,832.3 208.0,832.2 206.0,832.0 204.0,831.9 202.0,831.8 200.0,831.6 198.0,831.5 196.0,831.4 194.0,831.3 192.0,831.1 190.0,831.0 188.0,831.0 186.0,830.9 184.0,830.9 182.0,830.8 180.0,830.8 178.0,830.8 176.0,830.7 174.0,830.7 172.0,830.7 170.0,830.6 168.0,830.6 166.0,830.5 164.0,830.5 162.0,830.5 160.0,830.4 158.0,830.4 156.0,830.4 154.0,830.3 152.0,830.3 150.0,830.2 148.0,830.2 146.0,830.2 144.0,830.1 142.0,830.1 140.0,830.0 138.0,830.0 136.0,830.1 134.0,830.2 132.0,830.3 130.0,830.4 128.0,830.5 126.0,830.6 124.0,830.7 122.0,830.8 120.0,830.9 118.0,830.9 116.0,831.0 114.0,831.1 112.0,831.2 110.0,831.3 108.0,831.4 106.0,831.5 104.0,831.6 102.0,831.8 100.0,832.2 98.0,832.7 96.0,833.1 94.0,833.6 92.0,834.0 90.0,834.4 88.0,834.9 86.0,835.3 84.0,835.8 82.0,836.2 80.0,836.1 78.0,835.8 76.0,835.5 74.0,835.2 72.0,834.9 70.0,834.6 68.0,834.3 66.0,834.0 64.0,833.7 62.0,833.4 60.0,833.1 58.0,832.8"/></clipPath>
<polygon points="58.0,730.2 60.0,730.2 62.0,730.2 64.0,730.2 66.0,730.1 68.0,730.1 70.0,730.1 72.0,730.1 74.0,730.1 76.0,730.1 78.0,730.1 80.0,730.0 82.0,730.0 84.0,730.0 86.0,730.0 88.0,730.0 90.0,730.0 92.0,730.0 94.0,729.9 96.0,729.9 98.0,729.9 100.0,729.9 102.0,729.9 104.0,729.9 106.0,729.9 108.0,729.8 110.0,729.8 112.0,729.8 114.0,729.8 116.0,729.8 118.0,729.8 120.0,729.8 122.0,729.7 124.0,729.7 126.0,729.7 128.0,729.7 130.0,729.7 132.0,729.7 134.0,729.7 136.0,729.6 138.0,729.6 140.0,729.6 142.0,729.6 144.0,729.6 146.0,729.6 148.0,729.6 150.0,729.5 152.0,729.5 154.0,729.5 156.0,729.3 158.0,728.9 160.0,728.5 162.0,728.1 164.0,727.7 166.0,727.3 168.0,726.9 170.0,726.5 172.0,726.1 174.0,726.0 176.0,726.0 178.0,725.9 180.0,725.9 182.0,725.9 184.0,725.8 186.0,725.8 188.0,725.8 190.0,725.8 192.0,725.7 194.0,725.7 196.0,725.7 198.0,725.7 200.0,725.6 202.0,725.6 204.0,725.6 206.0,725.6 208.0,725.5 210.0,725.5 212.0,725.5 214.0,725.4 216.0,725.4 218.0,725.4 220.0,725.4 222.0,725.3 224.0,725.3 226.0,725.3 228.0,725.2 230.0,725.2 232.0,725.2 234.0,725.1 236.0,725.1 238.0,725.0 240.0,725.0 242.0,725.0 244.0,724.9 246.0,724.9 248.0,724.8 250.0,724.8 252.0,724.8 254.0,724.7 256.0,724.7 258.0,724.6 260.0,724.6 262.0,724.6 264.0,724.5 266.0,724.5 268.0,724.4 270.0,724.4 272.0,724.4 274.0,724.3 276.0,724.3 278.0,724.2 280.0,724.2 282.0,724.2 284.0,724.1 286.0,724.1 288.0,724.0 290.0,724.0 292.0,724.0 294.0,723.9 296.0,723.9 298.0,723.8 300.0,723.8 302.0,723.8 304.0,723.7 306.0,723.7 308.0,723.6 310.0,723.6 312.0,723.6 314.0,723.5 316.0,723.5 318.0,723.4 320.0,723.4 322.0,723.4 324.0,723.3 326.0,723.3 328.0,723.2 330.0,723.2 332.0,723.2 334.0,723.1 336.0,723.1 338.0,723.0 340.0,723.0 342.0,722.9 344.0,722.9 346.0,722.9 348.0,722.8 350.0,722.8 352.0,722.7 354.0,722.7 356.0,722.6 358.0,722.6 360.0,722.6 362.0,722.5 364.0,722.5 366.0,722.4 368.0,722.4 370.0,722.3 372.0,722.3 374.0,722.3 376.0,722.2 378.0,722.2 380.0,722.1 382.0,722.1 384.0,722.0 386.0,722.0 388.0,722.0 390.0,721.9 392.0,721.9 394.0,721.8 396.0,721.8 398.0,721.7 400.0,721.7 402.0,721.6 404.0,721.6 406.0,721.6 408.0,721.5 410.0,721.5 412.0,721.4 414.0,721.4 416.0,721.3 418.0,721.3 420.0,721.3 422.0,721.2 424.0,721.2 426.0,721.1 428.0,721.1 430.0,721.0 432.0,721.0 434.0,721.0 436.0,720.9 438.0,720.9 440.0,720.8 442.0,720.8 444.0,720.7 446.0,720.7 448.0,720.7 450.0,720.6 452.0,720.6 454.0,720.5 456.0,720.5 458.0,720.4 460.0,720.4 462.0,720.4 464.0,720.3 466.0,720.3 468.0,720.2 470.0,720.2 472.0,720.1 474.0,720.1 476.0,720.0 478.0,720.0 480.0,719.9 482.0,719.9 484.0,719.8 486.0,719.8 488.0,719.7 490.0,719.7 492.0,719.6 494.0,719.6 496.0,719.5 498.0,719.5 500.0,719.4 502.0,719.4 504.0,719.3 506.0,719.3 508.0,719.2 510.0,719.2 512.0,719.1 514.0,719.1 516.0,719.0 518.0,719.0 520.0,718.9 522.0,718.9 524.0,718.8 526.0,718.8 528.0,718.8 530.0,718.7 532.0,718.7 534.0,718.6 536.0,718.6 538.0,718.5 540.0,718.5 542.0,718.4 544.0,718.4 546.0,718.3 548.0,718.3 550.0,718.2 552.0,718.2 554.0,718.1 556.0,718.1 558.0,718.0 560.0,718.0 562.0,717.9 564.0,717.9 566.0,717.8 568.0,717.8 570.0,717.7 572.0,717.7 574.0,717.6 576.0,717.6 578.0,717.5 580.0,717.5 582.0,717.4 584.0,717.4 586.0,717.3 588.0,717.3 588.0,773.3 586.0,773.5 584.0,773.7 582.0,774.0 580.0,774.2 578.0,774.6 576.0,775.2 574.0,775.7 572.0,776.3 570.0,776.9 568.0,777.4 566.0,778.0 564.0,778.6 562.0,779.2 560.0,779.7 558.0,780.3 556.0,780.7 554.0,781.1 552.0,781.6 550.0,782.0 548.0,782.4 546.0,782.8 544.0,783.2 542.0,783.7 540.0,784.1 538.0,784.5 536.0,784.9 534.0,785.4 532.0,785.8 530.0,786.2 528.0,786.5 526.0,786.8 524.0,787.2 522.0,787.5 520.0,787.8 518.0,788.1 516.0,788.4 514.0,788.8 512.0,789.1 510.0,789.4 508.0,789.7 506.0,790.0 504.0,790.4 502.0,790.7 500.0,791.0 498.0,791.3 496.0,791.6 494.0,792.0 492.0,792.3 490.0,792.6 488.0,793.0 486.0,793.3 484.0,793.6 482.0,794.0 480.0,794.3 478.0,794.6 476.0,795.0 474.0,795.3 472.0,795.5 470.0,795.7 468.0,795.9 466.0,796.1 464.0,796.3 462.0,796.5 460.0,796.7 458.0,796.9 456.0,797.1 454.0,797.3 452.0,797.5 450.0,797.7 448.0,798.4 446.0,799.2 444.0,800.0 442.0,800.8 440.0,801.6 438.0,802.4 436.0,803.2 434.0,804.0 432.0,804.8 430.0,805.3 428.0,805.8 426.0,806.3 424.0,806.8 422.0,807.3 420.0,807.8 418.0,808.3 416.0,808.8 414.0,809.3 412.0,809.8 410.0,810.0 408.0,810.0 406.0,810.0 404.0,810.0 402.0,810.0 400.0,810.0 398.0,810.0 396.0,810.0 394.0,810.0 392.0,810.0 390.0,810.0 388.0,810.0 386.0,810.0 384.0,810.0 382.0,810.0 380.0,810.0 378.0,810.0 376.0,810.0 374.0,810.0 372.0,810.0 370.0,810.2 368.0,810.4 366.0,810.6 364.0,810.8 362.0,810.9 360.0,811.1 358.0,811.3 356.0,811.5 354.0,811.6 352.0,811.8 350.0,812.0 348.0,812.2 346.0,812.4 344.0,812.5 342.0,812.7 340.0,813.0 338.0,813.5 336.0,813.9 334.0,814.4 332.0,814.8 330.0,815.3 328.0,815.4 326.0,815.6 324.0,815.7 322.0,815.9 320.0,816.0 318.0,816.2 316.0,816.3 314.0,816.5 312.0,816.8 310.0,817.0 308.0,817.3 306.0,817.5 304.0,817.7 302.0,818.0 300.0,818.2 298.0,818.4 296.0,818.7 294.0,818.8 292.0,818.9 290.0,819.0 288.0,819.0 286.0,819.1 284.0,819.2 282.0,819.3 280.0,819.3 278.0,819.4 276.0,819.5 274.0,819.5 272.0,819.6 270.0,819.7 268.0,819.8 266.0,820.1 264.0,820.7 262.0,821.2 260.0,821.8 258.0,822.4 256.0,822.9 254.0,823.5 252.0,824.1 250.0,824.7 248.0,825.2 246.0,825.8 244.0,826.7 242.0,827.6 240.0,828.4 238.0,829.3 236.0,830.2 234.0,831.1 232.0,832.0 230.0,832.8 228.0,833.5 226.0,833.3 224.0,833.2 222.0,833.1 220.0,832.9 218.0,832.8 216.0,832.7 214.0,832.6 212.0,832.4 210.0,832.3 208.0,832.2 206.0,832.0 204.0,831.9 202.0,831.8 200.0,831.6 198.0,831.5 196.0,831.4 194.0,831.3 192.0,831.1 190.0,831.0 188.0,831.0 186.0,830.9 184.0,830.9 182.0,830.8 180.0,830.8 178.0,830.8 176.0,830.7 174.0,830.7 172.0,830.7 170.0,830.6 168.0,830.6 166.0,830.5 164.0,830.5 162.0,830.5 160.0,830.4 158.0,830.4 156.0,830.4 154.0,830.3 152.0,830.3 150.0,830.2 148.0,830.2 146.0,830.2 144.0,830.1 142.0,830.1 140.0,830.0 138.0,830.0 136.0,830.1 134.0,830.2 132.0,830.3 130.0,830.4 128.0,830.5 126.0,830.6 124.0,830.7 122.0,830.8 120.0,830.9 118.0,830.9 116.0,831.0 114.0,831.1 112.0,831.2 110.0,831.3 108.0,831.4 106.0,831.5 104.0,831.6 102.0,831.8 100.0,832.2 98.0,832.7 96.0,833.1 94.0,833.6 92.0,834.0 90.0,834.4 88.0,834.9 86.0,835.3 84.0,835.8 82.0,836.2 80.0,836.1 78.0,835.8 76.0,835.5 74.0,835.2 72.0,834.9 70.0,834.6 68.0,834.3 66.0,834.0 64.0,833.7 62.0,833.4 60.0,833.1 58.0,832.8" fill="#ffff00"/>
<g clip-path="url(#sedc)">
<polygon points="58.0,758.0 66.0,757.6 74.0,757.2 82.0,756.7 90.0,756.4 98.0,756.1 106.0,755.9 114.0,755.9 122.0,755.7 130.0,755.5 138.0,755.2 146.0,754.7 154.0,754.2 162.0,753.4 170.0,752.6 178.0,752.2 186.0,751.9 194.0,751.6 202.0,751.2 210.0,750.6 218.0,750.0 226.0,749.5 234.0,749.0 242.0,748.7 250.0,748.4 258.0,748.3 266.0,748.1 274.0,747.8 282.0,747.5 290.0,747.1 298.0,746.8 306.0,746.5 314.0,746.4 322.0,746.3 330.0,746.2 338.0,745.9 346.0,745.6 354.0,745.1 362.0,744.6 370.0,744.2 378.0,743.9 386.0,743.6 394.0,743.3 402.0,743.0 410.0,742.6 418.0,742.2 426.0,741.7 434.0,741.2 442.0,740.8 450.0,740.5 458.0,740.4 466.0,740.2 474.0,739.9 482.0,739.6 490.0,739.2 498.0,738.8 506.0,738.5 514.0,738.2 522.0,738.0 530.0,737.8 538.0,737.5 546.0,737.2 554.0,736.8 562.0,736.3 570.0,735.8 578.0,735.4 586.0,735.0 586.0,736.5 578.0,737.0 570.0,737.5 562.0,738.1 554.0,738.7 546.0,739.2 538.0,739.6 530.0,740.0 522.0,740.6 514.0,741.2 506.0,741.9 498.0,742.5 490.0,743.0 482.0,743.3 474.0,743.6 466.0,744.1 458.0,744.6 450.0,745.2 442.0,745.7 434.0,746.0 426.0,746.3 418.0,746.6 410.0,747.1 402.0,747.6 394.0,748.3 386.0,749.0 378.0,749.5 370.0,749.9 362.0,750.4 354.0,750.9 346.0,751.6 338.0,752.3 330.0,753.0 322.0,753.5 314.0,753.9 306.0,754.2 298.0,754.6 290.0,755.2 282.0,755.8 274.0,756.3 266.0,756.7 258.0,757.0 250.0,757.3 242.0,757.6 234.0,758.1 226.0,758.8 218.0,759.4 210.0,759.9 202.0,760.3 194.0,760.7 186.0,761.1 178.0,761.7 170.0,762.5 162.0,763.2 154.0,763.7 146.0,764.0 138.0,764.2 130.0,764.5 122.0,764.9 114.0,765.5 106.0,766.0 98.0,766.4 90.0,766.6 82.0,766.7 74.0,767.0 66.0,767.5 58.0,768.1" fill="#ffa800"/>
<polygon points="58.0,791.1 66.0,790.4 74.0,789.9 82.0,789.3 90.0,788.8 98.0,788.2 106.0,788.8 114.0,789.6 114.0,791.8 106.0,793.8 98.0,795.7 90.0,796.4 82.0,797.2 74.0,798.1 66.0,799.0 58.0,799.6" fill="#ffa800"/>
<polygon points="58.0,811.3 66.0,810.3 74.0,809.4 82.0,808.4 90.0,807.6 98.0,806.9 106.0,806.2 114.0,805.6 122.0,804.8 130.0,804.0 138.0,803.0 146.0,802.1 154.0,801.3 162.0,800.7 170.0,800.2 178.0,799.7 186.0,799.1 194.0,798.5 202.0,797.7 210.0,796.9 218.0,796.1 226.0,795.4 234.0,794.8 242.0,794.2 250.0,793.6 258.0,792.9 266.0,792.1 274.0,791.2 282.0,790.2 290.0,789.3 298.0,788.5 306.0,787.8 314.0,787.2 322.0,786.5 330.0,785.8 338.0,785.0 346.0,784.1 354.0,783.3 362.0,782.6 370.0,781.9 378.0,781.4 386.0,780.9 394.0,780.3 402.0,779.6 410.0,778.8 418.0,778.0 426.0,777.2 434.0,776.5 442.0,775.8 450.0,775.2 458.0,774.6 466.0,773.8 474.0,773.0 482.0,772.1 490.0,771.2 498.0,770.3 506.0,769.6 514.0,768.9 522.0,768.2 530.0,767.6 538.0,766.9 546.0,766.1 554.0,765.3 562.0,764.5 570.0,763.8 578.0,763.1 586.0,762.6 586.0,812.2 578.0,813.5 570.0,814.7 562.0,815.8 554.0,817.0 546.0,818.4 538.0,819.8 530.0,821.3 522.0,822.7 514.0,824.0 506.0,825.3 498.0,826.5 490.0,827.9 482.0,829.4 474.0,830.9 466.0,832.3 458.0,833.5 450.0,834.7 442.0,835.8 434.0,837.1 426.0,838.4 418.0,839.8 410.0,841.1 402.0,842.3 394.0,843.4 386.0,844.6 378.0,845.9 370.0,847.3 362.0,848.8 354.0,850.3 346.0,851.7 338.0,852.9 330.0,854.2 322.0,855.5 314.0,857.0 306.0,858.6 298.0,860.0 290.0,861.3 282.0,862.4 274.0,863.5 266.0,864.7 258.0,866.0 250.0,867.4 242.0,868.8 234.0,870.0 226.0,871.0 218.0,872.1 210.0,873.4 202.0,874.8 194.0,876.4 186.0,877.9 178.0,879.3 170.0,880.5 162.0,881.8 154.0,883.1 146.0,884.6 138.0,886.2 130.0,887.7 122.0,889.0 114.0,890.1 106.0,891.1 98.0,892.3 90.0,893.6 82.0,895.0 74.0,896.4 66.0,897.6 58.0,898.7" fill="#ffa800"/>
<polygon points="444.6,721.2 452.6,720.9 460.6,720.6 468.6,720.3 476.6,720.2 484.6,720.1 492.6,719.9 500.6,719.6 508.6,719.3 516.6,718.9 524.6,718.6 532.6,718.3 540.6,718.2 548.6,718.1 556.6,718.1 564.6,718.1 564.6,718.4 556.6,718.7 548.6,719.2 540.6,719.5 532.6,719.8 524.6,720.0 516.6,720.1 508.6,720.1 500.6,720.1 492.6,720.3 484.6,720.6 476.6,720.9 468.6,721.0 460.6,721.0 452.6,721.0 444.6,721.2" fill="#ffa800"/>
<polygon points="61.3,731.5 69.3,731.2 77.3,730.8 85.3,730.7 93.3,730.9 101.3,731.1 109.3,731.2 117.3,731.2 125.3,731.0 133.3,730.8 141.3,730.6 149.3,730.4 157.3,730.0 165.3,728.5 173.3,727.2 181.3,727.1 189.3,727.0 189.3,727.0 181.3,727.1 173.3,727.2 165.3,728.9 157.3,730.7 149.3,731.4 141.3,731.4 133.3,731.4 125.3,731.4 117.3,731.6 109.3,731.9 101.3,732.1 93.3,732.2 85.3,732.1 77.3,731.7 69.3,731.5 61.3,731.5" fill="#ffa800"/>
<polygon points="96.5,737.4 104.5,737.0 112.5,736.7 120.5,736.5 128.5,736.4 136.5,736.2 144.5,735.9 152.5,735.7 160.5,734.6 168.5,733.3 176.5,732.7 184.5,732.8 192.5,732.9 200.5,732.8 208.5,732.6 216.5,732.4 224.5,732.1 232.5,731.8 240.5,731.6 248.5,731.6 256.5,731.4 264.5,731.2 264.5,731.2 256.5,731.4 248.5,731.8 240.5,732.1 232.5,732.3 224.5,732.4 216.5,732.4 208.5,732.6 200.5,733.0 192.5,733.4 184.5,733.9 176.5,734.1 168.5,734.8 160.5,736.0 152.5,737.0 144.5,737.2 136.5,737.5 128.5,737.8 120.5,737.8 112.5,737.6 104.5,737.4 96.5,737.4" fill="#ffa800"/>
<polygon points="339.3,729.2 347.3,728.8 355.3,728.3 363.3,727.8 371.3,727.6 379.3,727.7 387.3,727.7 387.3,727.8 379.3,728.1 371.3,728.5 363.3,728.8 355.3,728.9 347.3,729.0 339.3,729.2" fill="#ffa800"/>
<polygon points="58.0,739.6 66.0,739.7 74.0,739.7 82.0,739.6 90.0,739.3 98.0,739.0 106.0,738.8 114.0,738.6 122.0,738.5 130.0,738.4 138.0,738.3 146.0,738.1 154.0,737.9 162.0,736.8 170.0,735.7 170.0,736.2 162.0,737.8 154.0,739.4 146.0,739.6 138.0,739.7 130.0,739.6 122.0,739.5 114.0,739.5 106.0,739.7 98.0,740.1 90.0,740.4 82.0,740.7 74.0,740.7 66.0,740.8 58.0,741.0" fill="#ffa800"/>
<polygon points="174.9,735.5 182.9,735.0 190.9,734.7 198.9,734.5 206.9,734.4 214.9,734.3 222.9,734.0 230.9,733.6 238.9,733.1 246.9,732.7 254.9,732.4 262.9,732.2 270.9,732.0 278.9,731.9 286.9,731.7 294.9,731.4 302.9,731.0 310.9,730.7 318.9,730.4 326.9,730.3 334.9,730.2 342.9,730.2 350.9,730.3 358.9,730.2 358.9,730.5 350.9,731.2 342.9,731.8 334.9,732.0 326.9,732.0 318.9,732.0 310.9,732.0 302.9,732.3 294.9,732.6 286.9,733.0 278.9,733.2 270.9,733.3 262.9,733.4 254.9,733.6 246.9,734.0 238.9,734.6 230.9,735.1 222.9,735.4 214.9,735.5 206.9,735.6 198.9,735.7 190.9,735.8 182.9,735.7 174.9,735.5" fill="#ffa800"/>
<polygon points="97.2,740.4 105.2,740.2 113.2,739.8 121.2,739.7 129.2,739.7 129.2,739.7 121.2,739.9 113.2,740.3 105.2,740.5 97.2,740.4" fill="#ffa800"/>
<polygon points="354.7,732.0 362.7,731.7 370.7,731.3 378.7,731.0 386.7,730.6 394.7,730.2 402.7,729.7 410.7,729.4 418.7,729.1 426.7,729.0 434.7,728.9 442.7,728.7 450.7,728.5 458.7,728.3 466.7,728.0 474.7,727.6 482.7,727.4 490.7,727.2 498.7,727.1 506.7,727.0 514.7,726.7 514.7,726.7 506.7,727.0 498.7,727.4 490.7,727.8 482.7,728.1 474.7,728.3 466.7,728.6 458.7,728.9 450.7,729.3 442.7,729.8 434.7,730.2 426.7,730.5 418.7,730.6 410.7,730.7 402.7,730.9 394.7,731.2 386.7,731.6 378.7,731.9 370.7,731.9 362.7,731.9 354.7,732.0" fill="#ffa800"/>
<polygon points="412.6,730.9 420.6,730.4 428.6,729.9 436.6,729.5 444.6,729.3 452.6,729.0 460.6,728.7 468.6,728.3 476.6,727.9 484.6,727.7 492.6,727.5 500.6,727.4 508.6,727.3 516.6,727.1 524.6,726.9 532.6,726.5 540.6,726.2 548.6,725.9 556.6,725.6 564.6,725.4 572.6,725.2 580.6,724.9 580.6,725.5 572.6,725.8 564.6,726.2 556.6,726.4 548.6,726.6 540.6,726.7 532.6,726.8 524.6,727.1 516.6,727.4 508.6,727.8 500.6,728.2 492.6,728.4 484.6,728.6 476.6,728.9 468.6,729.2 460.6,729.7 452.6,730.2 444.6,730.6 436.6,730.9 428.6,730.8 420.6,730.8 412.6,730.9" fill="#ffa800"/>
<polygon points="287.8,736.1 295.8,735.4 303.8,734.7 311.8,734.0 319.8,733.9 327.8,733.8 335.8,733.6 343.8,733.4 351.8,733.2 359.8,732.8 367.8,732.5 375.8,732.3 383.8,732.1 391.8,732.1 399.8,732.1 407.8,731.9 407.8,732.0 399.8,732.5 391.8,732.9 383.8,733.2 375.8,733.5 367.8,734.0 359.8,734.5 351.8,735.0 343.8,735.3 335.8,735.5 327.8,735.6 319.8,735.8 311.8,736.1 303.8,736.2 295.8,736.2 287.8,736.1" fill="#ffa800"/>
<polygon points="138.4,743.7 146.4,743.2 154.4,742.8 162.4,741.6 170.4,740.5 178.4,739.9 186.4,739.5 194.4,739.0 202.4,738.6 210.4,738.3 218.4,738.2 226.4,738.2 234.4,738.1 242.4,738.0 250.4,737.8 258.4,737.7 266.4,737.6 266.4,737.9 258.4,738.6 250.4,739.2 242.4,739.3 234.4,739.4 226.4,739.6 218.4,739.9 210.4,740.3 202.4,740.5 194.4,740.6 186.4,740.6 178.4,740.6 170.4,741.1 162.4,742.4 154.4,743.6 146.4,743.7 138.4,743.7" fill="#ffa800"/>
<polygon points="460.0,730.8 468.0,730.2 476.0,729.7 484.0,729.4 492.0,729.3 500.0,729.0 508.0,728.8 516.0,728.6 516.0,728.8 508.0,729.3 500.0,729.8 492.0,730.1 484.0,730.2 476.0,730.2 468.0,730.5 460.0,730.8" fill="#ffa800"/>
<polygon points="397.1,734.7 405.1,734.3 413.1,734.0 421.1,733.6 429.1,733.2 437.1,732.7 445.1,732.2 453.1,731.8 461.1,731.5 469.1,731.3 477.1,731.1 485.1,730.8 493.1,730.5 501.1,730.1 509.1,729.7 517.1,729.4 525.1,729.2 533.1,729.0 541.1,728.8 549.1,728.7 557.1,728.4 565.1,728.1 573.1,727.7 581.1,727.3 581.1,727.8 573.1,728.3 565.1,728.8 557.1,729.1 549.1,729.4 541.1,729.6 533.1,730.0 525.1,730.4 517.1,730.9 509.1,731.3 501.1,731.5 493.1,731.7 485.1,731.8 477.1,732.0 469.1,732.4 461.1,732.8 453.1,733.1 445.1,733.3 437.1,733.5 429.1,733.6 421.1,733.9 413.1,734.3 405.1,734.6 397.1,734.7" fill="#ffa800"/>
<polygon points="269.6,740.7 277.6,740.0 285.6,739.3 293.6,738.9 301.6,738.7 309.6,738.5 317.6,738.2 325.6,737.8 333.6,737.5 341.6,737.2 349.6,737.0 357.6,737.0 365.6,736.9 365.6,737.2 357.6,737.6 349.6,738.1 341.6,738.5 333.6,738.8 325.6,739.0 317.6,739.2 309.6,739.4 301.6,739.9 293.6,740.5 285.6,740.8 277.6,740.8 269.6,740.7" fill="#ffa800"/>
<polygon points="115.1,750.9 123.1,750.3 131.1,749.6 139.1,749.2 147.1,749.2 155.1,749.1 163.1,748.3 171.1,747.4 179.1,746.9 187.1,746.7 195.1,746.5 195.1,746.7 187.1,747.2 179.1,747.8 171.1,748.2 163.1,748.9 155.1,749.6 147.1,749.7 139.1,750.0 131.1,750.5 123.1,750.8 115.1,750.9" fill="#ffa800"/>
<polygon points="369.7,739.3 377.7,738.7 385.7,738.2 393.7,738.1 393.7,738.4 385.7,738.9 377.7,739.2 369.7,739.3" fill="#ffa800"/>
<polygon points="137.6,751.4 145.6,750.7 153.6,750.1 161.6,749.1 169.6,748.3 177.6,748.1 185.6,748.1 185.6,748.4 177.6,749.2 169.6,750.4 161.6,751.4 153.6,751.8 145.6,751.5 137.6,751.4" fill="#ffa800"/>
<polygon points="214.1,747.9 222.1,747.5 230.1,747.0 238.1,746.8 238.1,747.0 230.1,747.4 222.1,747.6 214.1,747.9" fill="#ffa800"/>
<polygon points="387.2,740.5 395.2,739.9 403.2,739.4 411.2,739.1 419.2,738.9 427.2,738.7 435.2,738.3 435.2,738.4 427.2,738.8 419.2,739.4 411.2,740.0 403.2,740.2 395.2,740.3 387.2,740.5" fill="#ffa800"/>
<polygon points="409.6,740.3 417.6,739.6 425.6,739.0 433.6,738.4 441.6,738.0 449.6,737.6 457.6,737.2 465.6,737.0 473.6,736.8 481.6,736.6 489.6,736.4 497.6,736.0 505.6,735.7 513.6,735.4 513.6,735.7 505.6,736.3 497.6,737.0 489.6,737.4 481.6,737.7 473.6,737.8 465.6,738.0 457.6,738.3 449.6,738.8 441.6,739.3 433.6,739.8 425.6,740.0 417.6,740.1 409.6,740.3" fill="#ffa800"/>
<polygon points="143.7,757.9 151.7,757.5 159.7,756.9 167.7,756.1 175.7,755.5 183.7,755.2 183.7,755.4 175.7,755.8 167.7,756.4 159.7,757.2 151.7,757.6 143.7,757.9" fill="#ffff00"/>
<polygon points="187.3,755.2 195.3,754.7 203.3,754.2 211.3,753.9 219.3,753.6 227.3,753.2 235.3,752.6 243.3,752.0 251.3,751.4 259.3,750.9 267.3,750.5 275.3,750.1 283.3,749.8 291.3,749.5 299.3,749.3 307.3,749.1 307.3,749.3 299.3,749.8 291.3,750.4 283.3,750.9 275.3,751.3 267.3,751.6 259.3,751.9 251.3,752.5 243.3,753.1 235.3,753.8 227.3,754.3 219.3,754.7 211.3,754.9 203.3,755.0 195.3,755.1 187.3,755.2" fill="#ffff00"/>
<polygon points="492.5,741.3 500.5,740.5 508.5,739.8 516.5,739.3 524.5,739.0 532.5,738.6 540.5,738.2 548.5,737.7 556.5,737.3 564.5,736.9 572.5,736.8 580.5,736.6 580.5,736.7 572.5,737.3 564.5,737.8 556.5,738.1 548.5,738.5 540.5,738.9 532.5,739.5 524.5,740.1 516.5,740.6 508.5,740.8 500.5,741.0 492.5,741.3" fill="#ffff00"/>
<polygon points="367.0,750.0 375.0,749.3 383.0,748.6 391.0,748.0 399.0,747.7 407.0,747.4 415.0,747.1 423.0,746.8 431.0,746.4 439.0,745.9 447.0,745.3 455.0,744.7 463.0,744.2 471.0,743.8 479.0,743.4 487.0,743.0 495.0,742.6 503.0,742.0 511.0,741.5 519.0,740.9 527.0,740.4 535.0,740.3 543.0,740.2 543.0,740.4 535.0,741.2 527.0,742.0 519.0,742.4 511.0,742.7 503.0,743.0 495.0,743.3 487.0,743.7 479.0,744.2 471.0,744.7 463.0,745.1 455.0,745.5 447.0,745.8 439.0,746.1 431.0,746.7 423.0,747.3 415.0,748.0 407.0,748.5 399.0,748.9 391.0,749.3 383.0,749.5 375.0,749.8 367.0,750.0" fill="#ffff00"/>
<polygon points="555.7,740.6 563.7,740.1 571.7,739.5 579.7,738.9 587.7,738.3 587.7,739.5 579.7,739.9 571.7,740.3 563.7,740.5 555.7,740.6" fill="#ffff00"/>
<polygon points="191.7,763.2 199.7,762.6 207.7,762.0 215.7,761.1 223.7,760.4 231.7,759.8 239.7,759.4 247.7,759.0 255.7,758.7 263.7,758.3 271.7,757.9 279.7,757.3 287.7,756.8 295.7,756.3 303.7,755.9 311.7,755.6 319.7,755.4 327.7,755.1 335.7,754.7 343.7,754.3 351.7,753.9 351.7,754.0 343.7,754.7 335.7,755.6 327.7,756.3 319.7,756.7 311.7,757.0 303.7,757.4 295.7,757.8 287.7,758.4 279.7,758.9 271.7,759.4 263.7,759.6 255.7,759.8 247.7,760.1 239.7,760.5 231.7,761.2 223.7,761.8 215.7,762.4 207.7,762.7 199.7,762.9 191.7,763.2" fill="#ffa800"/>
<polygon points="58.0,771.3 66.0,771.2 74.0,770.9 74.0,770.9 66.0,771.5 58.0,772.1" fill="#ffa800"/>
<polygon points="58.0,772.1 66.0,771.8 74.0,771.5 82.0,771.1 90.0,770.5 98.0,770.0 106.0,769.5 114.0,769.1 122.0,768.8 130.0,768.5 138.0,768.0 146.0,767.5 146.0,767.6 138.0,768.1 130.0,768.5 122.0,768.8 114.0,769.3 106.0,770.0 98.0,770.6 90.0,771.1 82.0,771.4 74.0,771.8 66.0,772.2 58.0,772.9" fill="#ffa800"/>
<polygon points="66.6,773.9 74.6,773.0 82.6,772.2 90.6,771.6 98.6,771.1 106.6,770.6 114.6,769.9 122.6,769.4 130.6,769.0 138.6,768.6 146.6,768.2 154.6,767.8 162.6,767.2 170.6,766.5 178.6,765.8 186.6,765.1 194.6,764.5 202.6,764.1 210.6,763.7 218.6,763.3 226.6,762.9 234.6,762.6 242.6,762.5 250.6,762.5 250.6,762.8 242.6,763.7 234.6,764.6 226.6,765.4 218.6,766.1 210.6,766.7 202.6,767.2 194.6,767.5 186.6,767.7 178.6,768.0 170.6,768.4 162.6,769.0 154.6,769.6 146.6,770.1 138.6,770.4 130.6,770.7 122.6,771.1 114.6,771.7 106.6,772.5 98.6,773.2 90.6,773.9 82.6,774.0 74.6,773.9 66.6,773.9" fill="#ffa800"/>
<polygon points="58.0,775.2 66.0,774.5 74.0,773.7 82.0,773.1 90.0,772.6 98.0,772.1 106.0,771.7 114.0,771.3 122.0,770.7 130.0,770.1 138.0,769.4 146.0,769.0 154.0,769.0 162.0,768.9 162.0,769.1 154.0,769.7 146.0,770.5 138.0,771.4 130.0,772.2 122.0,772.8 114.0,773.1 106.0,773.4 98.0,773.7 90.0,774.2 82.0,774.8 74.0,775.3 66.0,775.8 58.0,776.1" fill="#ffa800"/>
<polygon points="58.0,784.8 66.0,784.6 74.0,784.2 82.0,783.7 90.0,783.1 98.0,782.5 106.0,782.1 114.0,781.7 114.0,781.7 106.0,782.4 98.0,783.1 90.0,783.8 82.0,784.3 74.0,784.8 66.0,785.3 58.0,786.0" fill="#ffa800"/>
<polygon points="493.7,756.1 501.7,755.4 509.7,754.7 517.7,754.0 525.7,753.3 533.7,752.8 541.7,752.3 549.7,751.8 557.7,751.4 565.7,751.0 573.7,750.4 581.7,749.8 581.7,750.2 573.7,751.0 565.7,751.6 557.7,752.2 549.7,752.7 541.7,753.1 533.7,753.6 525.7,754.3 517.7,754.9 509.7,755.4 501.7,755.7 493.7,756.1" fill="#ffa800"/>
<polygon points="58.0,788.0 66.0,787.6 74.0,787.1 82.0,786.4 90.0,785.6 98.0,784.8 106.0,783.9 114.0,783.2 122.0,782.7 130.0,782.2 138.0,781.7 146.0,781.4 154.0,781.0 162.0,780.7 162.0,780.8 154.0,781.5 146.0,782.3 138.0,783.1 130.0,783.7 122.0,784.2 114.0,784.5 106.0,784.9 98.0,785.4 90.0,786.2 82.0,787.1 74.0,787.9 66.0,788.6 58.0,789.1" fill="#ffa800"/>
<polygon points="208.9,777.7 216.9,776.7 224.9,775.9 232.9,775.1 240.9,774.5 248.9,773.8 256.9,773.2 264.9,772.7 272.9,772.3 280.9,771.9 288.9,771.5 296.9,771.0 304.9,770.4 312.9,769.6 320.9,768.9 328.9,768.5 336.9,768.1 336.9,768.4 328.9,769.2 320.9,770.1 312.9,770.7 304.9,771.2 296.9,771.7 288.9,772.1 280.9,772.8 272.9,773.6 264.9,774.5 256.9,775.2 248.9,775.8 240.9,776.3 232.9,776.8 224.9,777.2 216.9,777.5 208.9,777.7" fill="#ffa800"/>
<polygon points="459.6,761.6 467.6,760.8 475.6,759.8 483.6,758.9 491.6,758.2 499.6,757.6 507.6,757.2 515.6,756.7 523.6,756.3 531.6,755.7 539.6,755.1 547.6,754.5 555.6,753.8 563.6,753.2 571.6,752.7 579.6,752.2 587.6,751.7 587.6,752.4 579.6,753.1 571.6,753.8 563.6,754.3 555.6,754.8 547.6,755.2 539.6,755.7 531.6,756.4 523.6,757.1 515.6,757.9 507.6,758.6 499.6,759.2 491.6,759.7 483.6,760.3 475.6,760.8 467.6,761.3 459.6,761.6" fill="#ffa800"/>
<polygon points="58.0,793.0 66.0,792.3 74.0,791.5 82.0,790.6 90.0,790.0 98.0,789.7 106.0,789.5 106.0,789.5 98.0,790.2 90.0,791.0 82.0,791.8 74.0,792.5 66.0,793.2 58.0,793.7" fill="#ffa800"/>
<polygon points="242.2,779.1 250.2,778.3 258.2,777.5 266.2,776.9 274.2,776.4 282.2,776.0 282.2,776.1 274.2,777.0 266.2,778.1 258.2,778.7 250.2,778.8 242.2,779.1" fill="#ffa800"/>
<polygon points="329.9,773.1 337.9,772.3 345.9,771.5 353.9,770.7 361.9,770.0 369.9,769.3 377.9,768.5 385.9,767.8 393.9,767.2 401.9,766.7 409.9,766.4 417.9,766.1 425.9,765.7 425.9,765.7 417.9,766.6 409.9,767.4 401.9,768.1 393.9,768.7 385.9,769.5 377.9,770.3 369.9,771.1 361.9,771.7 353.9,772.2 345.9,772.4 337.9,772.7 329.9,773.1" fill="#ffa800"/>
<polygon points="427.6,765.7 435.6,764.9 443.6,764.0 451.6,763.1 459.6,762.3 467.6,761.6 475.6,760.9 483.6,760.4 491.6,759.9 499.6,759.7 507.6,759.3 507.6,759.7 499.6,760.5 491.6,761.2 483.6,761.7 475.6,762.3 467.6,763.0 459.6,763.8 451.6,764.6 443.6,765.1 435.6,765.4 427.6,765.7" fill="#ffa800"/>
<polygon points="58.0,794.9 66.0,794.3 74.0,793.5 82.0,792.9 90.0,792.3 98.0,791.8 106.0,791.4 114.0,791.0 122.0,790.5 130.0,789.9 138.0,789.1 146.0,788.3 154.0,787.5 162.0,786.8 170.0,786.1 178.0,785.6 186.0,785.0 194.0,784.4 202.0,783.8 210.0,783.3 218.0,783.0 218.0,783.1 210.0,783.9 202.0,784.8 194.0,785.4 186.0,786.0 178.0,786.6 170.0,787.5 162.0,788.4 154.0,789.3 146.0,790.0 138.0,790.4 130.0,790.9 122.0,791.4 114.0,792.1 106.0,792.8 98.0,793.5 90.0,794.0 82.0,794.4 74.0,794.7 66.0,795.2 58.0,795.9" fill="#ffa800"/>
<polygon points="218.8,783.0 226.8,782.2 234.8,781.3 242.8,780.2 250.8,779.4 258.8,778.7 266.8,778.1 274.8,777.7 282.8,777.2 290.8,776.9 298.8,776.6 298.8,776.8 290.8,777.6 282.8,778.5 274.8,779.3 266.8,779.9 258.8,780.5 250.8,781.1 242.8,781.8 234.8,782.4 226.8,782.8 218.8,783.0" fill="#ffa800"/>
<polygon points="336.4,773.7 344.4,773.0 352.4,772.3 360.4,771.6 368.4,770.9 376.4,770.1 384.4,769.3 392.4,768.5 400.4,767.8 408.4,767.2 416.4,766.7 424.4,766.2 432.4,765.6 440.4,765.0 448.4,764.3 456.4,763.6 464.4,763.0 472.4,762.4 480.4,762.0 488.4,761.5 496.4,761.0 504.4,760.4 512.4,759.8 520.4,759.1 528.4,758.6 528.4,758.6 520.4,759.4 512.4,760.1 504.4,760.9 496.4,761.6 488.4,762.2 480.4,762.6 472.4,763.1 464.4,763.6 456.4,764.3 448.4,765.1 440.4,765.9 432.4,766.6 424.4,767.3 416.4,767.8 408.4,768.4 400.4,769.1 392.4,770.0 384.4,770.8 376.4,771.5 368.4,772.0 360.4,772.4 352.4,772.8 344.4,773.2 336.4,773.7" fill="#ffa800"/>
<polygon points="453.7,765.9 461.7,765.2 469.7,764.7 477.7,764.1 485.7,763.4 493.7,762.7 501.7,762.0 501.7,762.1 493.7,763.0 485.7,763.9 477.7,764.6 469.7,765.0 461.7,765.4 453.7,765.9" fill="#ffa800"/>
<polygon points="374.6,773.0 382.6,772.2 390.6,771.3 398.6,770.6 406.6,770.0 414.6,769.4 422.6,768.7 430.6,767.9 438.6,767.1 446.6,766.3 454.6,765.7 462.6,765.1 470.6,764.8 478.6,764.5 478.6,764.7 470.6,765.4 462.6,766.1 454.6,766.8 446.6,767.6 438.6,768.2 430.6,768.7 422.6,769.2 414.6,769.8 406.6,770.6 398.6,771.5 390.6,772.2 382.6,772.6 374.6,773.0" fill="#ffa800"/>
<polygon points="61.6,800.2 69.6,799.2 77.6,798.0 85.6,797.0 93.6,796.3 101.6,795.7 109.6,795.2 117.6,794.8 125.6,794.4 133.6,793.9 141.6,793.2 149.6,792.4 157.6,791.6 165.6,790.9 173.6,790.2 181.6,789.6 189.6,789.1 197.6,788.7 205.6,788.2 205.6,788.4 197.6,789.4 189.6,790.3 181.6,791.1 173.6,792.1 165.6,793.0 157.6,793.7 149.6,794.3 141.6,794.7 133.6,795.1 125.6,795.7 117.6,796.5 109.6,797.2 101.6,797.9 93.6,798.3 85.6,798.7 77.6,799.1 69.6,799.7 61.6,800.2" fill="#ffa800"/>
<polygon points="209.3,789.3 217.3,788.4 225.3,787.6 233.3,786.9 241.3,786.3 249.3,785.7 257.3,784.9 265.3,784.0 273.3,783.1 281.3,782.3 289.3,781.6 297.3,780.9 305.3,780.4 313.3,779.8 321.3,779.1 329.3,778.4 337.3,777.6 345.3,776.9 353.3,776.2 361.3,775.7 369.3,775.2 377.3,774.7 385.3,774.3 393.3,773.7 401.3,773.2 401.3,773.2 393.3,774.1 385.3,774.8 377.3,775.4 369.3,776.1 361.3,776.9 353.3,777.7 345.3,778.4 337.3,779.1 329.3,779.6 321.3,780.3 313.3,781.1 305.3,782.0 297.3,783.0 289.3,783.7 281.3,784.3 273.3,784.8 265.3,785.4 257.3,786.1 249.3,786.8 241.3,787.6 233.3,788.2 225.3,788.5 217.3,788.8 209.3,789.3" fill="#ffa800"/>
<polygon points="103.3,799.9 111.3,798.8 119.3,797.6 127.3,796.4 135.3,795.7 143.3,795.1 151.3,794.6 159.3,794.2 167.3,793.7 175.3,793.1 183.3,792.4 191.3,791.6 199.3,790.9 207.3,790.2 215.3,789.7 223.3,789.2 231.3,788.6 239.3,788.0 247.3,787.2 255.3,786.3 263.3,785.4 271.3,784.7 279.3,784.3 287.3,784.0 287.3,784.3 279.3,785.4 271.3,786.3 263.3,787.1 255.3,787.9 247.3,788.8 239.3,789.6 231.3,790.3 223.3,790.8 215.3,791.2 207.3,791.7 199.3,792.3 191.3,793.1 183.3,793.9 175.3,794.5 167.3,795.1 159.3,795.5 151.3,796.1 143.3,796.9 135.3,797.9 127.3,798.9 119.3,799.4 111.3,799.6 103.3,799.9" fill="#ffa800"/>
<polygon points="222.6,790.6 230.6,789.9 238.6,789.3 246.6,788.6 254.6,787.7 262.6,786.9 270.6,786.0 278.6,785.2 286.6,784.6 294.6,784.0 302.6,783.4 310.6,782.9 310.6,783.0 302.6,783.9 294.6,784.9 286.6,785.6 278.6,786.2 270.6,786.8 262.6,787.6 254.6,788.5 246.6,789.4 238.6,789.9 230.6,790.2 222.6,790.6" fill="#ffa800"/>
<polygon points="317.5,782.5 325.5,781.7 333.5,780.9 341.5,779.9 349.5,779.0 357.5,778.4 365.5,778.0 373.5,777.6 373.5,777.7 365.5,778.5 357.5,779.4 349.5,780.1 341.5,780.7 333.5,781.4 325.5,782.0 317.5,782.5" fill="#ffa800"/>
<polygon points="58.0,805.4 66.0,804.9 74.0,804.3 82.0,803.5 90.0,802.7 98.0,801.9 106.0,801.2 114.0,800.6 122.0,800.0 130.0,799.4 138.0,798.7 146.0,797.9 154.0,797.2 162.0,796.6 162.0,797.3 154.0,798.4 146.0,799.6 138.0,800.1 130.0,800.6 122.0,801.0 114.0,801.5 106.0,802.2 98.0,803.1 90.0,803.9 82.0,804.6 74.0,805.1 66.0,805.7 58.0,806.4" fill="#ffa800"/>
<polygon points="354.8,780.0 362.8,779.0 370.8,777.9 378.8,777.1 386.8,776.5 394.8,775.9 402.8,775.3 410.8,774.6 418.8,773.8 426.8,773.0 434.8,772.3 442.8,771.7 450.8,771.2 458.8,770.7 466.8,770.1 474.8,769.5 482.8,768.8 490.8,767.9 498.8,767.1 506.8,766.4 514.8,765.9 522.8,765.3 522.8,765.4 514.8,766.2 506.8,767.0 498.8,767.9 490.8,768.8 482.8,769.6 474.8,770.3 466.8,770.8 458.8,771.4 450.8,772.0 442.8,772.7 434.8,773.5 426.8,774.2 418.8,774.8 410.8,775.3 402.8,775.8 394.8,776.5 386.8,777.3 378.8,778.2 370.8,778.9 362.8,779.4 354.8,780.0" fill="#ffa800"/>
<polygon points="58.0,805.9 66.0,805.2 74.0,804.6 82.0,804.0 90.0,803.3 98.0,802.5 106.0,801.9 114.0,801.5 122.0,801.2 122.0,801.3 114.0,802.3 106.0,803.2 98.0,803.9 90.0,804.6 82.0,805.4 74.0,806.4 66.0,807.4 58.0,808.2" fill="#ffa800"/>
<polygon points="510.9,767.1 518.9,766.2 526.9,765.5 534.9,764.8 542.9,764.2 550.9,763.5 558.9,762.7 566.9,761.9 574.9,761.1 582.9,760.3 582.9,760.8 574.9,761.6 566.9,762.4 558.9,763.2 550.9,764.0 542.9,764.6 534.9,765.3 526.9,765.9 518.9,766.6 510.9,767.1" fill="#ffa800"/>
<polygon points="65.3,807.1 73.3,806.4 81.3,805.6 89.3,804.7 97.3,804.0 105.3,803.4 113.3,802.8 113.3,802.9 105.3,803.6 97.3,804.4 89.3,805.3 81.3,805.9 73.3,806.5 65.3,807.1" fill="#ffa800"/>
<polygon points="402.6,777.3 410.6,776.4 418.6,775.5 426.6,774.7 434.6,774.0 442.6,773.2 450.6,772.5 458.6,771.8 466.6,771.3 474.6,770.7 482.6,770.2 490.6,769.5 498.6,768.8 506.6,768.0 514.6,767.1 522.6,766.3 530.6,765.6 538.6,764.9 546.6,764.3 554.6,763.6 562.6,762.8 570.6,762.0 578.6,761.1 586.6,760.3 586.6,761.1 578.6,761.8 570.6,762.5 562.6,763.3 554.6,764.2 546.6,765.1 538.6,765.9 530.6,766.5 522.6,767.1 514.6,767.8 506.6,768.5 498.6,769.3 490.6,770.1 482.6,770.7 474.6,771.3 466.6,771.8 458.6,772.3 450.6,773.0 442.6,773.9 434.6,774.7 426.6,775.5 418.6,776.1 410.6,776.6 402.6,777.3" fill="#ffa800"/>
<polygon points="58.0,808.6 66.0,808.1 74.0,807.4 82.0,806.5 90.0,805.6 98.0,804.7 106.0,803.9 114.0,803.2 122.0,802.6 130.0,801.9 138.0,801.2 146.0,800.3 154.0,799.4 162.0,798.5 170.0,798.2 178.0,798.0 178.0,798.5 170.0,799.6 162.0,800.6 154.0,801.5 146.0,802.3 138.0,803.1 130.0,803.7 122.0,804.1 114.0,804.5 106.0,805.1 98.0,805.9 90.0,806.8 82.0,807.6 74.0,808.3 66.0,808.9 58.0,809.5" fill="#ffa800"/>
<polygon points="380.4,780.1 388.4,779.2 396.4,778.2 404.4,777.4 412.4,776.8 420.4,776.3 428.4,775.7 436.4,775.1 436.4,775.1 428.4,776.0 420.4,777.1 412.4,778.2 404.4,779.0 396.4,779.4 388.4,779.7 380.4,780.1" fill="#ffa800"/>
<polygon points="58.0,809.5 66.0,808.8 74.0,808.1 82.0,807.6 90.0,807.1 98.0,806.5 98.0,806.6 90.0,807.4 82.0,808.4 74.0,809.5 66.0,810.5 58.0,811.3" fill="#ffa800"/>
<polygon points="294.6,789.1 302.6,788.0 310.6,787.0 318.6,786.1 326.6,785.3 334.6,784.5 342.6,783.6 350.6,782.8 358.6,782.1 366.6,781.5 374.6,781.0 382.6,780.4 390.6,779.8 398.6,779.1 406.6,778.3 414.6,777.8 422.6,777.2 422.6,777.7 414.6,778.8 406.6,779.8 398.6,780.3 390.6,780.8 382.6,781.4 374.6,782.1 366.6,783.0 358.6,783.9 350.6,784.6 342.6,785.3 334.6,785.9 326.6,786.7 318.6,787.6 310.6,788.3 302.6,788.8 294.6,789.1" fill="#ffa800"/>
<polygon points="222.3,797.7 230.3,797.0 238.3,796.1 246.3,795.2 254.3,794.4 262.3,793.6 270.3,793.0 278.3,792.3 286.3,791.7 294.3,791.0 294.3,791.1 286.3,791.9 278.3,792.5 270.3,793.2 262.3,794.0 254.3,795.0 246.3,796.1 238.3,796.8 230.3,797.2 222.3,797.7" fill="#ffff00"/>
<polygon points="428.0,778.8 436.0,777.8 444.0,776.8 452.0,775.9 460.0,775.2 468.0,774.5 476.0,773.7 484.0,772.9 492.0,772.0 500.0,771.2 508.0,770.4 516.0,769.7 524.0,769.2 532.0,768.6 540.0,768.0 548.0,767.3 556.0,766.5 564.0,765.7 572.0,764.9 580.0,764.2 588.0,763.5 588.0,764.1 580.0,764.9 572.0,765.8 564.0,766.5 556.0,767.2 548.0,767.9 540.0,768.6 532.0,769.5 524.0,770.4 516.0,771.4 508.0,772.2 500.0,772.9 492.0,773.5 484.0,774.2 476.0,775.0 468.0,775.9 460.0,776.7 452.0,777.4 444.0,777.8 436.0,778.2 428.0,778.8" fill="#ffff00"/>
<polygon points="293.9,792.2 301.9,791.4 309.9,790.6 317.9,789.6 325.9,788.8 333.9,788.0 341.9,787.3 349.9,786.6 357.9,785.9 365.9,785.1 373.9,784.2 381.9,783.3 389.9,782.5 397.9,782.0 405.9,781.6 405.9,781.7 397.9,782.7 389.9,783.8 381.9,784.9 373.9,785.6 365.9,786.3 357.9,786.8 349.9,787.4 341.9,788.0 333.9,788.9 325.9,789.7 317.9,790.5 309.9,791.0 301.9,791.5 293.9,792.2" fill="#ffff00"/>
<polygon points="322.9,791.5 330.9,790.5 338.9,789.6 346.9,788.9 354.9,788.2 362.9,787.4 370.9,786.5 378.9,785.6 386.9,784.7 394.9,784.1 402.9,783.6 402.9,784.0 394.9,785.2 386.9,786.3 378.9,787.0 370.9,787.7 362.9,788.4 354.9,789.3 346.9,790.2 338.9,790.8 330.9,791.1 322.9,791.5" fill="#ffff00"/>
<polygon points="58.0,817.0 66.0,816.5 74.0,815.9 82.0,815.2 90.0,814.4 98.0,813.5 106.0,812.7 114.0,812.0 122.0,811.4 130.0,810.8 138.0,810.2 146.0,809.4 154.0,808.5 162.0,807.6 170.0,806.8 178.0,806.3 178.0,806.8 170.0,808.0 162.0,809.3 154.0,810.1 146.0,810.7 138.0,811.2 130.0,811.7 122.0,812.4 114.0,813.2 106.0,814.2 98.0,815.1 90.0,815.9 82.0,816.6 74.0,817.3 66.0,818.1 58.0,819.1" fill="#ffff00"/>
<polygon points="373.0,788.4 381.0,787.6 389.0,786.9 397.0,786.1 405.0,785.3 405.0,785.3 397.0,786.1 389.0,786.8 381.0,787.5 373.0,788.4" fill="#ffff00"/>
<polygon points="563.8,770.3 571.8,769.3 579.8,768.3 587.8,767.2 587.8,768.3 579.8,768.9 571.8,769.6 563.8,770.3" fill="#ffff00"/>
<polygon points="90.3,822.1 98.3,821.1 106.3,820.1 114.3,819.2 122.3,818.3 130.3,817.4 138.3,816.6 146.3,815.8 154.3,815.1 162.3,814.4 170.3,813.7 178.3,812.9 186.3,811.9 194.3,810.9 202.3,810.2 210.3,809.6 210.3,809.7 202.3,810.7 194.3,811.5 186.3,812.2 178.3,813.2 170.3,814.2 162.3,815.2 154.3,816.1 146.3,816.9 138.3,817.6 130.3,818.5 122.3,819.5 114.3,820.6 106.3,821.3 98.3,821.7 90.3,822.1" fill="#ffff00"/>
<polygon points="545.6,776.2 553.6,775.2 561.6,774.1 569.6,773.0 577.6,772.1 585.6,771.3 585.6,772.2 577.6,772.9 569.6,773.7 561.6,774.5 553.6,775.4 545.6,776.2" fill="#ffff00"/>
<polygon points="364.0,796.3 372.0,795.1 380.0,793.9 388.0,792.9 396.0,792.1 404.0,791.5 412.0,790.8 420.0,790.1 428.0,789.3 436.0,788.4 444.0,787.5 452.0,786.6 460.0,785.7 468.0,785.0 476.0,784.2 484.0,783.4 492.0,782.5 500.0,781.6 508.0,780.6 516.0,779.5 524.0,778.6 532.0,777.9 540.0,777.3 548.0,776.7 548.0,776.8 540.0,777.9 532.0,779.1 524.0,780.1 516.0,780.8 508.0,781.5 500.0,782.3 492.0,783.1 484.0,784.1 476.0,784.9 468.0,785.7 460.0,786.4 452.0,787.0 444.0,787.8 436.0,788.7 428.0,789.7 420.0,790.8 412.0,791.7 404.0,792.5 396.0,793.2 388.0,794.1 380.0,795.0 372.0,795.7 364.0,796.3" fill="#ffff00"/>
<polygon points="326.8,801.1 334.8,800.1 342.8,799.1 350.8,798.0 358.8,797.2 366.8,796.4 374.8,795.6 382.8,794.7 390.8,793.7 398.8,792.8 406.8,791.8 414.8,791.0 422.8,790.2 430.8,789.6 438.8,788.9 446.8,788.2 454.8,787.3 462.8,786.4 470.8,785.5 478.8,784.6 486.8,783.8 494.8,783.0 502.8,782.3 510.8,781.5 518.8,780.6 518.8,780.6 510.8,781.4 502.8,782.3 494.8,783.3 486.8,784.3 478.8,785.2 470.8,786.0 462.8,786.8 454.8,787.7 446.8,788.6 438.8,789.7 430.8,790.7 422.8,791.6 414.8,792.4 406.8,793.1 398.8,793.8 390.8,794.6 382.8,795.6 374.8,796.5 366.8,797.3 358.8,798.0 350.8,798.6 342.8,799.4 334.8,800.3 326.8,801.1" fill="#ffff00"/>
<polygon points="156.5,824.2 164.5,822.7 172.5,822.2 172.5,822.6 164.5,823.6 156.5,824.2" fill="#ffff00"/>
<polygon points="361.9,801.2 369.9,800.1 377.9,798.9 385.9,797.8 393.9,796.9 401.9,796.1 409.9,795.4 417.9,794.6 425.9,793.8 433.9,792.9 441.9,791.9 449.9,791.0 457.9,790.2 465.9,789.6 465.9,789.6 457.9,790.7 449.9,791.7 441.9,792.6 433.9,793.5 425.9,794.5 417.9,795.6 409.9,796.7 401.9,797.7 393.9,798.6 385.9,799.4 377.9,800.0 369.9,800.6 361.9,801.2" fill="#ffff00"/>
<polygon points="58.0,835.7 66.0,835.2 66.0,835.7 58.0,836.9" fill="#ffff00"/>
<polygon points="58.0,837.6 66.0,837.0 74.0,836.3 82.0,835.5 90.0,834.6 98.0,833.6 106.0,832.6 114.0,831.6 122.0,830.8 130.0,830.0 138.0,829.2 146.0,828.4 154.0,827.4 162.0,826.5 170.0,825.7 170.0,826.0 162.0,827.2 154.0,828.5 146.0,829.4 138.0,830.1 130.0,830.8 122.0,831.5 114.0,832.4 106.0,833.6 98.0,834.7 90.0,835.8 82.0,836.7 74.0,837.5 66.0,838.4 58.0,839.4" fill="#ffff00"/>
<polygon points="402.5,799.2 410.5,798.1 418.5,797.1 426.5,796.0 434.5,795.1 442.5,794.1 450.5,793.2 458.5,792.4 466.5,791.6 474.5,790.9 482.5,790.0 490.5,789.1 498.5,788.1 506.5,787.0 514.5,786.0 522.5,785.0 530.5,784.1 538.5,783.2 546.5,782.3 554.5,781.4 562.5,780.4 570.5,779.4 578.5,778.4 586.5,777.4 586.5,778.5 578.5,779.3 570.5,780.2 562.5,781.1 554.5,782.2 546.5,783.3 538.5,784.4 530.5,785.3 522.5,786.2 514.5,787.0 506.5,787.8 498.5,788.8 490.5,789.8 482.5,790.8 474.5,791.6 466.5,792.3 458.5,793.0 450.5,793.8 442.5,794.8 434.5,795.8 426.5,796.8 418.5,797.7 410.5,798.4 402.5,799.2" fill="#ffff00"/>
<polygon points="58.0,839.3 66.0,838.5 74.0,837.5 82.0,836.5 90.0,835.3 98.0,834.1 106.0,833.0 114.0,832.0 122.0,831.2 130.0,830.4 138.0,829.6 146.0,828.7 154.0,827.9 162.0,827.3 162.0,827.8 154.0,828.9 146.0,830.0 138.0,831.0 130.0,832.0 122.0,832.8 114.0,833.5 106.0,834.1 98.0,834.9 90.0,836.0 82.0,837.2 74.0,838.3 66.0,839.3 58.0,840.2" fill="#ffff00"/>
<polygon points="85.1,839.4 93.1,837.9 101.1,836.6 109.1,835.6 117.1,834.8 125.1,833.9 133.1,832.9 141.1,831.8 149.1,830.8 157.1,829.9 165.1,829.1 173.1,828.3 181.1,827.4 189.1,826.4 197.1,825.3 205.1,824.1 213.1,823.0 221.1,821.9 229.1,821.2 237.1,820.8 245.1,820.4 245.1,820.7 237.1,821.9 229.1,823.2 221.1,824.3 213.1,825.3 205.1,826.1 197.1,826.9 189.1,827.7 181.1,828.7 173.1,829.9 165.1,831.2 157.1,832.3 149.1,833.2 141.1,834.1 133.1,835.0 125.1,836.0 117.1,837.1 109.1,838.2 101.1,838.8 93.1,839.0 85.1,839.4" fill="#ffff00"/>
<polygon points="279.9,818.5 287.9,817.4 295.9,816.2 303.9,815.0 311.9,814.1 319.9,813.2 327.9,812.4 335.9,811.7 343.9,810.9 351.9,810.0 359.9,809.0 367.9,807.9 375.9,806.8 383.9,805.7 391.9,804.8 399.9,803.8 407.9,802.9 415.9,802.0 423.9,801.0 431.9,799.9 439.9,798.8 447.9,797.7 455.9,796.7 463.9,796.0 471.9,795.4 471.9,795.6 463.9,796.6 455.9,797.7 447.9,798.7 439.9,799.6 431.9,800.5 423.9,801.3 415.9,802.2 407.9,803.3 399.9,804.5 391.9,805.7 383.9,806.7 375.9,807.7 367.9,808.5 359.9,809.4 351.9,810.5 343.9,811.6 335.9,812.7 327.9,813.6 319.9,814.3 311.9,815.0 303.9,815.8 295.9,816.7 287.9,817.7 279.9,818.5" fill="#ffff00"/>
<polygon points="66.0,845.6 74.0,844.2 82.0,843.0 90.0,842.4 90.0,843.0 82.0,844.3 74.0,844.9 66.0,845.6" fill="#ffff00"/>
<polygon points="281.9,819.2 289.9,818.1 297.9,817.2 305.9,816.2 313.9,815.3 313.9,815.4 305.9,816.4 297.9,817.3 289.9,818.3 281.9,819.2" fill="#ffff00"/>
<polygon points="319.8,814.8 327.8,813.4 335.8,812.1 343.8,811.0 351.8,810.2 359.8,809.3 367.8,808.4 375.8,807.4 383.8,806.4 391.8,805.4 399.8,804.5 407.8,803.7 415.8,802.9 423.8,802.1 431.8,801.2 439.8,800.1 447.8,799.0 455.8,797.9 463.8,796.8 471.8,795.8 479.8,794.9 487.8,794.0 495.8,793.3 503.8,792.5 503.8,792.7 495.8,793.7 487.8,794.7 479.8,795.8 471.8,796.9 463.8,797.9 455.8,798.8 447.8,799.7 439.8,800.6 431.8,801.6 423.8,802.8 415.8,804.0 407.8,805.1 399.8,806.1 391.8,806.9 383.8,807.8 375.8,808.8 367.8,809.8 359.8,810.9 351.8,811.9 343.8,812.7 335.8,813.3 327.8,814.0 319.8,814.8" fill="#ffff00"/>
<polygon points="344.5,812.8 352.5,811.5 360.5,810.5 368.5,809.8 368.5,809.9 360.5,811.0 352.5,812.0 344.5,812.8" fill="#ffff00"/>
<polygon points="391.8,810.0 399.8,808.8 407.8,807.6 415.8,806.6 423.8,805.9 423.8,806.1 415.8,807.2 407.8,808.1 399.8,809.1 391.8,810.0" fill="#ffff00"/>
<polygon points="58.0,853.2 66.0,852.4 74.0,851.5 82.0,850.5 90.0,849.4 98.0,848.1 106.0,847.1 114.0,846.4 122.0,845.8 122.0,845.9 114.0,847.1 106.0,848.3 98.0,849.5 90.0,850.8 82.0,852.1 74.0,853.3 66.0,854.3 58.0,855.2" fill="#ffff00"/>
<polygon points="58.0,854.6 66.0,853.8 74.0,853.1 74.0,853.5 66.0,854.6 58.0,855.7" fill="#ffff00"/>
<polygon points="201.0,838.2 209.0,837.0 217.0,835.7 225.0,834.6 233.0,833.6 241.0,832.6 249.0,831.5 257.0,830.3 265.0,829.4 273.0,828.7 273.0,829.1 265.0,830.4 257.0,831.6 249.0,832.7 241.0,833.8 233.0,834.9 225.0,836.0 217.0,836.7 209.0,837.3 201.0,838.2" fill="#ffff00"/>
<polygon points="58.0,857.1 66.0,856.4 74.0,855.6 82.0,854.6 90.0,853.5 98.0,852.3 106.0,851.1 114.0,850.0 122.0,849.0 130.0,848.1 138.0,847.3 146.0,846.5 146.0,846.7 138.0,848.0 130.0,849.1 122.0,850.0 114.0,850.9 106.0,852.1 98.0,853.4 90.0,854.6 82.0,855.8 74.0,856.7 66.0,857.7 58.0,858.7" fill="#ffff00"/>
<polygon points="390.3,815.7 398.3,814.3 406.3,813.0 414.3,811.7 422.3,810.6 430.3,809.5 438.3,808.5 446.3,807.6 454.3,806.7 462.3,805.8 470.3,804.9 478.3,803.8 486.3,802.7 494.3,801.6 502.3,800.6 510.3,799.7 510.3,800.0 502.3,801.4 494.3,802.8 486.3,804.0 478.3,805.1 470.3,806.0 462.3,806.9 454.3,807.9 446.3,809.0 438.3,810.1 430.3,811.2 422.3,812.2 414.3,813.0 406.3,813.8 398.3,814.7 390.3,815.7" fill="#ffff00"/>
<polygon points="486.9,803.7 494.9,802.4 502.9,801.2 510.9,800.2 518.9,799.3 526.9,798.3 534.9,797.2 542.9,796.1 550.9,794.9 558.9,793.7 566.9,792.7 574.9,791.6 582.9,790.6 582.9,791.3 574.9,792.3 566.9,793.5 558.9,794.6 550.9,795.6 542.9,796.6 534.9,797.5 526.9,798.4 518.9,799.5 510.9,800.7 502.9,801.9 494.9,802.8 486.9,803.7" fill="#ffff00"/>
<polygon points="433.6,811.8 441.6,810.6 449.6,809.4 457.6,808.2 465.6,807.1 473.6,805.8 481.6,804.6 489.6,803.4 497.6,802.3 505.6,801.2 513.6,800.3 521.6,799.3 529.6,798.3 537.6,797.5 545.6,796.6 545.6,796.9 537.6,798.1 529.6,799.4 521.6,800.6 513.6,801.7 505.6,802.7 497.6,803.7 489.6,804.8 481.6,806.1 473.6,807.4 465.6,808.6 457.6,809.7 449.6,810.4 441.6,811.0 433.6,811.8" fill="#ffff00"/>
<polygon points="81.3,860.0 89.3,858.7 97.3,857.5 105.3,856.6 105.3,857.1 97.3,858.5 89.3,859.2 81.3,860.0" fill="#ffff00"/>
<polygon points="486.2,809.0 494.2,807.6 502.2,806.3 510.2,805.1 518.2,804.0 526.2,803.1 534.2,802.2 534.2,802.4 526.2,803.6 518.2,805.0 510.2,806.1 502.2,807.0 494.2,808.0 486.2,809.0" fill="#ffff00"/>
<polygon points="312.6,834.0 320.6,832.9 328.6,831.6 336.6,830.2 344.6,828.9 352.6,827.7 360.6,826.9 368.6,826.1 368.6,826.3 360.6,827.5 352.6,828.6 344.6,829.7 336.6,830.9 328.6,832.1 320.6,833.2 312.6,834.0" fill="#ffff00"/>
<polygon points="524.8,804.2 532.8,802.9 540.8,801.5 548.8,800.3 556.8,799.2 564.8,798.2 572.8,797.1 580.8,795.9 580.8,796.9 572.8,798.0 564.8,799.1 556.8,800.2 548.8,801.4 540.8,802.5 532.8,803.4 524.8,804.2" fill="#ffff00"/>
<polygon points="58.0,871.6 66.0,870.6 74.0,869.6 74.0,869.8 66.0,870.9 58.0,872.0" fill="#ffff00"/>
<polygon points="507.5,808.2 515.5,807.0 523.5,805.9 531.5,804.8 539.5,803.6 547.5,802.4 555.5,801.2 563.5,799.9 571.5,798.6 579.5,797.4 579.5,797.9 571.5,798.9 563.5,800.1 555.5,801.4 547.5,802.6 539.5,803.9 531.5,805.0 523.5,806.0 515.5,807.1 507.5,808.2" fill="#ffff00"/>
<polygon points="58.0,872.8 66.0,871.7 74.0,870.6 82.0,869.2 90.0,868.1 98.0,867.2 106.0,866.6 106.0,866.7 98.0,868.0 90.0,869.4 82.0,870.9 74.0,872.3 66.0,873.6 58.0,874.8" fill="#ffff00"/>
<polygon points="265.5,843.8 273.5,842.4 281.5,841.1 289.5,840.0 297.5,839.0 297.5,839.4 289.5,840.6 281.5,841.8 273.5,842.9 265.5,843.8" fill="#ffff00"/>
</g>
<polygon points="58.0,832.8 60.0,833.1 62.0,833.4 64.0,833.7 66.0,834.0 68.0,834.3 70.0,834.6 72.0,834.9 74.0,835.2 76.0,835.5 78.0,835.8 80.0,836.1 82.0,836.2 84.0,835.8 86.0,835.3 88.0,834.9 90.0,834.4 92.0,834.0 94.0,833.6 96.0,833.1 98.0,832.7 100.0,832.2 102.0,831.8 104.0,831.6 106.0,831.5 108.0,831.4 110.0,831.3 112.0,831.2 114.0,831.1 116.0,831.0 118.0,830.9 120.0,830.9 122.0,830.8 124.0,830.7 126.0,830.6 128.0,830.5 130.0,830.4 132.0,830.3 134.0,830.2 136.0,830.1 138.0,830.0 140.0,830.0 142.0,830.1 144.0,830.1 146.0,830.2 148.0,830.2 150.0,830.2 152.0,830.3 154.0,830.3 156.0,830.4 158.0,830.4 160.0,830.4 162.0,830.5 164.0,830.5 166.0,830.5 168.0,830.6 170.0,830.6 172.0,830.7 174.0,830.7 176.0,830.7 178.0,830.8 180.0,830.8 182.0,830.8 184.0,830.9 186.0,830.9 188.0,831.0 190.0,831.0 192.0,831.1 194.0,831.3 196.0,831.4 198.0,831.5 200.0,831.6 202.0,831.8 204.0,831.9 206.0,832.0 208.0,832.2 210.0,832.3 212.0,832.4 214.0,832.6 216.0,832.7 218.0,832.8 220.0,832.9 222.0,833.1 224.0,833.2 226.0,833.3 228.0,833.5 230.0,832.8 232.0,832.0 234.0,831.1 236.0,830.2 238.0,829.3 240.0,828.4 242.0,827.6 244.0,826.7 246.0,825.8 248.0,825.2 250.0,824.7 252.0,824.1 254.0,823.5 256.0,822.9 258.0,822.4 260.0,821.8 262.0,821.2 264.0,820.7 266.0,820.1 268.0,819.8 270.0,819.7 272.0,819.6 274.0,819.5 276.0,819.5 278.0,819.4 280.0,819.3 282.0,819.3 284.0,819.2 286.0,819.1 288.0,819.0 290.0,819.0 292.0,818.9 294.0,818.8 296.0,818.7 298.0,818.4 300.0,818.2 302.0,818.0 304.0,817.7 306.0,817.5 308.0,817.3 310.0,817.0 312.0,816.8 314.0,816.5 316.0,816.3 318.0,816.2 320.0,816.0 322.0,815.9 324.0,815.7 326.0,815.6 328.0,815.4 330.0,815.3 332.0,814.8 334.0,814.4 336.0,813.9 338.0,813.5 340.0,813.0 342.0,812.7 344.0,812.5 346.0,812.4 348.0,812.2 350.0,812.0 352.0,811.8 354.0,811.6 356.0,811.5 358.0,811.3 360.0,811.1 362.0,810.9 364.0,810.8 366.0,810.6 368.0,810.4 370.0,810.2 372.0,810.0 374.0,810.0 376.0,810.0 378.0,810.0 380.0,810.0 382.0,810.0 384.0,810.0 386.0,810.0 388.0,810.0 390.0,810.0 392.0,810.0 394.0,810.0 396.0,810.0 398.0,810.0 400.0,810.0 402.0,810.0 404.0,810.0 406.0,810.0 408.0,810.0 410.0,810.0 412.0,809.8 414.0,809.3 416.0,808.8 418.0,808.3 420.0,807.8 422.0,807.3 424.0,806.8 426.0,806.3 428.0,805.8 430.0,805.3 432.0,804.8 434.0,804.0 436.0,803.2 438.0,802.4 440.0,801.6 442.0,800.8 444.0,800.0 446.0,799.2 448.0,798.4 450.0,797.7 452.0,797.5 454.0,797.3 456.0,797.1 458.0,796.9 460.0,796.7 462.0,796.5 464.0,796.3 466.0,796.1 468.0,795.9 470.0,795.7 472.0,795.5 474.0,795.3 476.0,795.0 478.0,794.6 480.0,794.3 482.0,794.0 484.0,793.6 486.0,793.3 488.0,793.0 490.0,792.6 492.0,792.3 494.0,792.0 496.0,791.6 498.0,791.3 500.0,791.0 502.0,790.7 504.0,790.4 506.0,790.0 508.0,789.7 510.0,789.4 512.0,789.1 514.0,788.8 516.0,788.4 518.0,788.1 520.0,787.8 522.0,787.5 524.0,787.2 526.0,786.8 528.0,786.5 530.0,786.2 532.0,785.8 534.0,785.4 536.0,784.9 538.0,784.5 540.0,784.1 542.0,783.7 544.0,783.2 546.0,782.8 548.0,782.4 550.0,782.0 552.0,781.6 554.0,781.1 556.0,780.7 558.0,780.3 560.0,779.7 562.0,779.2 564.0,778.6 566.0,778.0 568.0,777.4 570.0,776.9 572.0,776.3 574.0,775.7 576.0,775.2 578.0,774.6 580.0,774.2 582.0,774.0 584.0,773.7 586.0,773.5 588.0,773.3 589.5,856.1 56.5,856.1" fill="#777777"/>
<path d="M62.0 831.4L64.3 831.8" stroke="#ee2200" stroke-width="0.8" fill="none"/>
<path d="M108.4 828.6L112.1 828.0" stroke="#ee2200" stroke-width="1.0" fill="none"/>
<path d="M140.1 827.6L144.7 827.4" stroke="#ee2200" stroke-width="1.0" fill="none"/>
<path d="M166.3 827.6L168.4 827.1" stroke="#ee2200" stroke-width="1.0" fill="none"/>
<path d="M179.0 830.0L184.0 829.8" stroke="#ee2200" stroke-width="1.1" fill="none"/>
<path d="M229.7 831.4L236.6 828.1" stroke="#ee2200" stroke-width="1.3" fill="none"/>
<path d="M253.2 821.8L256.3 821.1" stroke="#ee2200" stroke-width="1.3" fill="none"/>
<path d="M286.5 817.2L291.6 817.2" stroke="#ee2200" stroke-width="1.5" fill="none"/>
<path d="M302.5 815.7L308.1 814.9" stroke="#ee2200" stroke-width="0.8" fill="none"/>
<path d="M334.4 812.1L340.0 810.4" stroke="#ee2200" stroke-width="0.8" fill="none"/>
<path d="M351.2 810.8L353.4 810.1" stroke="#ee2200" stroke-width="1.5" fill="none"/>
<path d="M365.4 807.5L370.6 807.0" stroke="#ee2200" stroke-width="0.9" fill="none"/>
<path d="M379.5 808.5L383.3 808.3" stroke="#ee2200" stroke-width="1.0" fill="none"/>
<path d="M399.9 808.0L405.3 808.5" stroke="#ee2200" stroke-width="1.4" fill="none"/>
<path d="M416.4 807.7L422.2 806.2" stroke="#ee2200" stroke-width="1.4" fill="none"/>
<path d="M451.9 794.7L454.0 794.7" stroke="#ee2200" stroke-width="0.9" fill="none"/>
<path d="M471.5 793.0L474.5 792.5" stroke="#ee2200" stroke-width="1.6" fill="none"/>
<path d="M540.8 780.7L543.3 780.5" stroke="#ee2200" stroke-width="1.7" fill="none"/>
<rect x="56.5" y="666.5" width="2.6" height="189.60000000000002" fill="#f6f6f6"/>
<rect x="586.9" y="666.5" width="2.6" height="189.60000000000002" fill="#e2e2e2"/>
</g>
<path fill="#000" fill-rule="evenodd" d="M53.0 662.7H593.5V860.0H53.0Z M57.0 667.0V855.6H589.0V667.0Z"/>
<text x="43.6" y="672.1" font-size="20.4" text-anchor="end">0</text>
<text x="43.6" y="720.3" font-size="20.4" text-anchor="end">1</text>
<text x="43.6" y="768.5" font-size="20.4" text-anchor="end">2</text>
<text x="43.6" y="816.8" font-size="20.4" text-anchor="end">3</text>
<text x="43.6" y="865.0" font-size="20.4" text-anchor="end">4</text>
<text x="55.6" y="886.0" font-size="20" text-anchor="middle">0</text>
<text x="323.7" y="886.0" font-size="20" text-anchor="middle">1.2</text>
<text x="590.5" y="886.0" font-size="20" text-anchor="middle">2.4</text>
<text x="322.3" y="916.8" font-size="21.8" text-anchor="middle">distance (km)</text>
<text transform="translate(19.6 762.8) rotate(-90)" font-size="21.7" text-anchor="middle">two-way time(s)</text>
<text x="323.3" y="652.2" font-size="25.3" font-weight="bold" text-anchor="middle" style="stroke-width:0.12px">(c) Lithofacies Prediction Result</text>
<rect x="624" y="659.2" width="171.4" height="220.4" fill="#fff" stroke="#222" stroke-width="1.3"/>
<rect x="641.2" y="676.6" width="14.6" height="14.4" fill="#a6a6a6"/>
<text x="672" y="689.6" font-size="15.6">Shallow region</text>
<rect x="641.2" y="710.9" width="14.6" height="14.4" fill="#777777"/>
<text x="672" y="723.9" font-size="15.6">Basement rock</text>
<rect x="641.2" y="745.2" width="14.6" height="14.4" fill="#ff0000"/>
<text x="672" y="758.2" font-size="15.6">Volcanic cement</text>
<rect x="641.2" y="779.5" width="14.6" height="14.4" fill="#e000e0"/>
<text x="672" y="792.5" font-size="15.6">Transition rock</text>
<rect x="641.2" y="813.8" width="14.6" height="14.4" fill="#ffa500"/>
<text x="672" y="826.8" font-size="15.6">Shale</text>
<rect x="641.2" y="848.1" width="14.6" height="14.4" fill="#ffff00"/>
<text x="672" y="861.1" font-size="15.6">Sand</text>
</svg></body></html>
